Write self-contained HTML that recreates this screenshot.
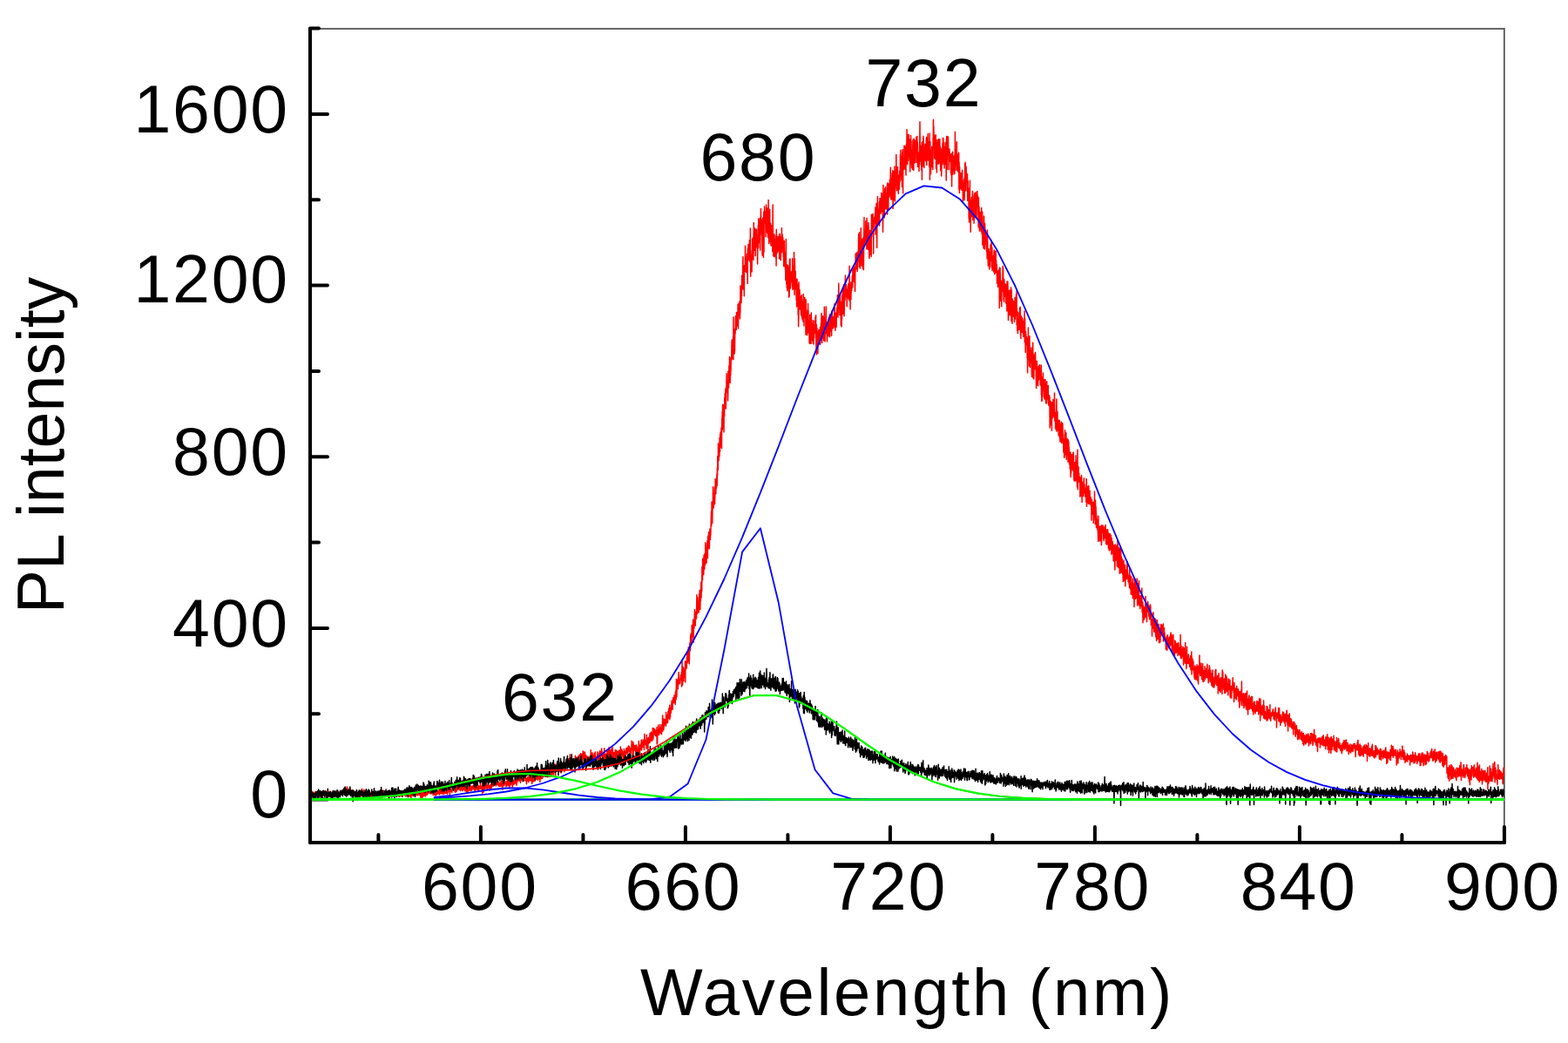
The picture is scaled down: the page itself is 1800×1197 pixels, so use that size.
<!DOCTYPE html>
<html><head><meta charset="utf-8"><title>PL spectrum</title><style>html,body{margin:0;padding:0;background:#fff;}svg{display:block;}</style></head><body>
<svg width="1800" height="1197" viewBox="0 0 1800 1197">
<rect width="1800" height="1197" fill="#fff"/>
<defs><clipPath id="c"><rect x="356" y="33" width="1371" height="934"/></clipPath></defs>
<rect x="356" y="32" width="1371" height="2" fill="#666"/>
<rect x="1726" y="32" width="1" height="935" fill="#4a4a4a"/>
<rect x="1727" y="32" width="1" height="935" fill="#8a8a8a"/>
<g stroke="#000" stroke-width="4" stroke-linecap="round"><line x1="356" y1="917.6" x2="376" y2="917.6"/><line x1="356" y1="819.3" x2="366" y2="819.3"/><line x1="356" y1="720.9" x2="376" y2="720.9"/><line x1="356" y1="622.6" x2="366" y2="622.6"/><line x1="356" y1="524.3" x2="376" y2="524.3"/><line x1="356" y1="426.0" x2="366" y2="426.0"/><line x1="356" y1="327.6" x2="376" y2="327.6"/><line x1="356" y1="229.3" x2="366" y2="229.3"/><line x1="356" y1="131.0" x2="376" y2="131.0"/><line x1="356" y1="32.6" x2="366" y2="32.6"/><line x1="434.4" y1="967" x2="434.4" y2="958"/><line x1="551.9" y1="967" x2="551.9" y2="949"/><line x1="669.4" y1="967" x2="669.4" y2="958"/><line x1="786.9" y1="967" x2="786.9" y2="949"/><line x1="904.4" y1="967" x2="904.4" y2="958"/><line x1="1021.9" y1="967" x2="1021.9" y2="949"/><line x1="1139.4" y1="967" x2="1139.4" y2="958"/><line x1="1256.9" y1="967" x2="1256.9" y2="949"/><line x1="1374.4" y1="967" x2="1374.4" y2="958"/><line x1="1491.9" y1="967" x2="1491.9" y2="949"/><line x1="1609.4" y1="967" x2="1609.4" y2="958"/><line x1="1726.9" y1="967" x2="1726.9" y2="949"/></g>
<g clip-path="url(#c)">
<polyline points="356.1,911.6 356.3,909.5 356.5,909.7 356.7,912.5 356.9,912.1 357.1,912.4 357.3,910.5 357.5,911.4 357.7,910.0 357.9,914.2 358.1,908.5 358.3,911.1 358.5,909.8 358.6,911.0 358.8,911.3 359.0,909.9 359.2,909.2 359.4,910.8 359.6,910.7 359.8,909.3 360.0,911.8 360.2,912.8 360.4,909.7 360.6,911.4 360.8,913.4 361.0,911.6 361.2,911.0 361.4,912.2 361.6,912.6 361.8,910.1 362.0,908.7 362.2,910.6 362.4,911.5 362.6,909.6 362.8,909.1 363.0,910.8 363.2,909.5 363.3,908.7 363.5,910.7 363.7,911.8 363.9,909.9 364.1,910.1 364.3,908.7 364.5,912.6 364.7,911.7 364.9,912.0 365.1,913.5 365.3,910.5 365.5,909.9 365.7,912.0 365.9,908.6 366.1,909.6 366.3,910.0 366.5,910.5 366.7,909.7 366.9,913.5 367.1,910.4 367.3,910.5 367.5,914.4 367.7,911.0 367.9,912.0 368.0,910.3 368.2,912.3 368.4,911.6 368.6,911.0 368.8,913.0 369.0,910.5 369.2,911.6 369.4,910.5 369.6,912.1 369.8,909.4 370.0,910.1 370.2,911.3 370.4,909.9 370.6,908.7 370.8,907.8 371.0,913.2 371.2,909.1 371.4,909.7 371.6,910.6 371.8,912.1 372.0,908.3 372.2,912.4 372.4,909.5 372.6,908.3 372.7,913.1 372.9,911.0 373.1,912.7 373.3,910.2 373.5,908.2 373.7,907.5 373.9,913.8 374.1,911.9 374.3,910.0 374.5,908.6 374.7,910.6 374.9,912.6 375.1,911.0 375.3,911.6 375.5,912.0 375.7,912.9 375.9,911.2 376.1,911.3 376.3,912.0 376.5,912.3 376.7,914.0 376.9,912.8 377.1,910.0 377.3,912.3 377.4,914.4 377.6,909.9 377.8,911.2 378.0,908.6 378.2,912.0 378.4,912.9 378.6,914.5 378.8,910.0 379.0,908.0 379.2,913.6 379.4,913.3 379.6,911.3 379.8,913.7 380.0,912.8 380.2,912.9 380.4,912.0 380.6,910.5 380.8,912.3 381.0,910.8 381.2,912.9 381.4,911.6 381.6,915.6 381.8,914.4 382.0,910.7 382.1,912.9 382.3,910.9 382.5,910.9 382.7,909.5 382.9,910.3 383.1,909.9 383.3,911.7 383.5,912.6 383.7,912.6 383.9,912.1 384.1,913.2 384.3,912.2 384.5,911.4 384.7,910.8 384.9,911.7 385.1,914.3 385.3,911.3 385.5,910.8 385.7,909.4 385.9,910.2 386.1,912.1 386.3,912.2 386.5,907.7 386.7,909.7 386.8,907.9 387.0,907.4 387.2,912.2 387.4,910.1 387.6,909.9 387.8,909.7 388.0,909.7 388.2,910.1 388.4,910.1 388.6,912.8 388.8,910.6 389.0,911.5 389.2,910.0 389.4,910.9 389.6,909.1 389.8,908.8 390.0,909.5 390.2,909.5 390.4,909.8 390.6,910.6 390.8,910.1 391.0,910.5 391.2,909.0 391.4,909.5 391.5,908.5 391.7,911.6 391.9,907.8 392.1,910.5 392.3,910.4 392.5,909.4 392.7,910.0 392.9,908.5 393.1,909.9 393.3,910.7 393.5,910.3 393.7,906.4 393.9,908.6 394.1,910.7 394.3,908.5 394.5,911.3 394.7,905.1 394.9,911.1 395.1,907.3 395.3,907.1 395.5,910.7 395.7,907.3 395.9,905.8 396.1,906.7 396.2,907.0 396.4,905.6 396.6,906.9 396.8,906.5 397.0,907.2 397.2,905.6 397.4,908.6 397.6,905.1 397.8,907.5 398.0,908.6 398.2,905.7 398.4,903.0 398.6,904.4 398.8,907.3 399.0,904.9 399.2,907.2 399.4,906.6 399.6,906.3 399.8,911.0 400.0,906.3 400.2,908.8 400.4,908.3 400.6,909.9 400.8,910.1 400.9,909.1 401.1,905.9 401.3,904.5 401.5,907.8 401.7,905.9 401.9,908.5 402.1,911.7 402.3,908.0 402.5,907.6 402.7,909.3 402.9,908.1 403.1,907.7 403.3,910.4 403.5,911.6 403.7,909.5 403.9,909.6 404.1,910.0 404.3,907.8 404.5,906.7 404.7,910.5 404.9,908.8 405.1,908.6 405.3,909.2 405.5,908.8 405.6,911.4 405.8,909.7 406.0,907.8 406.2,910.0 406.4,912.4 406.6,910.6 406.8,909.6 407.0,911.1 407.2,912.6 407.4,909.3 407.6,913.8 407.8,911.0 408.0,911.8 408.2,913.6 408.4,909.7 408.6,911.0 408.8,913.4 409.0,910.5 409.2,912.0 409.4,914.3 409.6,912.3 409.8,910.7 410.0,910.1 410.2,910.8 410.3,911.0 410.5,910.3 410.7,911.4 410.9,909.2 411.1,910.9 411.3,910.7 411.5,910.4 411.7,912.9 411.9,912.4 412.1,909.0 412.3,910.9 412.5,911.9 412.7,911.0 412.9,912.3 413.1,911.1 413.3,912.6 413.5,911.1 413.7,914.0 413.9,909.4 414.1,912.2 414.3,913.8 414.5,911.6 414.7,911.8 414.9,910.9 415.0,912.9 415.2,910.4 415.4,905.3 415.6,912.9 415.8,910.3 416.0,911.3 416.2,910.5 416.4,913.6 416.6,912.5 416.8,910.0 417.0,910.8 417.2,908.2 417.4,911.9 417.6,910.5 417.8,906.3 418.0,912.1 418.2,912.4 418.4,911.1 418.6,911.2 418.8,910.0 419.0,911.2 419.2,912.7 419.4,911.3 419.6,907.7 419.7,909.9 419.9,916.3 420.1,912.3 420.3,913.6 420.5,911.3 420.7,912.7 420.9,909.5 421.1,911.1 421.3,911.2 421.5,912.4 421.7,912.7 421.9,912.2 422.1,910.7 422.3,911.9 422.5,913.2 422.7,910.7 422.9,912.4 423.1,912.8 423.3,913.8 423.5,913.4 423.7,913.5 423.9,916.8 424.1,910.9 424.3,911.5 424.4,912.7 424.6,910.7 424.8,911.6 425.0,911.7 425.2,916.1 425.4,912.6 425.6,911.4 425.8,909.8 426.0,909.4 426.2,910.1 426.4,914.1 426.6,915.7 426.8,911.4 427.0,912.3 427.2,910.9 427.4,912.6 427.6,912.1 427.8,914.7 428.0,911.8 428.2,913.2 428.4,911.9 428.6,911.8 428.8,912.7 429.0,912.0 429.1,912.5 429.3,911.2 429.5,911.6 429.7,913.2 429.9,913.2 430.1,909.6 430.3,912.4 430.5,910.7 430.7,911.6 430.9,913.0 431.1,913.3 431.3,911.9 431.5,911.7 431.7,911.2 431.9,914.0 432.1,913.0 432.3,912.3 432.5,909.7 432.7,915.7 432.9,911.5 433.1,913.0 433.3,911.5 433.5,912.9 433.7,911.6 433.8,909.7 434.0,911.5 434.2,911.4 434.4,911.4 434.6,913.1 434.8,911.0 435.0,912.1 435.2,913.0 435.4,911.7 435.6,911.9 435.8,910.4 436.0,911.5 436.2,912.2 436.4,909.1 436.6,909.7 436.8,909.2 437.0,910.2 437.2,911.2 437.4,911.7 437.6,911.4 437.8,909.5 438.0,910.8 438.2,913.1 438.4,910.9 438.5,913.0 438.7,910.5 438.9,912.6 439.1,912.6 439.3,910.4 439.5,910.7 439.7,913.0 439.9,909.3 440.1,907.1 440.3,912.6 440.5,907.5 440.7,911.3 440.9,911.0 441.1,910.5 441.3,912.5 441.5,908.3 441.7,909.6 441.9,911.6 442.1,910.9 442.3,912.9 442.5,911.2 442.7,909.4 442.9,913.6 443.1,911.8 443.2,911.0 443.4,909.8 443.6,909.5 443.8,912.4 444.0,913.0 444.2,911.3 444.4,912.6 444.6,912.6 444.8,910.6 445.0,909.7 445.2,911.9 445.4,912.6 445.6,911.4 445.8,915.1 446.0,912.2 446.2,913.7 446.4,908.3 446.6,910.8 446.8,911.6 447.0,912.0 447.2,915.4 447.4,910.4 447.6,908.9 447.8,912.5 447.9,910.2 448.1,910.1 448.3,913.6 448.5,909.7 448.7,909.1 448.9,910.8 449.1,911.3 449.3,910.0 449.5,913.6 449.7,911.1 449.9,909.6 450.1,913.2 450.3,909.8 450.5,911.9 450.7,914.5 450.9,911.5 451.1,912.8 451.3,910.8 451.5,913.1 451.7,909.7 451.9,912.4 452.1,910.7 452.3,912.1 452.5,911.7 452.6,909.3 452.8,910.8 453.0,911.7 453.2,913.1 453.4,909.3 453.6,910.0 453.8,911.6 454.0,910.8 454.2,912.8 454.4,912.8 454.6,912.6 454.8,910.8 455.0,910.9 455.2,912.6 455.4,910.4 455.6,910.3 455.8,911.4 456.0,910.1 456.2,912.2 456.4,912.0 456.6,911.1 456.8,912.0 457.0,910.7 457.2,914.0 457.3,909.8 457.5,913.3 457.7,912.3 457.9,914.2 458.1,911.1 458.3,910.0 458.5,910.3 458.7,910.6 458.9,914.3 459.1,913.0 459.3,912.5 459.5,913.1 459.7,909.9 459.9,911.3 460.1,911.5 460.3,910.7 460.5,912.9 460.7,912.8 460.9,912.8 461.1,910.6 461.3,910.8 461.5,910.5 461.7,909.7 461.9,913.5 462.0,912.3 462.2,911.2 462.4,913.6 462.6,912.3 462.8,909.9 463.0,909.8 463.2,909.8 463.4,911.5 463.6,911.9 463.8,909.9 464.0,912.2 464.2,911.1 464.4,909.5 464.6,912.2 464.8,912.6 465.0,911.7 465.2,910.7 465.4,910.9 465.6,911.4 465.8,910.7 466.0,914.1 466.2,912.9 466.4,911.2 466.6,912.9 466.7,913.5 466.9,913.3 467.1,912.8 467.3,911.6 467.5,912.9 467.7,910.8 467.9,908.5 468.1,911.4 468.3,909.2 468.5,910.7 468.7,913.0 468.9,911.6 469.1,912.8 469.3,910.0 469.5,913.1 469.7,909.1 469.9,910.3 470.1,914.5 470.3,910.0 470.5,908.7 470.7,912.5 470.9,909.6 471.1,914.1 471.3,910.8 471.4,913.9 471.6,910.5 471.8,914.1 472.0,915.5 472.2,910.6 472.4,907.6 472.6,912.3 472.8,910.0 473.0,911.2 473.2,911.9 473.4,910.4 473.6,908.7 473.8,913.3 474.0,910.4 474.2,910.7 474.4,913.6 474.6,908.6 474.8,908.0 475.0,912.6 475.2,908.2 475.4,910.8 475.6,911.1 475.8,908.3 476.0,910.3 476.1,910.1 476.3,908.0 476.5,908.3 476.7,908.9 476.9,912.6 477.1,912.9 477.3,908.4 477.5,911.8 477.7,910.0 477.9,912.0 478.1,910.6 478.3,912.4 478.5,907.6 478.7,912.0 478.9,910.6 479.1,910.7 479.3,908.5 479.5,912.9 479.7,910.7 479.9,911.1 480.1,909.9 480.3,910.1 480.5,911.7 480.7,910.6 480.8,911.7 481.0,910.4 481.2,911.4 481.4,912.4 481.6,911.5 481.8,910.9 482.0,907.8 482.2,912.4 482.4,911.1 482.6,909.3 482.8,915.2 483.0,914.7 483.2,913.8 483.4,912.0 483.6,907.7 483.8,911.2 484.0,909.8 484.2,912.2 484.4,915.9 484.6,915.6 484.8,910.0 485.0,911.3 485.2,913.8 485.4,909.7 485.5,914.1 485.7,909.6 485.9,909.0 486.1,912.6 486.3,913.2 486.5,909.8 486.7,913.0 486.9,909.7 487.1,913.1 487.3,909.6 487.5,910.8 487.7,911.6 487.9,912.4 488.1,910.4 488.3,914.0 488.5,911.2 488.7,911.3 488.9,909.5 489.1,912.7 489.3,907.6 489.5,911.1 489.7,912.4 489.9,908.1 490.1,907.6 490.2,910.7 490.4,911.9 490.6,910.3 490.8,911.4 491.0,910.7 491.2,907.4 491.4,909.4 491.6,909.7 491.8,909.3 492.0,909.9 492.2,908.3 492.4,908.1 492.6,910.2 492.8,909.3 493.0,905.2 493.2,908.6 493.4,909.5 493.6,905.6 493.8,909.1 494.0,910.9 494.2,907.8 494.4,910.6 494.6,909.9 494.8,908.4 494.9,909.3 495.1,910.4 495.3,910.1 495.5,910.3 495.7,907.3 495.9,910.7 496.1,910.6 496.3,906.1 496.5,910.7 496.7,907.3 496.9,907.7 497.1,910.3 497.3,912.6 497.5,909.4 497.7,909.1 497.9,908.6 498.1,910.2 498.3,908.2 498.5,907.9 498.7,912.1 498.9,907.7 499.1,909.9 499.3,911.2 499.5,910.7 499.6,906.8 499.8,908.3 500.0,913.2 500.2,909.8 500.4,910.2 500.6,910.2 500.8,910.7 501.0,912.3 501.2,908.2 501.4,911.3 501.6,910.2 501.8,910.6 502.0,910.7 502.2,908.1 502.4,908.6 502.6,910.5 502.8,910.9 503.0,910.0 503.2,907.3 503.4,908.7 503.6,908.5 503.8,909.4 504.0,909.2 504.2,908.3 504.3,911.9 504.5,905.6 504.7,909.9 504.9,909.4 505.1,906.0 505.3,907.9 505.5,908.2 505.7,909.3 505.9,911.1 506.1,908.0 506.3,906.1 506.5,909.9 506.7,905.8 506.9,910.4 507.1,909.7 507.3,907.4 507.5,908.3 507.7,907.0 507.9,909.6 508.1,910.1 508.3,911.6 508.5,910.3 508.7,910.0 508.9,910.6 509.0,907.4 509.2,909.1 509.4,911.5 509.6,903.3 509.8,909.4 510.0,910.1 510.2,905.5 510.4,905.7 510.6,910.0 510.8,910.6 511.0,909.7 511.2,905.8 511.4,908.4 511.6,909.3 511.8,907.9 512.0,905.6 512.2,910.4 512.4,908.5 512.6,910.3 512.8,903.6 513.0,904.2 513.2,905.8 513.4,907.7 513.6,906.2 513.7,911.3 513.9,906.8 514.1,909.7 514.3,909.6 514.5,908.4 514.7,907.7 514.9,905.9 515.1,905.6 515.3,906.4 515.5,908.6 515.7,905.5 515.9,907.0 516.1,904.6 516.3,908.6 516.5,912.1 516.7,907.8 516.9,902.8 517.1,906.1 517.3,907.4 517.5,905.4 517.7,906.2 517.9,906.3 518.1,908.2 518.3,907.2 518.4,907.0 518.6,908.6 518.8,909.5 519.0,907.1 519.2,905.5 519.4,906.1 519.6,906.4 519.8,906.3 520.0,902.2 520.2,906.6 520.4,905.0 520.6,903.2 520.8,906.8 521.0,906.3 521.2,904.7 521.4,903.3 521.6,905.9 521.8,905.7 522.0,906.2 522.2,908.6 522.4,904.0 522.6,906.6 522.8,909.3 523.0,906.2 523.1,909.2 523.3,907.7 523.5,905.6 523.7,907.4 523.9,903.4 524.1,908.3 524.3,904.8 524.5,904.2 524.7,902.4 524.9,903.4 525.1,904.7 525.3,904.9 525.5,905.1 525.7,902.7 525.9,906.2 526.1,903.9 526.3,905.1 526.5,904.4 526.7,905.4 526.9,900.6 527.1,906.1 527.3,904.3 527.5,904.3 527.7,903.6 527.8,903.9 528.0,903.9 528.2,902.7 528.4,907.6 528.6,904.6 528.8,907.0 529.0,903.9 529.2,906.6 529.4,906.1 529.6,904.2 529.8,901.1 530.0,902.6 530.2,903.1 530.4,900.8 530.6,905.4 530.8,907.6 531.0,904.2 531.2,903.9 531.4,900.9 531.6,899.1 531.8,906.2 532.0,898.6 532.2,900.5 532.4,902.1 532.5,903.2 532.7,899.2 532.9,904.1 533.1,905.4 533.3,904.3 533.5,907.5 533.7,903.9 533.9,905.3 534.1,904.5 534.3,904.5 534.5,907.5 534.7,902.7 534.9,907.6 535.1,903.7 535.3,908.8 535.5,904.8 535.7,907.2 535.9,905.5 536.1,906.8 536.3,909.9 536.5,907.7 536.7,905.2 536.9,904.0 537.1,908.2 537.2,909.5 537.4,906.9 537.6,905.4 537.8,906.2 538.0,906.5 538.2,903.0 538.4,902.7 538.6,903.1 538.8,906.6 539.0,904.5 539.2,905.0 539.4,907.6 539.6,902.8 539.8,904.5 540.0,905.7 540.2,901.8 540.4,903.2 540.6,903.0 540.8,902.4 541.0,903.4 541.2,907.6 541.4,905.8 541.6,902.9 541.8,906.6 541.9,904.9 542.1,904.1 542.3,901.9 542.5,902.1 542.7,902.9 542.9,905.1 543.1,902.7 543.3,903.5 543.5,904.8 543.7,901.6 543.9,903.3 544.1,905.9 544.3,901.5 544.5,904.6 544.7,902.8 544.9,907.1 545.1,903.8 545.3,905.7 545.5,905.6 545.7,907.4 545.9,898.8 546.1,903.5 546.3,902.5 546.5,900.6 546.6,903.1 546.8,901.6 547.0,905.5 547.2,902.2 547.4,903.4 547.6,901.4 547.8,902.1 548.0,905.4 548.2,906.5 548.4,904.7 548.6,901.0 548.8,901.7 549.0,901.8 549.2,907.0 549.4,908.5 549.6,904.1 549.8,903.6 550.0,904.2 550.2,902.2 550.4,903.3 550.6,905.5 550.8,904.9 551.0,902.7 551.2,902.9 551.3,903.2 551.5,898.2 551.7,903.7 551.9,902.9 552.1,905.4 552.3,904.1 552.5,902.2 552.7,902.2 552.9,903.8 553.1,902.6 553.3,903.4 553.5,907.6 553.7,910.6 553.9,898.6 554.1,901.7 554.3,903.6 554.5,907.2 554.7,906.2 554.9,900.4 555.1,909.3 555.3,903.8 555.5,901.1 555.7,902.6 555.9,901.1 556.0,902.9 556.2,897.3 556.4,904.6 556.6,905.2 556.8,901.5 557.0,898.9 557.2,902.1 557.4,899.7 557.6,903.1 557.8,904.6 558.0,899.0 558.2,898.7 558.4,898.8 558.6,903.3 558.8,904.9 559.0,905.1 559.2,903.1 559.4,901.4 559.6,901.6 559.8,906.0 560.0,902.4 560.2,902.8 560.4,902.7 560.6,903.0 560.7,903.3 560.9,901.6 561.1,902.6 561.3,902.3 561.5,904.3 561.7,901.9 561.9,903.0 562.1,907.3 562.3,901.5 562.5,903.1 562.7,900.4 562.9,902.7 563.1,902.4 563.3,901.6 563.5,901.9 563.7,902.7 563.9,905.6 564.1,897.2 564.3,904.7 564.5,901.7 564.7,899.3 564.9,899.7 565.1,899.2 565.3,898.6 565.4,897.3 565.6,899.4 565.8,893.5 566.0,902.2 566.2,899.4 566.4,900.7 566.6,901.1 566.8,899.2 567.0,896.6 567.2,901.5 567.4,901.5 567.6,898.2 567.8,898.5 568.0,895.2 568.2,897.2 568.4,898.9 568.6,900.1 568.8,898.7 569.0,899.4 569.2,902.0 569.4,898.7 569.6,899.0 569.8,899.0 570.0,899.4 570.1,894.5 570.3,896.8 570.5,896.2 570.7,899.8 570.9,900.8 571.1,899.2 571.3,898.1 571.5,899.6 571.7,899.4 571.9,896.9 572.1,898.6 572.3,901.7 572.5,900.5 572.7,901.1 572.9,899.3 573.1,902.5 573.3,900.3 573.5,898.3 573.7,899.9 573.9,902.1 574.1,901.4 574.3,899.7 574.5,898.8 574.7,897.9 574.8,900.1 575.0,902.8 575.2,896.4 575.4,898.9 575.6,898.6 575.8,898.7 576.0,901.7 576.2,900.0 576.4,898.5 576.6,896.6 576.8,898.8 577.0,906.2 577.2,899.4 577.4,898.0 577.6,895.7 577.8,897.0 578.0,892.8 578.2,895.3 578.4,895.5 578.6,896.4 578.8,901.9 579.0,896.6 579.2,897.2 579.4,899.8 579.5,897.2 579.7,897.6 579.9,899.6 580.1,898.8 580.3,899.1 580.5,897.8 580.7,899.3 580.9,897.0 581.1,902.8 581.3,898.8 581.5,902.1 581.7,899.2 581.9,896.8 582.1,898.0 582.3,898.3 582.5,897.8 582.7,894.3 582.9,900.7 583.1,896.0 583.3,901.8 583.5,899.3 583.7,897.9 583.9,900.4 584.1,898.0 584.2,896.9 584.4,901.6 584.6,899.0 584.8,899.9 585.0,903.7 585.2,899.6 585.4,901.1 585.6,895.9 585.8,901.3 586.0,895.0 586.2,900.4 586.4,894.3 586.6,897.6 586.8,897.6 587.0,896.6 587.2,896.2 587.4,894.8 587.6,893.8 587.8,898.7 588.0,900.7 588.2,904.0 588.4,898.2 588.6,895.3 588.8,896.1 588.9,896.6 589.1,897.6 589.3,898.2 589.5,897.2 589.7,895.5 589.9,900.8 590.1,894.6 590.3,899.9 590.5,896.7 590.7,897.8 590.9,897.1 591.1,898.7 591.3,898.9 591.5,896.6 591.7,898.6 591.9,889.7 592.1,896.8 592.3,897.2 592.5,896.8 592.7,898.0 592.9,901.3 593.1,895.7 593.3,894.1 593.5,898.5 593.6,894.5 593.8,897.4 594.0,894.3 594.2,893.2 594.4,892.7 594.6,892.7 594.8,895.4 595.0,891.3 595.2,894.5 595.4,892.4 595.6,891.4 595.8,893.9 596.0,896.3 596.2,891.4 596.4,895.7 596.6,895.1 596.8,895.6 597.0,890.6 597.2,893.1 597.4,898.5 597.6,890.9 597.8,887.5 598.0,888.2 598.2,894.3 598.3,892.7 598.5,891.6 598.7,890.7 598.9,892.9 599.1,895.8 599.3,891.0 599.5,891.4 599.7,896.4 599.9,893.8 600.1,892.1 600.3,892.7 600.5,891.3 600.7,890.6 600.9,891.2 601.1,892.9 601.3,896.2 601.5,891.1 601.7,889.1 601.9,887.7 602.1,893.1 602.3,893.2 602.5,889.5 602.7,889.6 602.9,892.7 603.0,891.8 603.2,895.9 603.4,892.4 603.6,896.2 603.8,894.5 604.0,894.5 604.2,895.5 604.4,899.8 604.6,896.4 604.8,893.3 605.0,894.3 605.2,895.2 605.4,892.9 605.6,892.2 605.8,891.7 606.0,896.1 606.2,893.8 606.4,894.7 606.6,896.0 606.8,897.6 607.0,893.8 607.2,895.8 607.4,887.6 607.6,893.5 607.7,893.8 607.9,894.1 608.1,887.9 608.3,895.4 608.5,893.2 608.7,894.8 608.9,893.0 609.1,892.7 609.3,889.5 609.5,896.3 609.7,892.5 609.9,888.0 610.1,893.8 610.3,892.9 610.5,894.8 610.7,899.5 610.9,892.7 611.1,889.2 611.3,893.7 611.5,897.4 611.7,891.6 611.9,892.1 612.1,889.5 612.3,889.7 612.4,892.8 612.6,890.9 612.8,896.8 613.0,888.6 613.2,891.0 613.4,888.4 613.6,888.2 613.8,891.8 614.0,891.2 614.2,893.0 614.4,896.1 614.6,890.6 614.8,889.7 615.0,893.0 615.2,887.9 615.4,889.5 615.6,888.5 615.8,891.8 616.0,894.5 616.2,887.5 616.4,887.9 616.6,890.0 616.8,890.9 617.0,890.5 617.1,890.1 617.3,891.1 617.5,895.3 617.7,887.5 617.9,893.8 618.1,890.5 618.3,890.3 618.5,888.6 618.7,893.8 618.9,885.7 619.1,887.1 619.3,886.7 619.5,885.2 619.7,890.9 619.9,897.4 620.1,887.6 620.3,884.8 620.5,885.2 620.7,890.0 620.9,888.7 621.1,887.7 621.3,893.7 621.5,890.5 621.7,890.5 621.8,884.2 622.0,890.6 622.2,884.3 622.4,888.7 622.6,893.5 622.8,882.4 623.0,891.4 623.2,886.8 623.4,883.5 623.6,889.8 623.8,891.6 624.0,884.9 624.2,887.5 624.4,891.0 624.6,890.4 624.8,888.3 625.0,884.2 625.2,887.6 625.4,884.8 625.6,881.8 625.8,882.8 626.0,882.3 626.2,882.9 626.4,891.1 626.5,882.9 626.7,885.6 626.9,887.0 627.1,889.9 627.3,891.5 627.5,890.2 627.7,887.1 627.9,890.7 628.1,889.8 628.3,889.3 628.5,885.7 628.7,888.6 628.9,888.3 629.1,884.1 629.3,889.1 629.5,886.4 629.7,891.4 629.9,887.4 630.1,888.0 630.3,887.9 630.5,889.7 630.7,891.4 630.9,889.1 631.1,889.5 631.2,884.9 631.4,885.2 631.6,891.3 631.8,885.6 632.0,888.7 632.2,885.7 632.4,888.3 632.6,891.0 632.8,883.3 633.0,884.7 633.2,889.5 633.4,891.3 633.6,887.1 633.8,888.8 634.0,886.2 634.2,883.1 634.4,880.4 634.6,885.8 634.8,880.4 635.0,880.9 635.2,885.7 635.4,889.3 635.6,881.6 635.8,882.2 635.9,876.7 636.1,879.4 636.3,881.2 636.5,878.3 636.7,886.4 636.9,882.4 637.1,883.6 637.3,877.2 637.5,880.6 637.7,891.6 637.9,877.7 638.1,884.5 638.3,879.1 638.5,882.8 638.7,880.4 638.9,879.0 639.1,880.2 639.3,883.6 639.5,876.2 639.7,879.2 639.9,880.5 640.1,878.2 640.3,882.0 640.5,874.4 640.6,879.6 640.8,879.2 641.0,879.4 641.2,883.4 641.4,884.3 641.6,880.1 641.8,879.9 642.0,876.9 642.2,879.9 642.4,884.9 642.6,880.0 642.8,879.2 643.0,878.8 643.2,881.0 643.4,886.0 643.6,878.5 643.8,884.5 644.0,880.3 644.2,887.1 644.4,879.6 644.6,884.3 644.8,878.3 645.0,875.9 645.2,877.7 645.3,884.9 645.5,884.0 645.7,883.6 645.9,878.6 646.1,879.4 646.3,879.9 646.5,879.3 646.7,878.4 646.9,878.0 647.1,874.6 647.3,880.2 647.5,879.3 647.7,885.8 647.9,884.1 648.1,881.9 648.3,883.4 648.5,878.7 648.7,875.9 648.9,880.5 649.1,880.5 649.3,880.3 649.5,878.0 649.7,879.9 649.9,876.5 650.0,876.6 650.2,876.1 650.4,874.5 650.6,876.6 650.8,875.9 651.0,870.4 651.2,876.0 651.4,873.1 651.6,875.3 651.8,876.8 652.0,876.7 652.2,877.8 652.4,874.9 652.6,876.9 652.8,876.2 653.0,870.8 653.2,875.2 653.4,870.9 653.6,873.8 653.8,871.8 654.0,876.6 654.2,874.1 654.4,865.8 654.6,871.7 654.7,871.1 654.9,873.6 655.1,871.4 655.3,878.1 655.5,877.0 655.7,872.6 655.9,871.2 656.1,875.2 656.3,874.4 656.5,874.9 656.7,874.3 656.9,877.6 657.1,878.3 657.3,873.7 657.5,879.3 657.7,876.7 657.9,875.6 658.1,877.0 658.3,872.6 658.5,874.9 658.7,873.7 658.9,876.9 659.1,876.0 659.3,871.7 659.4,872.2 659.6,874.9 659.8,872.0 660.0,872.5 660.2,872.4 660.4,867.3 660.6,873.9 660.8,870.9 661.0,870.6 661.2,872.6 661.4,875.6 661.6,869.0 661.8,870.3 662.0,870.8 662.2,870.7 662.4,870.6 662.6,873.6 662.8,869.5 663.0,876.6 663.2,870.5 663.4,875.6 663.6,871.7 663.8,868.1 664.0,871.5 664.1,872.3 664.3,869.0 664.5,871.8 664.7,872.4 664.9,872.4 665.1,866.0 665.3,869.0 665.5,869.7 665.7,875.6 665.9,869.4 666.1,876.0 666.3,869.9 666.5,875.4 666.7,864.8 666.9,877.3 667.1,867.1 667.3,868.4 667.5,877.1 667.7,871.6 667.9,865.5 668.1,866.3 668.3,875.7 668.5,871.4 668.7,873.4 668.8,872.6 669.0,871.0 669.2,862.1 669.4,867.9 669.6,869.0 669.8,869.2 670.0,865.7 670.2,865.6 670.4,871.3 670.6,863.1 670.8,872.1 671.0,869.5 671.2,867.3 671.4,863.2 671.6,870.7 671.8,868.9 672.0,865.7 672.2,868.5 672.4,867.1 672.6,867.8 672.8,870.9 673.0,869.9 673.2,869.2 673.4,872.8 673.5,867.4 673.7,880.1 673.9,876.5 674.1,868.3 674.3,871.9 674.5,875.7 674.7,872.0 674.9,869.4 675.1,875.1 675.3,870.2 675.5,873.2 675.7,872.9 675.9,872.6 676.1,868.2 676.3,875.9 676.5,873.0 676.7,869.3 676.9,875.7 677.1,876.9 677.3,869.2 677.5,871.1 677.7,871.6 677.9,870.5 678.1,874.4 678.2,860.7 678.4,874.3 678.6,872.3 678.8,875.8 679.0,872.1 679.2,865.2 679.4,870.4 679.6,868.2 679.8,871.9 680.0,863.7 680.2,869.3 680.4,874.1 680.6,866.8 680.8,870.7 681.0,867.0 681.2,868.5 681.4,867.9 681.6,868.1 681.8,871.6 682.0,873.6 682.2,864.7 682.4,868.5 682.6,866.9 682.8,869.5 682.9,875.0 683.1,872.3 683.3,862.9 683.5,870.6 683.7,869.2 683.9,873.1 684.1,869.9 684.3,869.5 684.5,869.1 684.7,868.7 684.9,870.8 685.1,870.7 685.3,868.8 685.5,867.7 685.7,869.5 685.9,862.9 686.1,868.3 686.3,868.5 686.5,871.4 686.7,865.5 686.9,872.7 687.1,874.8 687.3,872.4 687.5,866.7 687.6,872.8 687.8,864.1 688.0,868.6 688.2,873.8 688.4,869.1 688.6,861.7 688.8,871.0 689.0,872.4 689.2,865.7 689.4,862.7 689.6,863.6 689.8,868.2 690.0,866.2 690.2,865.6 690.4,862.5 690.6,858.9 690.8,867.0 691.0,862.0 691.2,867.9 691.4,864.8 691.6,870.4 691.8,870.0 692.0,866.0 692.2,871.0 692.3,864.9 692.5,870.3 692.7,868.4 692.9,869.2 693.1,870.4 693.3,869.0 693.5,865.8 693.7,858.7 693.9,874.1 694.1,868.9 694.3,870.6 694.5,873.2 694.7,868.9 694.9,872.9 695.1,869.9 695.3,865.0 695.5,876.4 695.7,867.9 695.9,866.9 696.1,871.5 696.3,865.8 696.5,866.0 696.7,868.0 696.9,862.0 697.0,870.6 697.2,863.1 697.4,865.8 697.6,868.4 697.8,864.9 698.0,865.2 698.2,860.8 698.4,869.0 698.6,864.2 698.8,865.1 699.0,857.8 699.2,867.6 699.4,859.9 699.6,870.1 699.8,862.7 700.0,864.7 700.2,863.0 700.4,867.1 700.6,871.7 700.8,870.4 701.0,860.2 701.2,864.3 701.4,868.2 701.6,861.9 701.7,867.9 701.9,867.9 702.1,869.7 702.3,861.1 702.5,858.3 702.7,868.9 702.9,864.4 703.1,862.0 703.3,858.0 703.5,874.4 703.7,865.3 703.9,863.6 704.1,871.3 704.3,864.6 704.5,865.5 704.7,863.6 704.9,868.5 705.1,864.9 705.3,868.7 705.5,864.4 705.7,866.0 705.9,868.0 706.1,871.9 706.3,860.8 706.4,862.9 706.6,863.7 706.8,869.4 707.0,868.3 707.2,861.0 707.4,864.3 707.6,870.1 707.8,866.8 708.0,866.4 708.2,867.6 708.4,870.2 708.6,862.1 708.8,864.3 709.0,867.1 709.2,871.9 709.4,868.2 709.6,866.0 709.8,862.7 710.0,867.1 710.2,861.7 710.4,865.1 710.6,868.3 710.8,875.8 711.0,869.9 711.1,871.0 711.3,866.1 711.5,864.4 711.7,860.5 711.9,865.6 712.1,869.8 712.3,857.0 712.5,864.4 712.7,866.6 712.9,866.6 713.1,870.6 713.3,863.4 713.5,864.4 713.7,860.0 713.9,861.8 714.1,862.7 714.3,861.4 714.5,867.0 714.7,867.6 714.9,866.2 715.1,870.5 715.3,866.4 715.5,866.9 715.7,863.1 715.8,865.5 716.0,872.3 716.2,864.9 716.4,859.6 716.6,871.4 716.8,867.2 717.0,864.2 717.2,868.9 717.4,865.9 717.6,863.4 717.8,868.3 718.0,862.2 718.2,861.6 718.4,867.7 718.6,862.7 718.8,858.7 719.0,863.1 719.2,860.7 719.4,859.8 719.6,862.9 719.8,858.2 720.0,860.3 720.2,865.3 720.4,859.6 720.5,858.2 720.7,858.3 720.9,863.6 721.1,859.5 721.3,856.1 721.5,860.3 721.7,856.8 721.9,856.4 722.1,861.3 722.3,858.8 722.5,862.3 722.7,857.3 722.9,861.6 723.1,863.3 723.3,861.3 723.5,861.4 723.7,859.6 723.9,859.1 724.1,865.1 724.3,863.0 724.5,859.1 724.7,858.5 724.9,859.8 725.1,850.2 725.2,855.7 725.4,860.1 725.6,857.0 725.8,854.6 726.0,858.2 726.2,866.1 726.4,859.2 726.6,859.4 726.8,851.6 727.0,866.5 727.2,853.8 727.4,860.2 727.6,856.1 727.8,860.7 728.0,859.0 728.2,855.4 728.4,859.4 728.6,855.8 728.8,860.1 729.0,861.5 729.2,860.9 729.4,862.1 729.6,860.8 729.8,855.4 729.9,865.2 730.1,867.2 730.3,861.2 730.5,855.0 730.7,857.5 730.9,856.6 731.1,857.0 731.3,864.6 731.5,861.3 731.7,871.9 731.9,864.0 732.1,859.2 732.3,867.3 732.5,869.1 732.7,866.0 732.9,860.0 733.1,856.2 733.3,850.5 733.5,854.7 733.7,865.8 733.9,868.7 734.1,859.0 734.3,855.3 734.5,865.4 734.6,861.0 734.8,860.6 735.0,858.5 735.2,859.1 735.4,856.2 735.6,853.8 735.8,857.4 736.0,854.5 736.2,849.5 736.4,860.9 736.6,860.8 736.8,854.5 737.0,849.0 737.2,855.4 737.4,851.5 737.6,856.8 737.8,851.8 738.0,857.7 738.2,852.4 738.4,853.3 738.6,853.1 738.8,849.1 739.0,850.1 739.2,856.5 739.3,850.5 739.5,860.6 739.7,849.8 739.9,842.6 740.1,851.3 740.3,851.2 740.5,852.8 740.7,849.6 740.9,854.5 741.1,849.9 741.3,853.5 741.5,854.0 741.7,851.7 741.9,852.3 742.1,858.9 742.3,843.5 742.5,851.2 742.7,858.5 742.9,847.2 743.1,851.6 743.3,850.5 743.5,848.4 743.7,854.7 743.9,862.8 744.0,851.2 744.2,849.6 744.4,846.3 744.6,853.2 744.8,850.9 745.0,847.9 745.2,850.6 745.4,850.0 745.6,847.7 745.8,852.5 746.0,841.7 746.2,851.6 746.4,847.4 746.6,848.6 746.8,849.9 747.0,844.5 747.2,842.2 747.4,840.1 747.6,843.3 747.8,847.2 748.0,841.4 748.2,850.6 748.4,844.0 748.6,841.7 748.7,841.1 748.9,847.9 749.1,849.0 749.3,835.5 749.5,844.3 749.7,848.8 749.9,846.8 750.1,841.4 750.3,836.3 750.5,841.1 750.7,836.0 750.9,840.0 751.1,838.9 751.3,836.7 751.5,842.4 751.7,839.6 751.9,842.5 752.1,843.7 752.3,838.3 752.5,844.6 752.7,840.9 752.9,844.7 753.1,841.8 753.3,843.8 753.4,837.0 753.6,841.3 753.8,841.3 754.0,834.6 754.2,853.9 754.4,846.2 754.6,853.0 754.8,841.1 755.0,838.9 755.2,837.7 755.4,839.0 755.6,843.6 755.8,831.9 756.0,837.8 756.2,840.0 756.4,843.4 756.6,836.4 756.8,840.1 757.0,839.6 757.2,836.5 757.4,836.3 757.6,840.7 757.8,831.5 758.0,841.2 758.1,841.6 758.3,835.2 758.5,835.9 758.7,836.0 758.9,837.9 759.1,835.7 759.3,838.2 759.5,842.7 759.7,831.9 759.9,839.3 760.1,835.5 760.3,830.8 760.5,833.6 760.7,821.0 760.9,839.1 761.1,835.8 761.3,831.6 761.5,825.5 761.7,832.3 761.9,837.2 762.1,825.2 762.3,834.2 762.5,830.5 762.7,825.3 762.8,832.0 763.0,830.6 763.2,826.0 763.4,828.8 763.6,826.2 763.8,831.5 764.0,827.4 764.2,831.5 764.4,833.3 764.6,817.5 764.8,823.2 765.0,820.6 765.2,829.1 765.4,824.3 765.6,824.8 765.8,830.1 766.0,820.5 766.2,826.1 766.4,823.3 766.6,829.1 766.8,816.8 767.0,817.4 767.2,818.7 767.4,824.4 767.5,822.2 767.7,813.2 767.9,819.9 768.1,816.7 768.3,816.8 768.5,822.4 768.7,809.2 768.9,825.8 769.1,814.6 769.3,815.8 769.5,823.0 769.7,813.2 769.9,812.0 770.1,814.0 770.3,818.1 770.5,811.6 770.7,808.0 770.9,812.2 771.1,804.3 771.3,808.3 771.5,808.3 771.7,804.7 771.9,814.4 772.1,813.1 772.2,807.3 772.4,806.6 772.6,800.8 772.8,801.9 773.0,806.0 773.2,805.0 773.4,806.7 773.6,806.3 773.8,805.8 774.0,798.0 774.2,804.1 774.4,802.6 774.6,799.1 774.8,801.6 775.0,799.3 775.2,808.5 775.4,794.3 775.6,797.0 775.8,793.6 776.0,791.8 776.2,802.7 776.4,779.5 776.6,790.5 776.8,789.7 776.9,799.4 777.1,785.9 777.3,786.4 777.5,789.9 777.7,786.1 777.9,780.0 778.1,788.1 778.3,790.7 778.5,778.1 778.7,783.4 778.9,785.4 779.1,771.5 779.3,782.7 779.5,784.1 779.7,781.3 779.9,784.5 780.1,780.7 780.3,780.6 780.5,784.6 780.7,782.0 780.9,778.4 781.1,777.6 781.3,776.1 781.5,774.5 781.6,777.2 781.8,775.3 782.0,780.0 782.2,778.9 782.4,771.3 782.6,788.0 782.8,774.5 783.0,758.4 783.2,786.6 783.4,767.2 783.6,785.5 783.8,773.1 784.0,765.6 784.2,766.0 784.4,779.4 784.6,781.3 784.8,781.7 785.0,768.7 785.2,774.6 785.4,771.8 785.6,769.7 785.8,768.2 786.0,766.7 786.2,768.5 786.3,777.9 786.5,759.1 786.7,783.1 786.9,758.8 787.1,768.9 787.3,765.6 787.5,766.7 787.7,765.0 787.9,762.0 788.1,762.6 788.3,766.7 788.5,754.1 788.7,761.8 788.9,749.3 789.1,757.5 789.3,759.9 789.5,752.2 789.7,748.6 789.9,758.8 790.1,754.1 790.3,742.7 790.5,756.7 790.7,754.9 790.9,747.7 791.0,755.2 791.2,761.9 791.4,755.9 791.6,742.0 791.8,739.0 792.0,738.0 792.2,737.9 792.4,746.8 792.6,733.3 792.8,728.8 793.0,739.1 793.2,727.3 793.4,734.3 793.6,729.4 793.8,726.9 794.0,737.6 794.2,717.5 794.4,731.4 794.6,725.5 794.8,727.1 795.0,720.0 795.2,719.3 795.4,721.2 795.6,711.3 795.7,717.9 795.9,721.6 796.1,737.2 796.3,719.2 796.5,718.4 796.7,721.5 796.9,720.5 797.1,710.0 797.3,706.0 797.5,699.4 797.7,703.6 797.9,715.1 798.1,707.8 798.3,718.0 798.5,703.1 798.7,704.9 798.9,710.9 799.1,706.8 799.3,707.3 799.5,709.4 799.7,695.5 799.9,682.8 800.1,697.9 800.3,695.7 800.4,701.3 800.6,704.2 800.8,685.9 801.0,702.9 801.2,696.7 801.4,699.3 801.6,693.4 801.8,696.7 802.0,691.1 802.2,703.0 802.4,693.5 802.6,681.8 802.8,697.5 803.0,693.6 803.2,677.8 803.4,683.3 803.6,677.2 803.8,699.6 804.0,681.1 804.2,690.0 804.4,689.5 804.6,675.0 804.8,668.0 805.0,686.0 805.1,681.7 805.3,676.3 805.5,671.3 805.7,678.4 805.9,650.2 806.1,660.7 806.3,665.9 806.5,665.3 806.7,642.2 806.9,640.9 807.1,659.5 807.3,651.4 807.5,642.7 807.7,659.4 807.9,653.3 808.1,637.0 808.3,651.0 808.5,647.6 808.7,653.2 808.9,647.5 809.1,635.2 809.3,645.7 809.5,648.4 809.7,642.3 809.8,622.8 810.0,634.3 810.2,639.2 810.4,632.9 810.6,629.9 810.8,631.7 811.0,646.2 811.2,629.0 811.4,632.4 811.6,623.4 811.8,640.1 812.0,620.4 812.2,631.8 812.4,640.6 812.6,615.6 812.8,629.3 813.0,621.2 813.2,624.4 813.4,613.2 813.6,611.9 813.8,610.5 814.0,612.4 814.2,629.8 814.4,628.9 814.5,612.3 814.7,620.1 814.9,607.1 815.1,608.1 815.3,619.5 815.5,614.9 815.7,614.2 815.9,610.6 816.1,603.5 816.3,594.6 816.5,587.1 816.7,603.6 816.9,597.1 817.1,576.0 817.3,578.3 817.5,581.0 817.7,600.6 817.9,587.6 818.1,576.5 818.3,582.0 818.5,558.8 818.7,574.3 818.9,571.9 819.1,583.1 819.2,581.8 819.4,577.8 819.6,576.7 819.8,572.4 820.0,566.3 820.2,566.6 820.4,559.0 820.6,578.6 820.8,563.9 821.0,562.6 821.2,549.6 821.4,564.2 821.6,558.1 821.8,566.7 822.0,554.3 822.2,552.9 822.4,560.2 822.6,556.8 822.8,551.3 823.0,543.8 823.2,557.2 823.4,536.9 823.6,545.7 823.8,523.4 823.9,525.1 824.1,539.7 824.3,539.4 824.5,509.1 824.7,523.5 824.9,521.8 825.1,528.6 825.3,523.7 825.5,512.9 825.7,512.5 825.9,523.7 826.1,502.3 826.3,508.9 826.5,518.5 826.7,498.2 826.9,507.1 827.1,496.0 827.3,506.6 827.5,496.0 827.7,512.9 827.9,492.1 828.1,508.3 828.3,490.5 828.5,514.5 828.6,489.3 828.8,480.1 829.0,480.8 829.2,472.5 829.4,492.9 829.6,466.0 829.8,464.3 830.0,490.1 830.2,484.9 830.4,481.5 830.6,474.8 830.8,471.5 831.0,496.0 831.2,464.7 831.4,471.6 831.6,477.6 831.8,456.7 832.0,467.8 832.2,451.6 832.4,455.9 832.6,462.7 832.8,446.2 833.0,448.2 833.2,459.5 833.3,468.9 833.5,456.7 833.7,443.4 833.9,450.4 834.1,428.8 834.3,442.3 834.5,441.4 834.7,437.8 834.9,449.3 835.1,440.2 835.3,444.2 835.5,459.9 835.7,452.8 835.9,426.0 836.1,436.8 836.3,432.3 836.5,445.0 836.7,434.8 836.9,419.8 837.1,425.9 837.3,431.3 837.5,409.4 837.7,424.8 837.9,427.0 838.0,410.7 838.2,439.5 838.4,414.9 838.6,431.1 838.8,426.6 839.0,424.3 839.2,414.5 839.4,413.3 839.6,409.7 839.8,409.0 840.0,394.9 840.2,390.1 840.4,398.5 840.6,396.1 840.8,406.2 841.0,411.9 841.2,392.4 841.4,396.5 841.6,386.2 841.8,412.8 842.0,363.9 842.2,404.1 842.4,388.9 842.6,377.5 842.7,401.4 842.9,391.4 843.1,405.9 843.3,398.6 843.5,403.0 843.7,380.3 843.9,377.3 844.1,382.9 844.3,365.1 844.5,362.8 844.7,376.7 844.9,378.0 845.1,377.6 845.3,378.5 845.5,358.6 845.7,369.0 845.9,374.1 846.1,371.9 846.3,362.5 846.5,371.6 846.7,362.8 846.9,365.4 847.1,349.3 847.3,350.2 847.5,376.9 847.6,362.1 847.8,351.4 848.0,362.8 848.2,348.0 848.4,352.0 848.6,348.0 848.8,354.0 849.0,348.9 849.2,345.4 849.4,366.1 849.6,358.9 849.8,358.9 850.0,328.0 850.2,341.9 850.4,339.7 850.6,340.5 850.8,346.5 851.0,347.4 851.2,328.0 851.4,339.7 851.6,316.2 851.8,329.5 852.0,328.7 852.2,330.2 852.3,326.7 852.5,323.7 852.7,305.4 852.9,294.8 853.1,332.1 853.3,315.1 853.5,308.9 853.7,325.8 853.9,321.8 854.1,318.9 854.3,339.8 854.5,304.8 854.7,311.9 854.9,311.6 855.1,308.9 855.3,306.3 855.5,282.3 855.7,305.5 855.9,297.3 856.1,311.7 856.3,301.1 856.5,307.7 856.7,305.0 856.9,312.7 857.0,310.8 857.2,295.6 857.4,291.5 857.6,293.8 857.8,305.9 858.0,293.8 858.2,325.4 858.4,285.1 858.6,295.5 858.8,291.3 859.0,280.5 859.2,298.0 859.4,281.8 859.6,297.4 859.8,286.0 860.0,296.7 860.2,288.6 860.4,275.7 860.6,299.9 860.8,299.7 861.0,296.8 861.2,289.9 861.4,262.1 861.6,300.4 861.7,317.3 861.9,301.4 862.1,311.8 862.3,299.8 862.5,292.7 862.7,303.2 862.9,299.3 863.1,312.0 863.3,287.4 863.5,296.9 863.7,274.6 863.9,273.7 864.1,294.5 864.3,287.4 864.5,281.3 864.7,271.9 864.9,298.6 865.1,279.0 865.3,255.6 865.5,277.1 865.7,272.5 865.9,274.2 866.1,287.2 866.3,261.9 866.4,269.3 866.6,270.1 866.8,263.4 867.0,262.7 867.2,293.7 867.4,266.5 867.6,279.1 867.8,271.0 868.0,281.5 868.2,283.8 868.4,263.3 868.6,274.9 868.8,278.4 869.0,278.8 869.2,274.7 869.4,275.9 869.6,303.0 869.8,285.6 870.0,277.9 870.2,266.2 870.4,258.6 870.6,284.7 870.8,250.9 871.0,271.7 871.1,266.7 871.3,278.1 871.5,278.6 871.7,254.5 871.9,273.4 872.1,271.8 872.3,257.0 872.5,250.2 872.7,287.3 872.9,271.8 873.1,269.3 873.3,247.7 873.5,239.6 873.7,268.2 873.9,262.6 874.1,256.1 874.3,252.0 874.5,268.2 874.7,253.6 874.9,270.8 875.1,292.9 875.3,276.9 875.5,257.4 875.7,250.0 875.8,284.5 876.0,278.5 876.2,257.1 876.4,295.4 876.6,249.0 876.8,242.9 877.0,289.2 877.2,245.2 877.4,256.0 877.6,237.1 877.8,250.3 878.0,256.3 878.2,252.3 878.4,243.0 878.6,252.0 878.8,254.1 879.0,271.8 879.2,249.9 879.4,255.7 879.6,235.1 879.8,257.2 880.0,258.5 880.2,265.2 880.4,249.9 880.5,261.1 880.7,267.3 880.9,240.8 881.1,239.1 881.3,265.5 881.5,272.6 881.7,248.0 881.9,271.4 882.1,229.5 882.3,264.6 882.5,252.5 882.7,279.6 882.9,265.8 883.1,253.6 883.3,262.0 883.5,274.2 883.7,240.3 883.9,261.0 884.1,272.9 884.3,277.9 884.5,274.5 884.7,256.2 884.9,281.1 885.1,272.1 885.2,282.2 885.4,258.4 885.6,275.0 885.8,263.4 886.0,267.0 886.2,280.6 886.4,266.1 886.6,263.8 886.8,288.4 887.0,267.5 887.2,235.1 887.4,280.4 887.6,270.2 887.8,293.7 888.0,273.6 888.2,286.4 888.4,271.3 888.6,281.3 888.8,294.8 889.0,268.8 889.2,284.3 889.4,293.8 889.6,281.4 889.8,293.3 889.9,277.6 890.1,282.8 890.3,286.3 890.5,274.2 890.7,296.6 890.9,270.5 891.1,305.0 891.3,263.2 891.5,279.8 891.7,285.1 891.9,290.7 892.1,276.2 892.3,284.6 892.5,285.2 892.7,271.6 892.9,288.9 893.1,287.0 893.3,279.7 893.5,272.6 893.7,287.0 893.9,283.8 894.1,285.3 894.3,277.5 894.5,269.0 894.6,297.0 894.8,287.8 895.0,286.7 895.2,279.3 895.4,268.6 895.6,285.8 895.8,282.8 896.0,271.9 896.2,298.8 896.4,292.9 896.6,288.7 896.8,283.2 897.0,280.0 897.2,288.2 897.4,261.6 897.6,289.6 897.8,283.6 898.0,268.7 898.2,272.3 898.4,281.5 898.6,277.3 898.8,272.7 899.0,282.8 899.2,276.0 899.3,294.9 899.5,284.6 899.7,305.4 899.9,298.1 900.1,302.4 900.3,276.4 900.5,297.5 900.7,290.3 900.9,305.8 901.1,299.0 901.3,301.3 901.5,309.4 901.7,291.2 901.9,321.4 902.1,296.5 902.3,274.6 902.5,315.5 902.7,307.0 902.9,326.2 903.1,309.7 903.3,330.2 903.5,304.1 903.7,317.7 903.9,333.8 904.0,328.1 904.2,331.9 904.4,317.4 904.6,304.6 904.8,319.0 905.0,327.8 905.2,323.7 905.4,312.6 905.6,341.3 905.8,306.5 906.0,308.0 906.2,340.1 906.4,298.1 906.6,329.7 906.8,313.1 907.0,296.9 907.2,328.8 907.4,331.1 907.6,322.8 907.8,322.6 908.0,312.2 908.2,317.1 908.4,317.4 908.6,317.9 908.7,315.3 908.9,323.8 909.1,311.2 909.3,315.8 909.5,328.2 909.7,296.7 909.9,332.6 910.1,310.4 910.3,327.9 910.5,315.8 910.7,314.5 910.9,311.1 911.1,305.1 911.3,331.2 911.5,289.6 911.7,317.8 911.9,331.9 912.1,338.5 912.3,297.0 912.5,305.4 912.7,324.8 912.9,316.5 913.1,310.9 913.3,325.4 913.4,332.0 913.6,328.4 913.8,319.4 914.0,329.6 914.2,344.6 914.4,323.2 914.6,352.1 914.8,342.1 915.0,320.6 915.2,332.8 915.4,333.7 915.6,335.9 915.8,326.3 916.0,339.2 916.2,361.2 916.4,337.2 916.6,374.8 916.8,364.0 917.0,323.8 917.2,330.4 917.4,347.7 917.6,343.8 917.8,342.5 918.0,332.8 918.1,353.2 918.3,354.9 918.5,352.7 918.7,344.8 918.9,344.1 919.1,352.1 919.3,340.0 919.5,360.6 919.7,350.9 919.9,358.5 920.1,362.8 920.3,338.7 920.5,356.7 920.7,365.0 920.9,354.1 921.1,366.3 921.3,349.2 921.5,347.0 921.7,345.5 921.9,368.9 922.1,359.2 922.3,337.5 922.5,360.4 922.7,344.4 922.8,341.8 923.0,373.9 923.2,345.8 923.4,351.1 923.6,350.0 923.8,341.5 924.0,355.3 924.2,359.9 924.4,354.4 924.6,365.3 924.8,356.5 925.0,384.3 925.2,343.9 925.4,369.0 925.6,357.8 925.8,360.8 926.0,363.7 926.2,364.2 926.4,365.5 926.6,384.8 926.8,373.7 927.0,355.7 927.2,380.7 927.4,382.0 927.5,348.6 927.7,359.4 927.9,356.5 928.1,374.5 928.3,372.3 928.5,367.7 928.7,370.5 928.9,378.1 929.1,393.5 929.3,385.9 929.5,394.5 929.7,361.3 929.9,382.7 930.1,380.3 930.3,375.2 930.5,378.0 930.7,372.4 930.9,384.7 931.1,394.4 931.3,359.1 931.5,385.7 931.7,383.3 931.9,387.0 932.1,384.6 932.2,378.8 932.4,371.3 932.6,391.0 932.8,376.9 933.0,387.5 933.2,367.6 933.4,393.9 933.6,379.6 933.8,372.9 934.0,395.1 934.2,379.0 934.4,378.4 934.6,388.1 934.8,381.5 935.0,368.2 935.2,375.8 935.4,382.5 935.6,380.1 935.8,372.9 936.0,364.1 936.2,369.2 936.4,370.2 936.6,361.7 936.8,395.5 936.9,395.0 937.1,404.8 937.3,372.5 937.5,406.9 937.7,384.0 937.9,376.5 938.1,400.6 938.3,393.8 938.5,390.5 938.7,380.8 938.9,405.6 939.1,386.7 939.3,383.2 939.5,389.6 939.7,389.7 939.9,378.2 940.1,389.1 940.3,391.6 940.5,394.6 940.7,383.7 940.9,393.1 941.1,382.5 941.3,387.6 941.5,375.8 941.6,395.4 941.8,385.2 942.0,381.4 942.2,379.7 942.4,371.1 942.6,378.0 942.8,371.7 943.0,359.6 943.2,370.7 943.4,390.2 943.6,393.5 943.8,370.7 944.0,381.3 944.2,373.9 944.4,378.6 944.6,362.7 944.8,363.8 945.0,388.6 945.2,373.9 945.4,380.2 945.6,391.1 945.8,370.7 946.0,379.4 946.2,373.5 946.3,352.2 946.5,364.7 946.7,367.3 946.9,383.6 947.1,391.9 947.3,366.1 947.5,382.4 947.7,378.5 947.9,382.7 948.1,377.2 948.3,352.1 948.5,380.4 948.7,379.4 948.9,373.5 949.1,371.8 949.3,386.8 949.5,392.0 949.7,378.5 949.9,373.8 950.1,379.1 950.3,380.7 950.5,379.5 950.7,373.2 950.9,369.9 951.0,385.8 951.2,374.1 951.4,364.4 951.6,369.6 951.8,382.9 952.0,372.4 952.2,369.1 952.4,361.0 952.6,386.8 952.8,362.5 953.0,375.0 953.2,368.1 953.4,363.2 953.6,379.9 953.8,379.3 954.0,371.9 954.2,362.8 954.4,376.2 954.6,385.3 954.8,377.3 955.0,365.4 955.2,356.7 955.4,374.1 955.6,371.6 955.7,369.6 955.9,368.6 956.1,376.9 956.3,371.0 956.5,363.7 956.7,364.6 956.9,365.2 957.1,376.0 957.3,371.0 957.5,372.7 957.7,353.9 957.9,349.7 958.1,361.6 958.3,348.3 958.5,368.5 958.7,368.5 958.9,379.2 959.1,362.8 959.3,369.9 959.5,363.8 959.7,359.2 959.9,366.5 960.1,375.4 960.3,363.2 960.4,362.7 960.6,360.8 960.8,353.0 961.0,361.5 961.2,361.1 961.4,338.7 961.6,344.7 961.8,356.1 962.0,364.2 962.2,358.0 962.4,348.3 962.6,342.7 962.8,325.3 963.0,353.2 963.2,348.5 963.4,353.8 963.6,349.0 963.8,354.0 964.0,361.5 964.2,339.4 964.4,349.3 964.6,337.4 964.8,357.1 965.0,349.5 965.1,345.8 965.3,373.6 965.5,368.2 965.7,346.4 965.9,353.8 966.1,374.9 966.3,363.3 966.5,366.7 966.7,360.5 966.9,338.4 967.1,360.7 967.3,332.1 967.5,355.9 967.7,360.2 967.9,334.4 968.1,339.9 968.3,334.1 968.5,326.8 968.7,335.0 968.9,332.1 969.1,362.7 969.3,351.9 969.5,337.2 969.7,338.8 969.8,332.3 970.0,344.5 970.2,326.6 970.4,316.1 970.6,331.1 970.8,327.9 971.0,331.1 971.2,326.2 971.4,333.6 971.6,341.2 971.8,333.3 972.0,334.1 972.2,351.7 972.4,332.5 972.6,334.6 972.8,332.5 973.0,340.6 973.2,329.3 973.4,327.7 973.6,342.1 973.8,330.7 974.0,325.6 974.2,325.8 974.4,343.8 974.5,344.7 974.7,332.9 974.9,344.3 975.1,305.2 975.3,340.8 975.5,340.1 975.7,323.8 975.9,335.3 976.1,355.0 976.3,330.1 976.5,338.4 976.7,332.4 976.9,343.4 977.1,334.6 977.3,325.4 977.5,323.4 977.7,333.7 977.9,328.2 978.1,328.7 978.3,316.7 978.5,318.9 978.7,330.0 978.9,308.3 979.1,322.2 979.2,309.5 979.4,323.2 979.6,309.3 979.8,313.4 980.0,311.1 980.2,305.8 980.4,306.2 980.6,309.0 980.8,308.8 981.0,324.4 981.2,310.9 981.4,334.0 981.6,334.3 981.8,312.5 982.0,311.0 982.2,291.3 982.4,299.7 982.6,293.9 982.8,308.7 983.0,299.2 983.2,290.0 983.4,295.8 983.6,296.5 983.8,298.0 983.9,308.1 984.1,306.6 984.3,311.4 984.5,289.8 984.7,296.3 984.9,300.0 985.1,287.7 985.3,297.4 985.5,278.8 985.7,268.7 985.9,284.6 986.1,297.2 986.3,306.1 986.5,266.7 986.7,284.2 986.9,302.4 987.1,277.2 987.3,308.0 987.5,294.3 987.7,292.0 987.9,293.3 988.1,301.9 988.3,261.8 988.5,293.0 988.6,283.8 988.8,287.3 989.0,305.2 989.2,292.7 989.4,283.4 989.6,274.4 989.8,288.0 990.0,279.0 990.2,286.1 990.4,274.7 990.6,308.6 990.8,272.9 991.0,285.9 991.2,284.7 991.4,309.8 991.6,288.9 991.8,269.3 992.0,249.5 992.2,283.4 992.4,282.5 992.6,269.1 992.8,271.2 993.0,280.9 993.2,276.0 993.3,278.3 993.5,266.8 993.7,264.8 993.9,253.8 994.1,263.5 994.3,266.5 994.5,272.5 994.7,263.8 994.9,286.0 995.1,250.3 995.3,272.0 995.5,259.3 995.7,284.8 995.9,264.0 996.1,271.4 996.3,278.3 996.5,283.9 996.7,286.4 996.9,255.5 997.1,262.1 997.3,274.7 997.5,273.7 997.7,284.1 997.9,296.6 998.0,295.8 998.2,281.8 998.4,276.2 998.6,287.4 998.8,264.2 999.0,266.9 999.2,270.4 999.4,292.0 999.6,273.5 999.8,270.7 1000.0,284.3 1000.2,294.4 1000.4,246.2 1000.6,260.5 1000.8,271.5 1001.0,247.8 1001.2,252.7 1001.4,259.6 1001.6,261.4 1001.8,254.1 1002.0,245.3 1002.2,260.5 1002.4,263.0 1002.6,252.5 1002.7,291.0 1002.9,256.2 1003.1,260.9 1003.3,255.3 1003.5,256.2 1003.7,249.2 1003.9,251.1 1004.1,250.7 1004.3,252.4 1004.5,244.9 1004.7,255.7 1004.9,238.0 1005.1,268.9 1005.3,246.6 1005.5,243.7 1005.7,263.8 1005.9,254.0 1006.1,233.6 1006.3,250.7 1006.5,259.6 1006.7,284.3 1006.9,245.5 1007.1,248.3 1007.3,242.4 1007.4,225.5 1007.6,249.6 1007.8,247.9 1008.0,257.5 1008.2,250.0 1008.4,249.5 1008.6,240.1 1008.8,242.3 1009.0,257.5 1009.2,253.9 1009.4,231.7 1009.6,258.9 1009.8,238.4 1010.0,227.6 1010.2,238.5 1010.4,242.6 1010.6,228.8 1010.8,240.0 1011.0,243.4 1011.2,244.9 1011.4,228.0 1011.6,232.4 1011.8,221.3 1012.0,242.6 1012.1,241.3 1012.3,241.7 1012.5,232.3 1012.7,242.8 1012.9,222.7 1013.1,228.8 1013.3,243.6 1013.5,266.3 1013.7,252.0 1013.9,212.6 1014.1,229.7 1014.3,226.6 1014.5,232.8 1014.7,222.5 1014.9,249.6 1015.1,250.0 1015.3,245.3 1015.5,224.6 1015.7,216.7 1015.9,219.2 1016.1,226.1 1016.3,239.7 1016.5,214.8 1016.7,227.6 1016.8,224.5 1017.0,225.2 1017.2,229.9 1017.4,233.0 1017.6,231.5 1017.8,240.0 1018.0,221.6 1018.2,226.6 1018.4,212.2 1018.6,246.0 1018.8,210.1 1019.0,224.7 1019.2,225.5 1019.4,232.8 1019.6,232.5 1019.8,240.2 1020.0,211.0 1020.2,223.9 1020.4,212.3 1020.6,210.5 1020.8,225.9 1021.0,222.4 1021.2,223.2 1021.4,206.3 1021.5,216.7 1021.7,215.9 1021.9,208.9 1022.1,218.1 1022.3,192.2 1022.5,227.7 1022.7,201.0 1022.9,198.9 1023.1,229.2 1023.3,204.7 1023.5,211.4 1023.7,203.9 1023.9,228.6 1024.1,210.8 1024.3,225.2 1024.5,217.1 1024.7,195.7 1024.9,214.1 1025.1,239.4 1025.3,228.8 1025.5,225.4 1025.7,199.0 1025.9,219.4 1026.1,229.4 1026.2,196.6 1026.4,206.7 1026.6,205.1 1026.8,218.4 1027.0,191.0 1027.2,209.2 1027.4,231.1 1027.6,220.5 1027.8,216.4 1028.0,207.7 1028.2,196.0 1028.4,213.7 1028.6,211.8 1028.8,177.4 1029.0,203.0 1029.2,210.2 1029.4,203.2 1029.6,218.8 1029.8,197.0 1030.0,191.8 1030.2,210.7 1030.4,191.5 1030.6,207.3 1030.8,200.3 1030.9,212.9 1031.1,213.7 1031.3,222.2 1031.5,201.2 1031.7,207.2 1031.9,206.6 1032.1,217.0 1032.3,217.1 1032.5,210.1 1032.7,196.0 1032.9,197.4 1033.1,208.7 1033.3,196.0 1033.5,177.3 1033.7,196.5 1033.9,172.2 1034.1,190.7 1034.3,178.8 1034.5,200.6 1034.7,179.0 1034.9,206.9 1035.1,188.7 1035.3,195.0 1035.5,214.5 1035.6,206.1 1035.8,174.8 1036.0,182.0 1036.2,171.5 1036.4,184.3 1036.6,221.7 1036.8,182.5 1037.0,191.9 1037.2,190.6 1037.4,189.4 1037.6,192.7 1037.8,194.6 1038.0,167.1 1038.2,176.4 1038.4,189.4 1038.6,186.1 1038.8,168.5 1039.0,175.3 1039.2,177.1 1039.4,194.0 1039.6,183.8 1039.8,191.9 1040.0,200.9 1040.2,165.9 1040.3,180.4 1040.5,180.9 1040.7,187.1 1040.9,165.5 1041.1,148.7 1041.3,166.8 1041.5,162.2 1041.7,188.7 1041.9,170.9 1042.1,170.2 1042.3,154.4 1042.5,172.5 1042.7,184.2 1042.9,173.4 1043.1,177.9 1043.3,154.8 1043.5,164.5 1043.7,168.6 1043.9,170.7 1044.1,162.8 1044.3,179.4 1044.5,185.0 1044.7,197.1 1044.9,159.7 1045.0,168.5 1045.2,167.2 1045.4,175.0 1045.6,155.5 1045.8,188.4 1046.0,161.9 1046.2,187.4 1046.4,182.8 1046.6,192.5 1046.8,176.5 1047.0,181.2 1047.2,172.3 1047.4,184.7 1047.6,194.4 1047.8,170.0 1048.0,160.7 1048.2,167.1 1048.4,176.3 1048.6,170.1 1048.8,195.4 1049.0,178.0 1049.2,158.9 1049.4,166.9 1049.6,182.5 1049.7,160.8 1049.9,172.4 1050.1,161.2 1050.3,187.0 1050.5,175.7 1050.7,164.8 1050.9,164.7 1051.1,161.4 1051.3,168.1 1051.5,170.3 1051.7,162.0 1051.9,157.2 1052.1,186.6 1052.3,172.0 1052.5,170.8 1052.7,166.6 1052.9,156.5 1053.1,185.7 1053.3,163.2 1053.5,191.6 1053.7,180.1 1053.9,177.7 1054.1,175.1 1054.3,179.8 1054.4,179.0 1054.6,177.3 1054.8,176.8 1055.0,196.4 1055.2,191.2 1055.4,179.6 1055.6,167.9 1055.8,162.2 1056.0,139.7 1056.2,173.6 1056.4,184.8 1056.6,173.2 1056.8,167.3 1057.0,174.2 1057.2,189.3 1057.4,177.9 1057.6,177.6 1057.8,194.9 1058.0,192.8 1058.2,163.7 1058.4,206.2 1058.6,177.1 1058.8,182.7 1059.0,162.8 1059.1,172.6 1059.3,190.9 1059.5,165.0 1059.7,187.5 1059.9,156.3 1060.1,160.5 1060.3,182.0 1060.5,171.7 1060.7,179.1 1060.9,192.6 1061.1,168.7 1061.3,176.7 1061.5,171.8 1061.7,169.3 1061.9,165.2 1062.1,170.0 1062.3,183.9 1062.5,181.8 1062.7,177.7 1062.9,184.0 1063.1,185.2 1063.3,159.0 1063.5,175.4 1063.7,157.6 1063.8,189.6 1064.0,180.0 1064.2,184.1 1064.4,182.9 1064.6,180.9 1064.8,178.2 1065.0,181.5 1065.2,153.5 1065.4,166.9 1065.6,183.9 1065.8,181.1 1066.0,165.1 1066.2,167.4 1066.4,181.5 1066.6,162.7 1066.8,191.6 1067.0,179.9 1067.2,153.0 1067.4,206.2 1067.6,176.8 1067.8,162.3 1068.0,176.2 1068.2,184.0 1068.4,185.2 1068.5,199.7 1068.7,190.2 1068.9,172.9 1069.1,180.3 1069.3,173.1 1069.5,174.2 1069.7,168.3 1069.9,191.5 1070.1,174.3 1070.3,174.0 1070.5,172.9 1070.7,179.3 1070.9,194.6 1071.1,159.4 1071.3,156.7 1071.5,137.2 1071.7,157.0 1071.9,145.7 1072.1,158.5 1072.3,170.6 1072.5,160.3 1072.7,181.2 1072.9,164.6 1073.1,169.7 1073.2,182.3 1073.4,155.4 1073.6,157.8 1073.8,167.0 1074.0,163.8 1074.2,154.8 1074.4,177.7 1074.6,193.6 1074.8,189.6 1075.0,170.1 1075.2,176.4 1075.4,197.9 1075.6,163.8 1075.8,177.4 1076.0,160.2 1076.2,165.9 1076.4,184.7 1076.6,177.8 1076.8,187.4 1077.0,188.2 1077.2,181.0 1077.4,170.8 1077.6,159.7 1077.8,187.1 1077.9,167.4 1078.1,175.5 1078.3,178.7 1078.5,162.3 1078.7,180.7 1078.9,159.8 1079.1,181.1 1079.3,188.6 1079.5,168.2 1079.7,195.7 1079.9,192.6 1080.1,180.4 1080.3,178.1 1080.5,181.3 1080.7,202.1 1080.9,194.1 1081.1,171.1 1081.3,170.5 1081.5,189.3 1081.7,173.4 1081.9,174.0 1082.1,163.9 1082.3,185.3 1082.5,158.3 1082.6,179.9 1082.8,158.4 1083.0,164.8 1083.2,188.6 1083.4,180.0 1083.6,172.7 1083.8,163.7 1084.0,193.1 1084.2,182.2 1084.4,168.3 1084.6,169.9 1084.8,188.5 1085.0,186.4 1085.2,169.9 1085.4,187.6 1085.6,171.9 1085.8,163.3 1086.0,174.2 1086.2,207.1 1086.4,159.6 1086.6,159.7 1086.8,156.4 1087.0,163.2 1087.2,194.4 1087.3,156.5 1087.5,169.8 1087.7,162.8 1087.9,176.6 1088.1,178.2 1088.3,178.7 1088.5,156.9 1088.7,173.9 1088.9,180.7 1089.1,194.8 1089.3,174.4 1089.5,181.0 1089.7,180.3 1089.9,171.1 1090.1,175.2 1090.3,184.9 1090.5,183.1 1090.7,185.3 1090.9,178.1 1091.1,178.9 1091.3,185.9 1091.5,198.3 1091.7,177.5 1091.9,176.8 1092.0,200.9 1092.2,182.9 1092.4,192.2 1092.6,214.1 1092.8,187.7 1093.0,175.4 1093.2,195.8 1093.4,195.4 1093.6,174.2 1093.8,200.2 1094.0,198.2 1094.2,190.6 1094.4,179.1 1094.6,179.0 1094.8,193.2 1095.0,190.5 1095.2,185.6 1095.4,191.3 1095.6,197.0 1095.8,199.7 1096.0,177.6 1096.2,188.9 1096.4,151.2 1096.6,178.5 1096.7,195.3 1096.9,186.2 1097.1,182.2 1097.3,181.8 1097.5,181.6 1097.7,182.0 1097.9,189.7 1098.1,180.7 1098.3,162.7 1098.5,195.4 1098.7,195.4 1098.9,182.8 1099.1,177.0 1099.3,182.9 1099.5,178.6 1099.7,194.6 1099.9,197.2 1100.1,186.8 1100.3,186.9 1100.5,175.0 1100.7,176.6 1100.9,217.8 1101.1,186.3 1101.3,204.0 1101.4,221.6 1101.6,191.4 1101.8,198.4 1102.0,200.9 1102.2,212.6 1102.4,209.8 1102.6,200.7 1102.8,216.8 1103.0,200.8 1103.2,199.0 1103.4,203.1 1103.6,198.6 1103.8,204.0 1104.0,218.2 1104.2,217.6 1104.4,204.5 1104.6,195.3 1104.8,205.9 1105.0,214.4 1105.2,206.9 1105.4,231.1 1105.6,221.5 1105.8,214.2 1106.0,210.5 1106.1,213.5 1106.3,212.6 1106.5,223.3 1106.7,215.5 1106.9,205.1 1107.1,229.7 1107.3,221.4 1107.5,210.6 1107.7,188.1 1107.9,197.3 1108.1,186.2 1108.3,188.6 1108.5,209.9 1108.7,205.5 1108.9,218.9 1109.1,191.3 1109.3,197.3 1109.5,199.9 1109.7,200.1 1109.9,203.8 1110.1,208.3 1110.3,209.1 1110.5,199.7 1110.7,225.3 1110.8,230.2 1111.0,219.4 1111.2,207.4 1111.4,220.0 1111.6,226.9 1111.8,216.0 1112.0,225.9 1112.2,250.9 1112.4,241.3 1112.6,255.1 1112.8,233.6 1113.0,236.8 1113.2,226.8 1113.4,207.3 1113.6,239.6 1113.8,232.7 1114.0,237.4 1114.2,266.2 1114.4,242.0 1114.6,241.5 1114.8,229.8 1115.0,243.1 1115.2,248.6 1115.4,226.6 1115.5,234.6 1115.7,244.7 1115.9,243.5 1116.1,238.6 1116.3,225.9 1116.5,219.4 1116.7,252.2 1116.9,223.7 1117.1,237.4 1117.3,234.4 1117.5,227.9 1117.7,251.2 1117.9,230.3 1118.1,256.2 1118.3,246.7 1118.5,251.5 1118.7,221.9 1118.9,222.5 1119.1,232.9 1119.3,235.6 1119.5,247.8 1119.7,220.9 1119.9,224.7 1120.1,230.2 1120.2,241.8 1120.4,244.3 1120.6,240.9 1120.8,224.1 1121.0,250.6 1121.2,238.1 1121.4,220.4 1121.6,229.3 1121.8,219.4 1122.0,235.2 1122.2,235.4 1122.4,224.8 1122.6,233.8 1122.8,238.1 1123.0,248.7 1123.2,260.8 1123.4,227.1 1123.6,250.2 1123.8,254.9 1124.0,237.2 1124.2,258.7 1124.4,265.1 1124.6,257.2 1124.8,252.4 1124.9,249.6 1125.1,247.9 1125.3,243.6 1125.5,257.1 1125.7,252.4 1125.9,258.7 1126.1,265.5 1126.3,254.1 1126.5,255.2 1126.7,238.4 1126.9,253.2 1127.1,268.5 1127.3,253.8 1127.5,263.8 1127.7,242.9 1127.9,280.9 1128.1,269.1 1128.3,269.4 1128.5,260.8 1128.7,264.0 1128.9,281.3 1129.1,284.9 1129.3,262.1 1129.5,248.1 1129.6,249.1 1129.8,271.2 1130.0,262.3 1130.2,278.4 1130.4,286.0 1130.6,256.5 1130.8,263.8 1131.0,276.4 1131.2,277.8 1131.4,264.2 1131.6,272.0 1131.8,280.5 1132.0,274.5 1132.2,278.8 1132.4,284.4 1132.6,288.9 1132.8,271.2 1133.0,288.1 1133.2,297.0 1133.4,264.1 1133.6,271.3 1133.8,280.4 1134.0,287.9 1134.2,285.6 1134.3,305.0 1134.5,289.4 1134.7,286.6 1134.9,292.5 1135.1,285.7 1135.3,299.6 1135.5,289.2 1135.7,309.1 1135.9,291.8 1136.1,298.5 1136.3,306.6 1136.5,296.1 1136.7,291.4 1136.9,298.2 1137.1,281.1 1137.3,299.3 1137.5,281.0 1137.7,283.3 1137.9,298.3 1138.1,275.6 1138.3,307.0 1138.5,286.0 1138.7,291.5 1138.9,284.0 1139.0,310.3 1139.2,306.6 1139.4,303.0 1139.6,294.0 1139.8,293.8 1140.0,295.0 1140.2,298.6 1140.4,304.1 1140.6,312.0 1140.8,302.0 1141.0,291.9 1141.2,287.0 1141.4,304.4 1141.6,287.4 1141.8,314.7 1142.0,291.6 1142.2,312.7 1142.4,298.5 1142.6,312.4 1142.8,313.1 1143.0,309.2 1143.2,288.3 1143.4,312.1 1143.6,298.9 1143.7,305.1 1143.9,304.7 1144.1,305.8 1144.3,303.7 1144.5,325.1 1144.7,312.8 1144.9,310.8 1145.1,322.3 1145.3,313.2 1145.5,329.4 1145.7,311.2 1145.9,327.7 1146.1,323.8 1146.3,312.6 1146.5,309.9 1146.7,328.2 1146.9,329.0 1147.1,311.2 1147.3,353.4 1147.5,307.1 1147.7,307.4 1147.9,332.8 1148.1,307.8 1148.3,316.6 1148.4,315.3 1148.6,345.3 1148.8,325.2 1149.0,321.9 1149.2,324.3 1149.4,324.2 1149.6,323.3 1149.8,351.7 1150.0,323.1 1150.2,329.0 1150.4,323.0 1150.6,328.0 1150.8,323.4 1151.0,321.0 1151.2,305.5 1151.4,334.5 1151.6,308.0 1151.8,329.8 1152.0,337.6 1152.2,344.4 1152.4,320.1 1152.6,346.6 1152.8,321.0 1153.0,327.8 1153.1,338.3 1153.3,339.9 1153.5,328.0 1153.7,332.0 1153.9,326.0 1154.1,334.4 1154.3,340.1 1154.5,329.1 1154.7,348.0 1154.9,326.2 1155.1,335.0 1155.3,348.0 1155.5,347.3 1155.7,340.3 1155.9,356.9 1156.1,323.1 1156.3,328.4 1156.5,351.4 1156.7,341.7 1156.9,323.2 1157.1,338.0 1157.3,354.2 1157.5,367.4 1157.7,362.8 1157.8,333.2 1158.0,343.5 1158.2,361.7 1158.4,340.7 1158.6,352.8 1158.8,356.6 1159.0,355.6 1159.2,355.4 1159.4,332.9 1159.6,361.3 1159.8,355.8 1160.0,337.4 1160.2,335.8 1160.4,362.7 1160.6,330.1 1160.8,340.6 1161.0,368.4 1161.2,333.1 1161.4,368.3 1161.6,345.1 1161.8,364.7 1162.0,371.3 1162.2,343.0 1162.4,347.4 1162.5,352.7 1162.7,349.7 1162.9,352.7 1163.1,354.4 1163.3,363.1 1163.5,345.5 1163.7,351.7 1163.9,354.8 1164.1,358.5 1164.3,355.9 1164.5,369.6 1164.7,357.3 1164.9,365.1 1165.1,341.6 1165.3,366.2 1165.5,361.6 1165.7,357.5 1165.9,349.9 1166.1,354.3 1166.3,359.9 1166.5,337.8 1166.7,361.7 1166.9,358.8 1167.1,333.9 1167.2,373.1 1167.4,354.0 1167.6,360.2 1167.8,379.5 1168.0,372.8 1168.2,357.9 1168.4,382.8 1168.6,370.0 1168.8,358.8 1169.0,371.8 1169.2,367.1 1169.4,377.7 1169.6,377.8 1169.8,378.4 1170.0,376.3 1170.2,366.5 1170.4,373.0 1170.6,353.6 1170.8,369.2 1171.0,372.5 1171.2,352.2 1171.4,377.4 1171.6,385.1 1171.8,375.2 1171.9,388.4 1172.1,371.6 1172.3,362.7 1172.5,370.3 1172.7,381.3 1172.9,378.5 1173.1,371.9 1173.3,364.5 1173.5,381.1 1173.7,381.4 1173.9,365.8 1174.1,375.1 1174.3,374.0 1174.5,373.0 1174.7,386.5 1174.9,380.5 1175.1,368.5 1175.3,381.9 1175.5,383.0 1175.7,378.6 1175.9,378.5 1176.1,357.0 1176.3,392.8 1176.5,383.9 1176.6,365.4 1176.8,387.0 1177.0,384.5 1177.2,404.6 1177.4,380.3 1177.6,382.4 1177.8,383.8 1178.0,395.1 1178.2,390.2 1178.4,395.5 1178.6,386.7 1178.8,396.3 1179.0,388.6 1179.2,411.1 1179.4,401.2 1179.6,427.7 1179.8,400.3 1180.0,391.3 1180.2,402.5 1180.4,376.1 1180.6,411.3 1180.8,405.2 1181.0,412.0 1181.2,408.4 1181.3,408.9 1181.5,420.0 1181.7,415.8 1181.9,385.7 1182.1,410.0 1182.3,398.7 1182.5,421.7 1182.7,410.4 1182.9,404.2 1183.1,411.9 1183.3,415.7 1183.5,412.6 1183.7,410.6 1183.9,402.5 1184.1,398.9 1184.3,424.8 1184.5,432.6 1184.7,413.8 1184.9,412.1 1185.1,405.3 1185.3,402.2 1185.5,420.4 1185.7,393.3 1185.9,412.4 1186.0,433.7 1186.2,406.8 1186.4,414.5 1186.6,415.1 1186.8,434.9 1187.0,422.5 1187.2,418.3 1187.4,422.0 1187.6,413.9 1187.8,408.5 1188.0,406.0 1188.2,409.0 1188.4,423.4 1188.6,404.6 1188.8,419.5 1189.0,413.6 1189.2,424.8 1189.4,436.6 1189.6,445.5 1189.8,420.9 1190.0,429.8 1190.2,423.3 1190.4,414.5 1190.6,439.2 1190.7,441.8 1190.9,421.9 1191.1,421.2 1191.3,428.1 1191.5,431.1 1191.7,442.4 1191.9,427.9 1192.1,435.2 1192.3,424.2 1192.5,419.9 1192.7,435.8 1192.9,427.0 1193.1,430.3 1193.3,426.1 1193.5,418.8 1193.7,428.5 1193.9,429.0 1194.1,429.1 1194.3,442.1 1194.5,438.8 1194.7,436.1 1194.9,427.9 1195.1,428.0 1195.3,418.9 1195.4,453.0 1195.6,443.1 1195.8,460.3 1196.0,448.9 1196.2,460.3 1196.4,432.7 1196.6,437.1 1196.8,455.5 1197.0,441.7 1197.2,437.8 1197.4,428.0 1197.6,437.1 1197.8,444.1 1198.0,446.3 1198.2,439.3 1198.4,442.5 1198.6,450.3 1198.8,457.8 1199.0,435.4 1199.2,453.1 1199.4,448.9 1199.6,438.6 1199.8,447.3 1200.0,435.8 1200.1,458.4 1200.3,440.1 1200.5,461.0 1200.7,463.0 1200.9,458.7 1201.1,447.6 1201.3,455.6 1201.5,462.8 1201.7,437.7 1201.9,459.2 1202.1,451.1 1202.3,447.8 1202.5,455.3 1202.7,447.6 1202.9,445.5 1203.1,453.2 1203.3,442.6 1203.5,459.3 1203.7,464.7 1203.9,453.2 1204.1,465.6 1204.3,453.5 1204.5,459.1 1204.7,463.8 1204.8,454.6 1205.0,456.1 1205.2,491.1 1205.4,466.4 1205.6,462.9 1205.8,460.3 1206.0,471.2 1206.2,477.7 1206.4,466.0 1206.6,461.2 1206.8,488.2 1207.0,483.2 1207.2,474.7 1207.4,494.3 1207.6,475.3 1207.8,461.8 1208.0,480.2 1208.2,468.8 1208.4,478.9 1208.6,466.4 1208.8,464.5 1209.0,458.4 1209.2,470.5 1209.4,461.5 1209.5,468.1 1209.7,476.9 1209.9,458.7 1210.1,479.1 1210.3,472.3 1210.5,451.0 1210.7,466.6 1210.9,483.4 1211.1,473.2 1211.3,481.8 1211.5,478.3 1211.7,491.8 1211.9,475.7 1212.1,492.9 1212.3,474.9 1212.5,475.1 1212.7,470.9 1212.9,457.9 1213.1,495.3 1213.3,491.2 1213.5,489.6 1213.7,485.9 1213.9,472.6 1214.1,484.7 1214.2,487.7 1214.4,493.5 1214.6,489.5 1214.8,488.4 1215.0,486.1 1215.2,499.5 1215.4,487.5 1215.6,482.3 1215.8,485.2 1216.0,501.1 1216.2,482.3 1216.4,483.2 1216.6,488.7 1216.8,503.8 1217.0,506.7 1217.2,493.0 1217.4,503.7 1217.6,507.1 1217.8,486.7 1218.0,487.0 1218.2,490.1 1218.4,484.3 1218.6,488.7 1218.8,508.6 1218.9,487.6 1219.1,497.8 1219.3,495.3 1219.5,485.4 1219.7,496.5 1219.9,486.4 1220.1,501.1 1220.3,505.6 1220.5,509.1 1220.7,504.1 1220.9,518.9 1221.1,504.1 1221.3,505.0 1221.5,509.1 1221.7,525.2 1221.9,524.8 1222.1,498.8 1222.3,514.7 1222.5,493.7 1222.7,513.6 1222.9,504.4 1223.1,521.8 1223.3,515.2 1223.5,512.2 1223.6,505.7 1223.8,496.5 1224.0,504.0 1224.2,527.2 1224.4,514.6 1224.6,517.1 1224.8,522.2 1225.0,511.7 1225.2,503.4 1225.4,522.7 1225.6,509.0 1225.8,507.0 1226.0,530.2 1226.2,504.8 1226.4,506.2 1226.6,519.4 1226.8,507.1 1227.0,521.0 1227.2,513.3 1227.4,518.5 1227.6,532.9 1227.8,523.2 1228.0,527.7 1228.2,531.3 1228.3,537.9 1228.5,535.1 1228.7,539.8 1228.9,518.9 1229.1,547.6 1229.3,529.7 1229.5,536.4 1229.7,542.7 1229.9,525.3 1230.1,539.6 1230.3,521.8 1230.5,534.8 1230.7,530.5 1230.9,535.0 1231.1,528.3 1231.3,525.9 1231.5,538.7 1231.7,534.9 1231.9,519.2 1232.1,540.4 1232.3,519.2 1232.5,539.1 1232.7,540.8 1232.9,551.1 1233.0,543.8 1233.2,552.0 1233.4,541.7 1233.6,530.7 1233.8,537.8 1234.0,543.0 1234.2,547.2 1234.4,544.6 1234.6,551.9 1234.8,550.8 1235.0,522.7 1235.2,538.5 1235.4,549.5 1235.6,536.0 1235.8,529.3 1236.0,548.9 1236.2,544.9 1236.4,555.7 1236.6,559.3 1236.8,533.5 1237.0,515.9 1237.2,553.4 1237.4,561.7 1237.6,535.2 1237.7,538.8 1237.9,544.4 1238.1,536.0 1238.3,552.4 1238.5,547.3 1238.7,543.2 1238.9,553.3 1239.1,546.8 1239.3,553.5 1239.5,547.8 1239.7,550.8 1239.9,570.0 1240.1,552.3 1240.3,566.0 1240.5,561.4 1240.7,569.0 1240.9,547.7 1241.1,558.2 1241.3,559.2 1241.5,545.5 1241.7,550.8 1241.9,559.5 1242.1,576.5 1242.3,553.3 1242.4,562.1 1242.6,563.7 1242.8,554.8 1243.0,567.4 1243.2,563.3 1243.4,555.5 1243.6,558.8 1243.8,569.5 1244.0,552.0 1244.2,554.9 1244.4,548.7 1244.6,565.7 1244.8,563.4 1245.0,556.1 1245.2,561.3 1245.4,563.8 1245.6,565.7 1245.8,567.3 1246.0,570.1 1246.2,569.8 1246.4,560.5 1246.6,566.5 1246.8,575.9 1247.0,563.2 1247.1,549.5 1247.3,552.1 1247.5,581.3 1247.7,571.5 1247.9,557.9 1248.1,564.4 1248.3,565.0 1248.5,567.3 1248.7,566.4 1248.9,576.3 1249.1,558.2 1249.3,578.0 1249.5,571.0 1249.7,557.5 1249.9,562.0 1250.1,572.0 1250.3,572.6 1250.5,578.2 1250.7,577.9 1250.9,576.2 1251.1,563.2 1251.3,578.7 1251.5,570.6 1251.7,572.1 1251.8,572.7 1252.0,578.9 1252.2,570.8 1252.4,576.1 1252.6,577.1 1252.8,582.4 1253.0,597.0 1253.2,573.3 1253.4,573.6 1253.6,584.8 1253.8,582.6 1254.0,579.2 1254.2,590.3 1254.4,576.7 1254.6,577.1 1254.8,576.4 1255.0,576.3 1255.2,600.3 1255.4,580.4 1255.6,588.8 1255.8,576.3 1256.0,577.2 1256.2,579.6 1256.4,587.5 1256.5,564.0 1256.7,588.3 1256.9,597.1 1257.1,580.9 1257.3,601.6 1257.5,574.3 1257.7,582.6 1257.9,580.8 1258.1,583.9 1258.3,590.1 1258.5,605.3 1258.7,600.3 1258.9,591.8 1259.1,599.2 1259.3,595.7 1259.5,605.7 1259.7,607.8 1259.9,600.2 1260.1,597.9 1260.3,605.2 1260.5,614.5 1260.7,621.3 1260.9,592.2 1261.1,619.0 1261.2,617.6 1261.4,617.0 1261.6,604.2 1261.8,618.0 1262.0,607.4 1262.2,609.4 1262.4,620.9 1262.6,610.0 1262.8,620.8 1263.0,611.7 1263.2,603.8 1263.4,611.2 1263.6,616.1 1263.8,611.6 1264.0,609.3 1264.2,604.7 1264.4,625.6 1264.6,621.7 1264.8,602.8 1265.0,607.7 1265.2,606.7 1265.4,605.3 1265.6,608.6 1265.8,611.2 1265.9,607.1 1266.1,603.1 1266.3,606.3 1266.5,609.4 1266.7,618.4 1266.9,608.8 1267.1,620.5 1267.3,617.2 1267.5,611.2 1267.7,612.0 1267.9,604.8 1268.1,607.0 1268.3,610.6 1268.5,617.5 1268.7,615.5 1268.9,617.7 1269.1,602.4 1269.3,612.8 1269.5,622.0 1269.7,623.8 1269.9,607.6 1270.1,624.5 1270.3,614.9 1270.5,616.6 1270.6,609.7 1270.8,625.1 1271.0,614.6 1271.2,616.7 1271.4,611.9 1271.6,607.5 1271.8,617.3 1272.0,619.9 1272.2,611.2 1272.4,629.2 1272.6,616.7 1272.8,626.0 1273.0,627.9 1273.2,631.1 1273.4,631.9 1273.6,612.8 1273.8,612.9 1274.0,619.4 1274.2,612.6 1274.4,621.0 1274.6,625.6 1274.8,630.8 1275.0,616.9 1275.2,617.1 1275.3,614.2 1275.5,630.9 1275.7,627.4 1275.9,636.3 1276.1,617.5 1276.3,621.4 1276.5,623.5 1276.7,628.2 1276.9,629.8 1277.1,632.1 1277.3,621.4 1277.5,635.3 1277.7,624.1 1277.9,629.3 1278.1,639.8 1278.3,643.8 1278.5,639.1 1278.7,633.8 1278.9,643.9 1279.1,629.5 1279.3,626.0 1279.5,630.9 1279.7,648.6 1279.9,654.0 1280.0,629.5 1280.2,625.1 1280.4,640.1 1280.6,633.3 1280.8,639.8 1281.0,643.0 1281.2,630.8 1281.4,643.1 1281.6,632.6 1281.8,626.2 1282.0,640.6 1282.2,625.4 1282.4,650.0 1282.6,632.9 1282.8,639.9 1283.0,620.3 1283.2,639.6 1283.4,645.9 1283.6,627.2 1283.8,651.4 1284.0,636.2 1284.2,645.5 1284.4,629.2 1284.6,640.8 1284.7,633.8 1284.9,641.1 1285.1,649.7 1285.3,658.3 1285.5,628.9 1285.7,641.5 1285.9,652.9 1286.1,647.2 1286.3,638.0 1286.5,657.6 1286.7,629.7 1286.9,649.4 1287.1,650.9 1287.3,638.7 1287.5,647.3 1287.7,656.8 1287.9,642.5 1288.1,646.3 1288.3,641.4 1288.5,657.1 1288.7,658.9 1288.9,645.9 1289.1,654.1 1289.3,667.4 1289.4,655.9 1289.6,647.1 1289.8,657.7 1290.0,643.0 1290.2,657.0 1290.4,654.4 1290.6,666.4 1290.8,660.6 1291.0,656.5 1291.2,651.1 1291.4,654.4 1291.6,648.2 1291.8,672.8 1292.0,656.5 1292.2,658.0 1292.4,664.9 1292.6,657.4 1292.8,662.8 1293.0,654.1 1293.2,659.9 1293.4,653.6 1293.6,664.3 1293.8,648.2 1294.0,654.9 1294.1,644.8 1294.3,659.4 1294.5,662.4 1294.7,658.1 1294.9,663.0 1295.1,667.8 1295.3,660.5 1295.5,661.7 1295.7,666.6 1295.9,665.3 1296.1,670.3 1296.3,662.6 1296.5,674.3 1296.7,652.4 1296.9,665.3 1297.1,659.2 1297.3,675.7 1297.5,664.9 1297.7,669.0 1297.9,661.4 1298.1,662.8 1298.3,682.0 1298.5,662.1 1298.7,682.2 1298.8,662.1 1299.0,673.0 1299.2,682.1 1299.4,668.8 1299.6,674.3 1299.8,682.5 1300.0,681.2 1300.2,672.8 1300.4,686.8 1300.6,683.4 1300.8,663.9 1301.0,683.3 1301.2,675.2 1301.4,674.8 1301.6,671.1 1301.8,671.8 1302.0,696.6 1302.2,681.7 1302.4,669.6 1302.6,684.0 1302.8,665.1 1303.0,676.6 1303.2,687.4 1303.4,674.7 1303.5,664.9 1303.7,684.1 1303.9,675.4 1304.1,686.1 1304.3,684.2 1304.5,679.5 1304.7,676.8 1304.9,678.2 1305.1,679.5 1305.3,663.9 1305.5,689.2 1305.7,694.9 1305.9,677.7 1306.1,680.5 1306.3,692.4 1306.5,669.9 1306.7,687.5 1306.9,692.8 1307.1,680.0 1307.3,678.7 1307.5,666.8 1307.7,695.1 1307.9,693.6 1308.1,687.0 1308.2,688.7 1308.4,686.6 1308.6,691.7 1308.8,698.4 1309.0,691.1 1309.2,683.5 1309.4,683.7 1309.6,694.6 1309.8,686.9 1310.0,688.6 1310.2,695.8 1310.4,695.6 1310.6,693.6 1310.8,675.0 1311.0,694.5 1311.2,702.8 1311.4,698.5 1311.6,702.1 1311.8,690.8 1312.0,714.8 1312.2,707.8 1312.4,694.8 1312.6,698.1 1312.8,701.1 1312.9,696.5 1313.1,711.0 1313.3,699.2 1313.5,709.7 1313.7,710.7 1313.9,698.1 1314.1,707.0 1314.3,703.7 1314.5,696.6 1314.7,708.0 1314.9,696.2 1315.1,684.6 1315.3,701.4 1315.5,693.1 1315.7,694.2 1315.9,708.2 1316.1,708.7 1316.3,699.0 1316.5,713.8 1316.7,698.7 1316.9,697.2 1317.1,695.8 1317.3,696.1 1317.5,690.2 1317.6,702.0 1317.8,690.6 1318.0,696.6 1318.2,697.1 1318.4,702.2 1318.6,695.0 1318.8,707.3 1319.0,697.6 1319.2,695.4 1319.4,708.3 1319.6,710.8 1319.8,710.0 1320.0,705.6 1320.2,703.4 1320.4,700.4 1320.6,694.0 1320.8,696.4 1321.0,706.3 1321.2,711.3 1321.4,717.5 1321.6,704.1 1321.8,706.8 1322.0,712.7 1322.2,712.5 1322.3,712.6 1322.5,729.9 1322.7,713.1 1322.9,711.0 1323.1,714.4 1323.3,721.2 1323.5,714.0 1323.7,711.4 1323.9,702.7 1324.1,708.1 1324.3,711.5 1324.5,716.1 1324.7,725.0 1324.9,719.3 1325.1,725.6 1325.3,717.2 1325.5,709.4 1325.7,709.7 1325.9,710.8 1326.1,717.0 1326.3,710.6 1326.5,719.3 1326.7,730.8 1326.9,717.0 1327.0,717.9 1327.2,730.1 1327.4,722.2 1327.6,735.4 1327.8,722.5 1328.0,711.6 1328.2,724.4 1328.4,711.7 1328.6,719.4 1328.8,726.3 1329.0,733.6 1329.2,717.1 1329.4,718.1 1329.6,732.9 1329.8,726.2 1330.0,716.3 1330.2,729.0 1330.4,721.8 1330.6,737.7 1330.8,731.1 1331.0,720.5 1331.2,733.4 1331.4,735.4 1331.6,735.3 1331.7,728.8 1331.9,736.9 1332.1,727.4 1332.3,723.2 1332.5,716.9 1332.7,729.8 1332.9,716.6 1333.1,723.6 1333.3,728.8 1333.5,724.0 1333.7,717.5 1333.9,717.7 1334.1,722.5 1334.3,728.1 1334.5,722.1 1334.7,726.2 1334.9,726.6 1335.1,726.1 1335.3,716.0 1335.5,735.9 1335.7,728.8 1335.9,735.7 1336.1,723.2 1336.3,722.0 1336.5,720.8 1336.6,732.4 1336.8,730.3 1337.0,726.2 1337.2,730.6 1337.4,730.5 1337.6,731.8 1337.8,732.0 1338.0,735.2 1338.2,732.3 1338.4,745.2 1338.6,739.1 1338.8,745.5 1339.0,738.0 1339.2,742.5 1339.4,734.6 1339.6,730.1 1339.8,746.3 1340.0,743.3 1340.2,736.1 1340.4,728.7 1340.6,732.6 1340.8,734.4 1341.0,737.1 1341.2,739.1 1341.3,733.3 1341.5,732.0 1341.7,733.7 1341.9,738.0 1342.1,744.1 1342.3,738.9 1342.5,735.6 1342.7,740.4 1342.9,730.7 1343.1,741.8 1343.3,734.7 1343.5,730.6 1343.7,727.9 1343.9,731.8 1344.1,726.0 1344.3,737.8 1344.5,739.4 1344.7,728.0 1344.9,741.0 1345.1,736.9 1345.3,747.4 1345.5,729.8 1345.7,732.9 1345.9,742.8 1346.0,749.6 1346.2,737.4 1346.4,737.7 1346.6,732.5 1346.8,728.6 1347.0,739.2 1347.2,742.4 1347.4,742.8 1347.6,743.5 1347.8,750.5 1348.0,747.7 1348.2,742.7 1348.4,752.7 1348.6,750.8 1348.8,734.9 1349.0,747.0 1349.2,737.8 1349.4,736.1 1349.6,743.1 1349.8,738.1 1350.0,744.6 1350.2,749.2 1350.4,744.6 1350.6,743.8 1350.7,743.7 1350.9,744.3 1351.1,747.5 1351.3,738.7 1351.5,746.9 1351.7,748.5 1351.9,740.4 1352.1,752.6 1352.3,746.6 1352.5,737.6 1352.7,746.6 1352.9,738.3 1353.1,748.9 1353.3,750.6 1353.5,748.5 1353.7,751.1 1353.9,750.0 1354.1,750.6 1354.3,743.0 1354.5,745.6 1354.7,749.4 1354.9,752.9 1355.1,728.5 1355.3,749.6 1355.4,739.8 1355.6,755.8 1355.8,753.2 1356.0,741.1 1356.2,755.5 1356.4,755.4 1356.6,749.3 1356.8,753.6 1357.0,751.1 1357.2,748.5 1357.4,744.3 1357.6,748.8 1357.8,748.4 1358.0,742.4 1358.2,742.2 1358.4,753.4 1358.6,762.9 1358.8,758.1 1359.0,745.7 1359.2,755.5 1359.4,757.2 1359.6,756.0 1359.8,743.8 1360.0,753.4 1360.1,756.3 1360.3,758.6 1360.5,761.2 1360.7,737.6 1360.9,755.2 1361.1,754.3 1361.3,757.3 1361.5,749.0 1361.7,761.7 1361.9,767.4 1362.1,759.3 1362.3,753.8 1362.5,742.3 1362.7,756.5 1362.9,761.3 1363.1,757.5 1363.3,761.0 1363.5,761.2 1363.7,756.1 1363.9,755.1 1364.1,761.1 1364.3,750.9 1364.5,758.3 1364.7,757.6 1364.8,761.8 1365.0,756.9 1365.2,757.1 1365.4,756.0 1365.6,765.3 1365.8,756.9 1366.0,764.5 1366.2,760.7 1366.4,757.1 1366.6,752.7 1366.8,764.6 1367.0,768.7 1367.2,761.3 1367.4,755.0 1367.6,764.4 1367.8,748.1 1368.0,774.1 1368.2,754.1 1368.4,756.4 1368.6,757.1 1368.8,769.1 1369.0,756.5 1369.2,758.1 1369.4,758.1 1369.5,767.3 1369.7,767.9 1369.9,759.3 1370.1,765.4 1370.3,770.0 1370.5,773.3 1370.7,767.2 1370.9,777.2 1371.1,766.2 1371.3,769.0 1371.5,779.5 1371.7,768.0 1371.9,763.9 1372.1,769.8 1372.3,779.4 1372.5,775.4 1372.7,767.1 1372.9,779.9 1373.1,774.6 1373.3,765.7 1373.5,774.2 1373.7,775.9 1373.9,767.7 1374.1,762.8 1374.2,769.7 1374.4,779.5 1374.6,780.9 1374.8,772.5 1375.0,781.2 1375.2,770.7 1375.4,764.5 1375.6,784.9 1375.8,770.0 1376.0,766.7 1376.2,771.4 1376.4,765.7 1376.6,764.9 1376.8,761.6 1377.0,752.0 1377.2,765.9 1377.4,773.1 1377.6,774.0 1377.8,775.5 1378.0,764.5 1378.2,767.0 1378.4,766.6 1378.6,768.6 1378.8,760.9 1378.9,764.2 1379.1,765.0 1379.3,775.2 1379.5,773.5 1379.7,779.6 1379.9,776.1 1380.1,772.1 1380.3,780.0 1380.5,776.9 1380.7,761.8 1380.9,774.8 1381.1,782.6 1381.3,781.4 1381.5,774.9 1381.7,769.7 1381.9,775.3 1382.1,770.0 1382.3,773.3 1382.5,781.7 1382.7,769.5 1382.9,778.1 1383.1,764.8 1383.3,779.1 1383.5,776.6 1383.6,779.0 1383.8,777.5 1384.0,773.4 1384.2,777.2 1384.4,769.3 1384.6,773.8 1384.8,767.2 1385.0,776.0 1385.2,769.0 1385.4,769.6 1385.6,777.4 1385.8,762.2 1386.0,768.1 1386.2,773.8 1386.4,778.1 1386.6,777.5 1386.8,778.1 1387.0,775.6 1387.2,783.7 1387.4,777.0 1387.6,780.8 1387.8,767.9 1388.0,773.0 1388.2,767.8 1388.3,763.8 1388.5,774.6 1388.7,765.8 1388.9,775.2 1389.1,773.7 1389.3,782.7 1389.5,776.9 1389.7,769.3 1389.9,774.8 1390.1,779.9 1390.3,777.9 1390.5,782.3 1390.7,782.2 1390.9,786.8 1391.1,772.7 1391.3,773.1 1391.5,780.2 1391.7,787.4 1391.9,781.5 1392.1,769.1 1392.3,788.2 1392.5,783.8 1392.7,783.9 1392.9,776.9 1393.0,788.8 1393.2,780.3 1393.4,786.6 1393.6,784.1 1393.8,789.1 1394.0,779.4 1394.2,785.3 1394.4,786.0 1394.6,776.6 1394.8,781.0 1395.0,769.8 1395.2,780.9 1395.4,782.9 1395.6,782.8 1395.8,768.2 1396.0,776.6 1396.2,785.2 1396.4,781.9 1396.6,786.5 1396.8,779.9 1397.0,786.3 1397.2,786.5 1397.4,780.8 1397.6,775.6 1397.7,778.3 1397.9,778.8 1398.1,782.6 1398.3,796.1 1398.5,783.5 1398.7,783.7 1398.9,779.5 1399.1,772.7 1399.3,778.3 1399.5,792.2 1399.7,782.4 1399.9,783.9 1400.1,778.7 1400.3,783.1 1400.5,793.5 1400.7,788.0 1400.9,784.9 1401.1,794.6 1401.3,784.0 1401.5,785.0 1401.7,777.5 1401.9,784.2 1402.1,787.1 1402.3,784.4 1402.4,783.7 1402.6,778.5 1402.8,789.3 1403.0,796.6 1403.2,769.0 1403.4,780.2 1403.6,784.3 1403.8,771.3 1404.0,791.3 1404.2,789.5 1404.4,787.8 1404.6,782.9 1404.8,788.3 1405.0,781.6 1405.2,788.0 1405.4,779.0 1405.6,783.7 1405.8,795.5 1406.0,786.6 1406.2,792.7 1406.4,787.2 1406.6,786.4 1406.8,773.9 1407.0,787.5 1407.1,795.0 1407.3,785.5 1407.5,792.4 1407.7,775.8 1407.9,781.9 1408.1,777.1 1408.3,788.0 1408.5,791.6 1408.7,784.3 1408.9,793.5 1409.1,791.4 1409.3,790.3 1409.5,787.1 1409.7,794.9 1409.9,798.0 1410.1,779.0 1410.3,790.1 1410.5,788.4 1410.7,784.4 1410.9,785.5 1411.1,791.8 1411.3,791.0 1411.5,780.0 1411.7,782.2 1411.8,785.3 1412.0,780.6 1412.2,800.3 1412.4,789.5 1412.6,791.9 1412.8,801.1 1413.0,788.9 1413.2,787.4 1413.4,789.6 1413.6,801.1 1413.8,792.5 1414.0,790.2 1414.2,792.8 1414.4,790.0 1414.6,788.9 1414.8,784.0 1415.0,790.7 1415.2,777.8 1415.4,791.2 1415.6,791.0 1415.8,788.6 1416.0,793.5 1416.2,795.2 1416.4,787.0 1416.5,805.6 1416.7,803.9 1416.9,783.3 1417.1,790.9 1417.3,792.2 1417.5,793.7 1417.7,794.0 1417.9,800.9 1418.1,797.4 1418.3,801.6 1418.5,789.9 1418.7,792.8 1418.9,795.1 1419.1,794.4 1419.3,797.3 1419.5,802.9 1419.7,787.6 1419.9,793.4 1420.1,798.0 1420.3,794.0 1420.5,790.5 1420.7,791.2 1420.9,794.1 1421.1,793.4 1421.2,799.1 1421.4,790.8 1421.6,793.0 1421.8,793.1 1422.0,805.2 1422.2,794.8 1422.4,794.6 1422.6,793.9 1422.8,812.0 1423.0,808.1 1423.2,796.5 1423.4,803.0 1423.6,795.9 1423.8,798.4 1424.0,793.3 1424.2,800.9 1424.4,803.6 1424.6,795.2 1424.8,799.6 1425.0,804.5 1425.2,809.0 1425.4,781.9 1425.6,800.8 1425.8,800.4 1425.9,809.8 1426.1,805.1 1426.3,800.9 1426.5,798.7 1426.7,796.7 1426.9,805.1 1427.1,799.0 1427.3,795.8 1427.5,805.0 1427.7,803.1 1427.9,812.6 1428.1,807.7 1428.3,811.0 1428.5,800.4 1428.7,805.1 1428.9,795.9 1429.1,803.4 1429.3,800.3 1429.5,801.8 1429.7,803.5 1429.9,810.2 1430.1,795.7 1430.3,804.9 1430.5,814.1 1430.6,807.4 1430.8,810.1 1431.0,798.1 1431.2,798.9 1431.4,796.4 1431.6,793.1 1431.8,808.2 1432.0,815.0 1432.2,810.2 1432.4,803.4 1432.6,820.1 1432.8,809.4 1433.0,802.1 1433.2,811.4 1433.4,807.9 1433.6,812.4 1433.8,798.8 1434.0,798.1 1434.2,814.0 1434.4,813.4 1434.6,808.6 1434.8,805.9 1435.0,807.5 1435.2,806.6 1435.3,805.0 1435.5,804.0 1435.7,800.7 1435.9,809.8 1436.1,813.3 1436.3,811.4 1436.5,799.5 1436.7,806.9 1436.9,807.7 1437.1,804.5 1437.3,805.2 1437.5,799.4 1437.7,815.9 1437.9,810.7 1438.1,807.7 1438.3,807.3 1438.5,813.6 1438.7,820.0 1438.9,812.8 1439.1,814.9 1439.3,811.8 1439.5,805.5 1439.7,807.5 1439.9,817.1 1440.0,815.1 1440.2,810.1 1440.4,805.2 1440.6,811.5 1440.8,810.0 1441.0,819.0 1441.2,813.6 1441.4,815.1 1441.6,809.9 1441.8,812.2 1442.0,815.3 1442.2,816.2 1442.4,809.4 1442.6,813.7 1442.8,804.4 1443.0,809.3 1443.2,811.4 1443.4,805.3 1443.6,816.1 1443.8,805.2 1444.0,813.7 1444.2,806.3 1444.4,813.7 1444.6,815.1 1444.7,819.9 1444.9,810.4 1445.1,808.3 1445.3,818.1 1445.5,802.1 1445.7,811.5 1445.9,817.4 1446.1,801.9 1446.3,814.2 1446.5,804.9 1446.7,827.0 1446.9,801.9 1447.1,812.2 1447.3,813.4 1447.5,812.0 1447.7,819.8 1447.9,809.5 1448.1,812.2 1448.3,813.0 1448.5,817.8 1448.7,821.0 1448.9,813.5 1449.1,811.3 1449.3,815.0 1449.4,816.8 1449.6,818.6 1449.8,812.4 1450.0,808.8 1450.2,817.0 1450.4,820.6 1450.6,803.9 1450.8,824.2 1451.0,815.1 1451.2,817.0 1451.4,809.9 1451.6,817.3 1451.8,825.0 1452.0,822.4 1452.2,816.2 1452.4,817.0 1452.6,820.3 1452.8,819.9 1453.0,825.1 1453.2,824.8 1453.4,820.7 1453.6,821.2 1453.8,818.6 1454.0,824.0 1454.1,810.5 1454.3,827.2 1454.5,814.3 1454.7,816.1 1454.9,811.2 1455.1,812.4 1455.3,826.1 1455.5,818.0 1455.7,816.2 1455.9,815.6 1456.1,818.0 1456.3,823.6 1456.5,814.6 1456.7,821.8 1456.9,823.8 1457.1,820.6 1457.3,823.9 1457.5,825.0 1457.7,821.2 1457.9,808.8 1458.1,820.2 1458.3,821.3 1458.5,823.9 1458.7,819.8 1458.8,827.3 1459.0,819.0 1459.2,819.9 1459.4,820.7 1459.6,818.7 1459.8,821.9 1460.0,817.6 1460.2,818.1 1460.4,817.9 1460.6,820.5 1460.8,816.2 1461.0,821.3 1461.2,814.1 1461.4,820.9 1461.6,814.1 1461.8,819.0 1462.0,820.4 1462.2,825.2 1462.4,817.3 1462.6,818.7 1462.8,820.3 1463.0,818.7 1463.2,820.2 1463.4,825.4 1463.5,826.8 1463.7,818.2 1463.9,820.5 1464.1,814.2 1464.3,812.0 1464.5,817.8 1464.7,818.9 1464.9,819.3 1465.1,821.7 1465.3,825.3 1465.5,835.0 1465.7,818.7 1465.9,819.6 1466.1,822.3 1466.3,821.9 1466.5,817.9 1466.7,818.3 1466.9,821.8 1467.1,824.0 1467.3,820.0 1467.5,819.2 1467.7,812.6 1467.9,827.7 1468.1,821.1 1468.2,827.9 1468.4,826.0 1468.6,812.7 1468.8,826.1 1469.0,824.8 1469.2,827.1 1469.4,820.3 1469.6,826.5 1469.8,832.5 1470.0,823.9 1470.2,820.6 1470.4,824.6 1470.6,823.6 1470.8,827.6 1471.0,828.6 1471.2,823.9 1471.4,829.1 1471.6,825.6 1471.8,828.0 1472.0,824.1 1472.2,819.0 1472.4,822.7 1472.6,816.9 1472.8,820.4 1472.9,822.6 1473.1,826.1 1473.3,821.2 1473.5,827.2 1473.7,818.0 1473.9,828.0 1474.1,828.3 1474.3,825.8 1474.5,829.8 1474.7,821.5 1474.9,825.9 1475.1,824.6 1475.3,819.8 1475.5,833.5 1475.7,824.5 1475.9,821.9 1476.1,819.1 1476.3,823.7 1476.5,827.9 1476.7,820.6 1476.9,821.0 1477.1,815.3 1477.3,815.9 1477.5,827.4 1477.6,820.3 1477.8,826.1 1478.0,832.1 1478.2,824.2 1478.4,821.6 1478.6,839.0 1478.8,821.8 1479.0,832.1 1479.2,820.7 1479.4,827.3 1479.6,827.8 1479.8,822.0 1480.0,830.3 1480.2,818.9 1480.4,833.5 1480.6,831.9 1480.8,834.3 1481.0,826.8 1481.2,829.8 1481.4,825.9 1481.6,824.7 1481.8,826.2 1482.0,825.1 1482.2,825.2 1482.3,830.9 1482.5,834.1 1482.7,835.4 1482.9,827.5 1483.1,833.6 1483.3,835.9 1483.5,835.4 1483.7,832.7 1483.9,830.9 1484.1,833.3 1484.3,837.1 1484.5,830.1 1484.7,843.1 1484.9,834.5 1485.1,828.5 1485.3,832.3 1485.5,828.2 1485.7,833.4 1485.9,831.4 1486.1,834.1 1486.3,836.4 1486.5,833.0 1486.7,830.5 1486.9,844.2 1487.0,839.2 1487.2,845.3 1487.4,840.4 1487.6,842.4 1487.8,839.1 1488.0,838.7 1488.2,833.5 1488.4,832.7 1488.6,842.2 1488.8,841.3 1489.0,836.7 1489.2,842.7 1489.4,842.0 1489.6,848.7 1489.8,837.6 1490.0,840.0 1490.2,845.7 1490.4,847.5 1490.6,846.6 1490.8,840.2 1491.0,844.5 1491.2,847.9 1491.4,844.2 1491.6,839.2 1491.7,837.7 1491.9,837.5 1492.1,843.0 1492.3,842.6 1492.5,842.6 1492.7,841.1 1492.9,841.6 1493.1,848.5 1493.3,847.8 1493.5,846.5 1493.7,842.0 1493.9,847.4 1494.1,848.8 1494.3,841.3 1494.5,839.7 1494.7,850.1 1494.9,847.0 1495.1,841.7 1495.3,848.6 1495.5,843.2 1495.7,853.5 1495.9,848.6 1496.1,845.0 1496.3,841.5 1496.4,844.1 1496.6,855.3 1496.8,855.0 1497.0,852.3 1497.2,845.1 1497.4,845.6 1497.6,844.1 1497.8,845.8 1498.0,851.1 1498.2,850.3 1498.4,852.4 1498.6,845.0 1498.8,853.9 1499.0,848.2 1499.2,847.3 1499.4,843.1 1499.6,851.4 1499.8,846.4 1500.0,852.2 1500.2,843.5 1500.4,849.3 1500.6,848.9 1500.8,851.5 1501.0,849.8 1501.1,849.9 1501.3,849.6 1501.5,842.0 1501.7,851.0 1501.9,845.8 1502.1,843.3 1502.3,851.7 1502.5,856.0 1502.7,845.2 1502.9,854.3 1503.1,850.9 1503.3,848.4 1503.5,847.2 1503.7,849.8 1503.9,851.9 1504.1,845.2 1504.3,848.7 1504.5,841.8 1504.7,853.8 1504.9,850.6 1505.1,850.4 1505.3,848.0 1505.5,849.2 1505.7,849.9 1505.8,841.6 1506.0,850.1 1506.2,847.3 1506.4,848.0 1506.6,851.0 1506.8,845.0 1507.0,855.5 1507.2,842.7 1507.4,853.6 1507.6,848.3 1507.8,846.5 1508.0,848.9 1508.2,849.0 1508.4,842.0 1508.6,837.2 1508.8,843.0 1509.0,847.0 1509.2,850.6 1509.4,851.5 1509.6,843.7 1509.8,845.4 1510.0,844.0 1510.2,845.7 1510.4,844.7 1510.5,853.0 1510.7,854.0 1510.9,855.2 1511.1,851.3 1511.3,852.2 1511.5,851.0 1511.7,856.5 1511.9,850.9 1512.1,848.3 1512.3,851.2 1512.5,862.6 1512.7,851.5 1512.9,852.8 1513.1,847.5 1513.3,851.8 1513.5,848.4 1513.7,852.5 1513.9,849.5 1514.1,846.8 1514.3,851.8 1514.5,849.4 1514.7,849.9 1514.9,848.1 1515.1,851.0 1515.2,848.6 1515.4,858.0 1515.6,851.4 1515.8,847.1 1516.0,847.6 1516.2,854.2 1516.4,853.5 1516.6,848.5 1516.8,848.6 1517.0,848.0 1517.2,849.6 1517.4,849.3 1517.6,845.5 1517.8,853.4 1518.0,855.2 1518.2,845.5 1518.4,852.7 1518.6,846.8 1518.8,852.4 1519.0,854.2 1519.2,843.7 1519.4,850.3 1519.6,855.9 1519.8,851.2 1519.9,851.2 1520.1,851.5 1520.3,850.2 1520.5,855.6 1520.7,852.3 1520.9,849.4 1521.1,848.8 1521.3,851.1 1521.5,854.7 1521.7,859.5 1521.9,845.8 1522.1,856.3 1522.3,853.7 1522.5,851.9 1522.7,850.3 1522.9,852.3 1523.1,855.6 1523.3,852.6 1523.5,844.3 1523.7,842.8 1523.9,853.8 1524.1,850.5 1524.3,860.2 1524.5,852.5 1524.6,850.6 1524.8,854.7 1525.0,846.3 1525.2,850.1 1525.4,851.2 1525.6,864.1 1525.8,856.1 1526.0,850.8 1526.2,855.6 1526.4,860.6 1526.6,855.9 1526.8,847.4 1527.0,850.7 1527.2,849.9 1527.4,852.5 1527.6,846.8 1527.8,864.4 1528.0,857.9 1528.2,845.5 1528.4,848.9 1528.6,852.2 1528.8,854.5 1529.0,860.4 1529.2,854.9 1529.3,853.8 1529.5,857.0 1529.7,847.9 1529.9,849.4 1530.1,854.7 1530.3,850.1 1530.5,853.9 1530.7,852.8 1530.9,855.9 1531.1,844.2 1531.3,860.2 1531.5,854.9 1531.7,850.3 1531.9,850.5 1532.1,861.2 1532.3,858.7 1532.5,855.5 1532.7,858.4 1532.9,858.0 1533.1,856.5 1533.3,856.2 1533.5,851.3 1533.7,862.6 1533.9,851.7 1534.0,856.8 1534.2,853.6 1534.4,857.3 1534.6,846.5 1534.8,862.9 1535.0,851.0 1535.2,857.4 1535.4,856.5 1535.6,849.9 1535.8,856.3 1536.0,851.9 1536.2,849.7 1536.4,857.8 1536.6,847.5 1536.8,850.5 1537.0,856.5 1537.2,854.8 1537.4,858.7 1537.6,854.9 1537.8,852.8 1538.0,852.5 1538.2,855.8 1538.4,858.9 1538.6,859.7 1538.7,861.2 1538.9,858.7 1539.1,855.4 1539.3,860.3 1539.5,860.8 1539.7,862.4 1539.9,856.1 1540.1,859.4 1540.3,864.8 1540.5,854.0 1540.7,854.2 1540.9,858.2 1541.1,859.6 1541.3,858.2 1541.5,861.6 1541.7,853.8 1541.9,852.1 1542.1,853.3 1542.3,856.1 1542.5,855.9 1542.7,854.5 1542.9,849.6 1543.1,859.1 1543.3,855.8 1543.4,858.1 1543.6,860.0 1543.8,853.7 1544.0,850.4 1544.2,858.9 1544.4,850.8 1544.6,852.1 1544.8,852.9 1545.0,849.5 1545.2,857.5 1545.4,848.9 1545.6,856.8 1545.8,853.6 1546.0,862.0 1546.2,852.5 1546.4,856.5 1546.6,859.1 1546.8,861.2 1547.0,856.7 1547.2,852.7 1547.4,856.1 1547.6,859.7 1547.8,861.6 1548.0,862.9 1548.1,860.4 1548.3,865.5 1548.5,860.9 1548.7,855.3 1548.9,859.8 1549.1,860.3 1549.3,862.0 1549.5,856.9 1549.7,857.2 1549.9,854.0 1550.1,862.2 1550.3,863.7 1550.5,861.6 1550.7,863.9 1550.9,859.3 1551.1,860.6 1551.3,862.2 1551.5,859.0 1551.7,854.8 1551.9,855.8 1552.1,860.9 1552.3,858.2 1552.5,857.0 1552.7,855.5 1552.8,859.3 1553.0,862.8 1553.2,856.4 1553.4,861.3 1553.6,858.8 1553.8,858.3 1554.0,853.6 1554.2,858.8 1554.4,856.3 1554.6,857.6 1554.8,858.8 1555.0,853.3 1555.2,858.4 1555.4,854.8 1555.6,855.5 1555.8,863.6 1556.0,862.9 1556.2,868.6 1556.4,855.5 1556.6,855.6 1556.8,858.7 1557.0,858.8 1557.2,858.1 1557.4,859.4 1557.5,857.3 1557.7,857.5 1557.9,860.9 1558.1,852.3 1558.3,854.1 1558.5,859.7 1558.7,850.2 1558.9,849.4 1559.1,854.3 1559.3,854.7 1559.5,861.8 1559.7,861.0 1559.9,866.1 1560.1,861.9 1560.3,856.9 1560.5,862.4 1560.7,867.4 1560.9,855.1 1561.1,853.9 1561.3,855.8 1561.5,867.4 1561.7,858.6 1561.9,864.9 1562.1,862.4 1562.2,859.2 1562.4,856.1 1562.6,864.3 1562.8,863.3 1563.0,866.8 1563.2,862.0 1563.4,865.8 1563.6,864.0 1563.8,859.3 1564.0,862.2 1564.2,861.7 1564.4,861.1 1564.6,859.2 1564.8,857.0 1565.0,866.5 1565.2,868.2 1565.4,860.1 1565.6,859.3 1565.8,856.6 1566.0,858.8 1566.2,855.1 1566.4,859.6 1566.6,863.8 1566.8,857.6 1566.9,864.6 1567.1,863.8 1567.3,859.6 1567.5,862.1 1567.7,857.6 1567.9,862.6 1568.1,854.4 1568.3,865.1 1568.5,858.7 1568.7,863.2 1568.9,856.3 1569.1,863.8 1569.3,858.8 1569.5,873.6 1569.7,864.6 1569.9,855.7 1570.1,861.1 1570.3,861.5 1570.5,858.5 1570.7,852.8 1570.9,865.9 1571.1,862.1 1571.3,863.5 1571.5,859.2 1571.6,864.4 1571.8,867.7 1572.0,867.6 1572.2,859.5 1572.4,861.2 1572.6,858.9 1572.8,868.2 1573.0,865.6 1573.2,864.4 1573.4,859.3 1573.6,860.9 1573.8,863.3 1574.0,866.5 1574.2,862.1 1574.4,864.7 1574.6,859.7 1574.8,856.5 1575.0,862.6 1575.2,867.2 1575.4,854.3 1575.6,860.8 1575.8,861.2 1576.0,862.7 1576.2,862.5 1576.3,862.9 1576.5,862.3 1576.7,868.8 1576.9,865.9 1577.1,863.6 1577.3,862.8 1577.5,862.6 1577.7,861.7 1577.9,870.1 1578.1,866.9 1578.3,865.7 1578.5,862.7 1578.7,863.9 1578.9,855.8 1579.1,864.4 1579.3,863.8 1579.5,868.6 1579.7,856.1 1579.9,862.5 1580.1,863.2 1580.3,865.2 1580.5,862.5 1580.7,864.2 1580.9,858.5 1581.0,866.1 1581.2,864.9 1581.4,865.4 1581.6,861.5 1581.8,862.7 1582.0,860.5 1582.2,862.3 1582.4,862.4 1582.6,864.4 1582.8,861.4 1583.0,863.1 1583.2,863.7 1583.4,870.9 1583.6,866.7 1583.8,867.5 1584.0,871.6 1584.2,860.1 1584.4,859.5 1584.6,860.8 1584.8,862.7 1585.0,859.3 1585.2,870.9 1585.4,860.1 1585.6,872.2 1585.7,864.3 1585.9,864.5 1586.1,863.1 1586.3,862.7 1586.5,862.6 1586.7,867.8 1586.9,867.7 1587.1,868.3 1587.3,864.7 1587.5,866.3 1587.7,870.8 1587.9,861.3 1588.1,868.9 1588.3,866.3 1588.5,867.1 1588.7,866.9 1588.9,861.9 1589.1,866.4 1589.3,869.1 1589.5,866.2 1589.7,867.5 1589.9,869.4 1590.1,860.6 1590.3,859.8 1590.4,869.4 1590.6,858.7 1590.8,857.9 1591.0,869.9 1591.2,863.6 1591.4,866.4 1591.6,862.6 1591.8,876.5 1592.0,863.8 1592.2,867.6 1592.4,864.7 1592.6,863.4 1592.8,875.3 1593.0,867.1 1593.2,867.0 1593.4,864.8 1593.6,862.9 1593.8,864.3 1594.0,869.8 1594.2,864.4 1594.4,869.6 1594.6,864.0 1594.8,867.3 1595.0,867.1 1595.1,865.8 1595.3,871.8 1595.5,867.0 1595.7,869.9 1595.9,861.9 1596.1,860.4 1596.3,870.0 1596.5,872.6 1596.7,863.4 1596.9,866.1 1597.1,867.2 1597.3,855.3 1597.5,864.9 1597.7,867.0 1597.9,864.1 1598.1,862.0 1598.3,857.3 1598.5,861.8 1598.7,867.4 1598.9,864.7 1599.1,856.4 1599.3,869.3 1599.5,863.4 1599.7,859.1 1599.8,862.5 1600.0,864.5 1600.2,867.1 1600.4,863.6 1600.6,862.5 1600.8,863.8 1601.0,861.2 1601.2,864.5 1601.4,860.9 1601.6,865.3 1601.8,862.8 1602.0,867.5 1602.2,860.3 1602.4,862.2 1602.6,864.5 1602.8,870.6 1603.0,866.5 1603.2,877.9 1603.4,868.7 1603.6,866.9 1603.8,870.6 1604.0,867.0 1604.2,865.2 1604.4,861.1 1604.5,867.6 1604.7,873.2 1604.9,876.0 1605.1,868.2 1605.3,864.4 1605.5,863.6 1605.7,867.3 1605.9,869.9 1606.1,870.0 1606.3,867.9 1606.5,867.0 1606.7,865.1 1606.9,866.7 1607.1,859.8 1607.3,866.2 1607.5,864.8 1607.7,862.7 1607.9,862.9 1608.1,868.4 1608.3,871.7 1608.5,870.4 1608.7,864.3 1608.9,863.4 1609.1,864.3 1609.2,862.6 1609.4,860.8 1609.6,868.2 1609.8,856.5 1610.0,856.3 1610.2,863.2 1610.4,866.7 1610.6,865.5 1610.8,871.7 1611.0,866.9 1611.2,870.2 1611.4,868.0 1611.6,869.1 1611.8,861.0 1612.0,871.7 1612.2,867.8 1612.4,870.6 1612.6,863.8 1612.8,865.9 1613.0,875.2 1613.2,873.4 1613.4,869.0 1613.6,872.2 1613.8,868.4 1613.9,869.7 1614.1,873.7 1614.3,870.9 1614.5,868.1 1614.7,870.0 1614.9,869.2 1615.1,868.3 1615.3,870.1 1615.5,864.9 1615.7,874.1 1615.9,868.1 1616.1,871.6 1616.3,868.5 1616.5,867.1 1616.7,867.9 1616.9,868.0 1617.1,867.8 1617.3,868.8 1617.5,871.6 1617.7,868.3 1617.9,867.5 1618.1,867.9 1618.3,870.0 1618.5,870.0 1618.6,877.9 1618.8,873.7 1619.0,871.4 1619.2,867.1 1619.4,866.3 1619.6,869.9 1619.8,874.2 1620.0,868.5 1620.2,866.7 1620.4,867.4 1620.6,872.5 1620.8,873.9 1621.0,873.3 1621.2,874.0 1621.4,866.8 1621.6,869.3 1621.8,863.0 1622.0,864.9 1622.2,867.2 1622.4,873.2 1622.6,868.6 1622.8,869.4 1623.0,875.9 1623.2,875.4 1623.3,873.5 1623.5,866.5 1623.7,872.2 1623.9,875.6 1624.1,870.4 1624.3,868.5 1624.5,874.8 1624.7,863.8 1624.9,873.0 1625.1,866.6 1625.3,867.9 1625.5,872.8 1625.7,870.7 1625.9,870.2 1626.1,871.5 1626.3,867.7 1626.5,870.2 1626.7,876.5 1626.9,870.2 1627.1,874.6 1627.3,871.4 1627.5,869.9 1627.7,871.1 1627.9,867.2 1628.0,871.1 1628.2,872.7 1628.4,865.1 1628.6,868.3 1628.8,871.4 1629.0,870.9 1629.2,872.3 1629.4,870.6 1629.6,874.3 1629.8,864.8 1630.0,866.6 1630.2,878.8 1630.4,874.3 1630.6,871.1 1630.8,873.1 1631.0,878.3 1631.2,868.4 1631.4,874.9 1631.6,868.3 1631.8,869.0 1632.0,865.2 1632.2,873.5 1632.4,863.9 1632.6,874.5 1632.7,864.9 1632.9,866.3 1633.1,868.5 1633.3,873.7 1633.5,864.2 1633.7,867.0 1633.9,875.6 1634.1,878.8 1634.3,872.0 1634.5,872.7 1634.7,867.1 1634.9,869.1 1635.1,868.4 1635.3,871.2 1635.5,866.1 1635.7,871.3 1635.9,874.6 1636.1,877.7 1636.3,867.4 1636.5,871.3 1636.7,875.2 1636.9,872.3 1637.1,870.6 1637.3,866.8 1637.4,876.7 1637.6,870.7 1637.8,866.7 1638.0,867.7 1638.2,866.6 1638.4,862.6 1638.6,872.6 1638.8,871.8 1639.0,866.0 1639.2,864.2 1639.4,868.7 1639.6,871.0 1639.8,874.0 1640.0,867.8 1640.2,868.7 1640.4,873.6 1640.6,871.6 1640.8,873.1 1641.0,867.5 1641.2,869.9 1641.4,864.8 1641.6,864.3 1641.8,867.7 1642.0,864.5 1642.1,864.8 1642.3,863.0 1642.5,869.8 1642.7,865.8 1642.9,861.4 1643.1,865.5 1643.3,869.2 1643.5,866.8 1643.7,859.5 1643.9,868.9 1644.1,869.8 1644.3,864.3 1644.5,868.8 1644.7,873.0 1644.9,873.1 1645.1,867.4 1645.3,869.7 1645.5,862.2 1645.7,869.5 1645.9,872.2 1646.1,870.0 1646.3,871.6 1646.5,863.1 1646.7,870.0 1646.8,861.9 1647.0,865.3 1647.2,860.1 1647.4,867.7 1647.6,864.5 1647.8,875.0 1648.0,869.3 1648.2,870.4 1648.4,863.8 1648.6,868.5 1648.8,865.8 1649.0,870.8 1649.2,872.9 1649.4,868.7 1649.6,863.8 1649.8,868.6 1650.0,862.9 1650.2,869.6 1650.4,869.7 1650.6,869.6 1650.8,869.2 1651.0,870.7 1651.2,869.0 1651.4,871.0 1651.5,871.8 1651.7,862.7 1651.9,865.0 1652.1,869.2 1652.3,870.4 1652.5,873.9 1652.7,866.4 1652.9,871.0 1653.1,862.0 1653.3,875.2 1653.5,868.1 1653.7,865.2 1653.9,871.6 1654.1,862.8 1654.3,866.6 1654.5,866.8 1654.7,873.5 1654.9,867.0 1655.1,867.1 1655.3,870.3 1655.5,864.5 1655.7,869.6 1655.9,878.8 1656.1,869.6 1656.2,864.6 1656.4,872.9 1656.6,868.1 1656.8,872.9 1657.0,870.7 1657.2,880.2 1657.4,877.0 1657.6,871.6 1657.8,872.6 1658.0,877.1 1658.2,868.1 1658.4,869.3 1658.6,873.6 1658.8,877.8 1659.0,868.4 1659.2,872.2 1659.4,867.9 1659.6,866.4 1659.8,871.6 1660.0,871.2 1660.2,867.6 1660.4,871.2 1660.6,877.3 1660.8,868.2 1660.9,883.1 1661.1,887.5 1661.3,882.1 1661.5,886.6 1661.7,886.8 1661.9,880.9 1662.1,891.8 1662.3,893.1 1662.5,885.9 1662.7,891.8 1662.9,880.9 1663.1,888.9 1663.3,893.9 1663.5,887.2 1663.7,896.3 1663.9,878.2 1664.1,885.1 1664.3,881.4 1664.5,882.1 1664.7,883.6 1664.9,889.7 1665.1,880.4 1665.3,885.9 1665.5,887.9 1665.6,894.2 1665.8,877.5 1666.0,885.1 1666.2,886.0 1666.4,893.4 1666.6,879.3 1666.8,884.6 1667.0,879.1 1667.2,884.5 1667.4,888.7 1667.6,881.9 1667.8,892.9 1668.0,893.1 1668.2,886.0 1668.4,882.4 1668.6,880.9 1668.8,887.3 1669.0,887.9 1669.2,886.7 1669.4,889.1 1669.6,890.9 1669.8,886.2 1670.0,891.5 1670.2,890.2 1670.3,883.3 1670.5,888.3 1670.7,892.0 1670.9,885.9 1671.1,890.0 1671.3,885.8 1671.5,893.4 1671.7,892.7 1671.9,895.8 1672.1,882.9 1672.3,881.2 1672.5,882.1 1672.7,886.0 1672.9,886.5 1673.1,888.5 1673.3,884.2 1673.5,887.8 1673.7,891.7 1673.9,881.4 1674.1,881.7 1674.3,883.3 1674.5,886.0 1674.7,887.3 1674.9,884.7 1675.0,883.9 1675.2,890.5 1675.4,886.8 1675.6,889.6 1675.8,878.6 1676.0,890.7 1676.2,889.8 1676.4,888.1 1676.6,882.8 1676.8,888.1 1677.0,874.8 1677.2,879.8 1677.4,895.4 1677.6,882.5 1677.8,881.9 1678.0,890.1 1678.2,884.5 1678.4,883.9 1678.6,887.7 1678.8,885.4 1679.0,883.6 1679.2,888.2 1679.4,886.3 1679.6,892.3 1679.7,883.7 1679.9,890.2 1680.1,881.4 1680.3,877.4 1680.5,879.5 1680.7,890.2 1680.9,885.8 1681.1,889.2 1681.3,885.5 1681.5,891.8 1681.7,892.5 1681.9,887.6 1682.1,891.1 1682.3,880.9 1682.5,883.2 1682.7,885.0 1682.9,887.3 1683.1,887.4 1683.3,881.8 1683.5,886.3 1683.7,886.7 1683.9,877.7 1684.1,886.5 1684.3,888.8 1684.4,888.9 1684.6,881.7 1684.8,890.8 1685.0,890.9 1685.2,883.4 1685.4,883.2 1685.6,882.2 1685.8,893.5 1686.0,887.2 1686.2,892.2 1686.4,887.3 1686.6,897.1 1686.8,890.2 1687.0,883.7 1687.2,887.9 1687.4,900.7 1687.6,883.6 1687.8,886.6 1688.0,889.5 1688.2,888.0 1688.4,889.4 1688.6,881.9 1688.8,887.6 1689.0,895.1 1689.1,891.3 1689.3,878.8 1689.5,881.1 1689.7,882.6 1689.9,890.3 1690.1,883.6 1690.3,881.1 1690.5,885.6 1690.7,882.4 1690.9,880.4 1691.1,880.9 1691.3,883.8 1691.5,883.8 1691.7,892.2 1691.9,887.6 1692.1,882.1 1692.3,877.9 1692.5,885.4 1692.7,881.0 1692.9,886.3 1693.1,891.1 1693.3,884.1 1693.5,883.9 1693.7,890.5 1693.8,890.2 1694.0,885.6 1694.2,888.3 1694.4,883.2 1694.6,892.3 1694.8,881.5 1695.0,888.6 1695.2,883.8 1695.4,893.2 1695.6,880.9 1695.8,884.6 1696.0,875.3 1696.2,894.0 1696.4,895.0 1696.6,882.5 1696.8,881.8 1697.0,895.2 1697.2,884.0 1697.4,882.2 1697.6,880.1 1697.8,886.7 1698.0,895.3 1698.2,897.5 1698.4,877.9 1698.5,886.5 1698.7,883.9 1698.9,890.7 1699.1,890.5 1699.3,890.7 1699.5,894.5 1699.7,891.6 1699.9,895.8 1700.1,892.6 1700.3,885.2 1700.5,890.7 1700.7,894.3 1700.9,882.5 1701.1,884.7 1701.3,891.1 1701.5,900.0 1701.7,885.1 1701.9,885.1 1702.1,894.6 1702.3,884.7 1702.5,895.9 1702.7,893.1 1702.9,894.1 1703.1,890.9 1703.2,892.5 1703.4,884.7 1703.6,893.4 1703.8,889.4 1704.0,891.3 1704.2,890.2 1704.4,895.4 1704.6,891.4 1704.8,884.3 1705.0,887.0 1705.2,896.9 1705.4,893.1 1705.6,896.1 1705.8,894.7 1706.0,894.5 1706.2,897.5 1706.4,889.3 1706.6,887.2 1706.8,891.1 1707.0,894.4 1707.2,891.4 1707.4,896.0 1707.6,887.2 1707.8,880.8 1707.9,905.6 1708.1,890.3 1708.3,891.9 1708.5,891.0 1708.7,893.1 1708.9,899.0 1709.1,891.7 1709.3,893.1 1709.5,891.6 1709.7,890.8 1709.9,892.9 1710.1,878.9 1710.3,896.3 1710.5,891.9 1710.7,896.2 1710.9,890.6 1711.1,882.1 1711.3,889.9 1711.5,893.8 1711.7,896.2 1711.9,886.8 1712.1,892.9 1712.3,886.2 1712.5,892.6 1712.6,891.6 1712.8,889.1 1713.0,896.7 1713.2,882.5 1713.4,893.9 1713.6,887.4 1713.8,885.8 1714.0,876.2 1714.2,885.4 1714.4,883.6 1714.6,890.3 1714.8,888.5 1715.0,887.9 1715.2,882.7 1715.4,893.0 1715.6,886.3 1715.8,874.4 1716.0,893.5 1716.2,898.0 1716.4,891.7 1716.6,890.0 1716.8,881.3 1717.0,887.3 1717.2,884.2 1717.3,893.5 1717.5,890.3 1717.7,888.8 1717.9,894.4 1718.1,888.9 1718.3,891.8 1718.5,889.3 1718.7,897.3 1718.9,900.5 1719.1,883.7 1719.3,890.3 1719.5,891.0 1719.7,877.8 1719.9,885.5 1720.1,888.4 1720.3,893.8 1720.5,888.7 1720.7,889.4 1720.9,891.8 1721.1,883.5 1721.3,886.8 1721.5,887.7 1721.7,894.5 1721.9,893.8 1722.0,884.8 1722.2,889.1 1722.4,892.9 1722.6,888.5 1722.8,889.8 1723.0,892.0 1723.2,890.6 1723.4,885.9 1723.6,887.8 1723.8,893.6 1724.0,892.8 1724.2,887.5 1724.4,893.9 1724.6,888.0 1724.8,889.0 1725.0,894.6 1725.2,899.8 1725.4,891.9 1725.6,887.7 1725.8,887.5 1726.0,881.2 1726.2,887.2 1726.4,887.6 1726.6,885.4 1726.7,889.4 1726.9,878.8" fill="none" stroke="#ff0000" stroke-width="1.5" stroke-linejoin="round" />
<polyline points="356.1,911.5 356.3,910.6 356.5,912.2 356.7,913.9 356.9,912.7 357.1,914.2 357.3,911.3 357.5,907.7 357.7,912.8 357.9,913.2 358.1,910.1 358.3,910.5 358.5,911.2 358.6,914.0 358.8,911.5 359.0,909.5 359.2,915.2 359.4,912.7 359.6,916.8 359.8,915.0 360.0,916.6 360.2,912.1 360.4,915.0 360.6,910.7 360.8,911.0 361.0,912.0 361.2,918.5 361.4,913.0 361.6,911.6 361.8,911.1 362.0,915.7 362.2,912.8 362.4,914.2 362.6,913.7 362.8,908.5 363.0,913.7 363.2,911.5 363.3,909.0 363.5,913.1 363.7,911.8 363.9,911.1 364.1,911.3 364.3,914.9 364.5,911.2 364.7,907.7 364.9,915.8 365.1,909.1 365.3,911.1 365.5,913.2 365.7,905.9 365.9,909.3 366.1,914.8 366.3,911.2 366.5,909.8 366.7,912.0 366.9,909.6 367.1,911.6 367.3,909.6 367.5,907.4 367.7,913.3 367.9,910.9 368.0,912.7 368.2,911.1 368.4,914.8 368.6,913.1 368.8,912.0 369.0,909.0 369.2,908.3 369.4,915.1 369.6,913.7 369.8,909.7 370.0,917.0 370.2,912.7 370.4,911.7 370.6,908.0 370.8,909.5 371.0,912.4 371.2,912.5 371.4,912.2 371.6,907.2 371.8,912.6 372.0,912.3 372.2,910.5 372.4,911.8 372.6,912.0 372.7,914.6 372.9,911.5 373.1,912.7 373.3,908.2 373.5,909.6 373.7,911.5 373.9,909.6 374.1,912.4 374.3,908.5 374.5,911.5 374.7,909.8 374.9,915.1 375.1,910.5 375.3,916.2 375.5,917.1 375.7,912.3 375.9,914.0 376.1,911.0 376.3,905.2 376.5,913.8 376.7,913.2 376.9,910.9 377.1,910.1 377.3,911.9 377.4,912.0 377.6,909.5 377.8,910.0 378.0,914.3 378.2,911.7 378.4,911.3 378.6,914.4 378.8,910.7 379.0,913.8 379.2,908.7 379.4,910.9 379.6,911.2 379.8,913.1 380.0,911.8 380.2,917.0 380.4,914.6 380.6,910.4 380.8,917.4 381.0,909.1 381.2,916.3 381.4,909.3 381.6,913.8 381.8,909.2 382.0,911.0 382.1,915.7 382.3,907.9 382.5,907.4 382.7,911.6 382.9,912.2 383.1,911.8 383.3,914.1 383.5,908.3 383.7,912.9 383.9,911.5 384.1,913.6 384.3,913.1 384.5,914.9 384.7,907.8 384.9,911.8 385.1,908.6 385.3,911.3 385.5,913.3 385.7,912.2 385.9,912.9 386.1,911.3 386.3,912.4 386.5,912.1 386.7,915.1 386.8,913.5 387.0,906.7 387.2,913.2 387.4,914.2 387.6,910.3 387.8,907.3 388.0,915.3 388.2,911.8 388.4,913.0 388.6,916.2 388.8,909.2 389.0,911.3 389.2,911.0 389.4,913.3 389.6,909.9 389.8,912.7 390.0,911.6 390.2,914.2 390.4,914.5 390.6,907.3 390.8,912.4 391.0,910.1 391.2,910.9 391.4,912.0 391.5,912.1 391.7,908.8 391.9,911.4 392.1,910.9 392.3,910.3 392.5,906.9 392.7,908.2 392.9,909.0 393.1,911.6 393.3,913.8 393.5,907.0 393.7,906.9 393.9,910.0 394.1,907.9 394.3,907.1 394.5,906.8 394.7,906.5 394.9,910.3 395.1,904.5 395.3,912.4 395.5,906.2 395.7,907.2 395.9,906.0 396.1,903.0 396.2,904.0 396.4,911.6 396.6,913.1 396.8,905.8 397.0,911.0 397.2,908.1 397.4,905.5 397.6,912.7 397.8,914.1 398.0,907.1 398.2,907.7 398.4,908.5 398.6,907.7 398.8,910.3 399.0,912.2 399.2,908.3 399.4,910.7 399.6,912.7 399.8,906.4 400.0,908.1 400.2,906.8 400.4,911.0 400.6,910.1 400.8,911.2 400.9,910.9 401.1,907.9 401.3,910.8 401.5,907.6 401.7,907.8 401.9,903.0 402.1,913.0 402.3,906.5 402.5,909.5 402.7,909.4 402.9,913.6 403.1,910.9 403.3,907.6 403.5,910.0 403.7,909.7 403.9,910.9 404.1,906.9 404.3,910.3 404.5,916.6 404.7,912.4 404.9,916.1 405.1,919.8 405.3,912.3 405.5,907.1 405.6,910.8 405.8,914.3 406.0,913.7 406.2,907.9 406.4,910.7 406.6,911.0 406.8,911.3 407.0,911.1 407.2,909.0 407.4,909.7 407.6,910.6 407.8,914.2 408.0,909.8 408.2,913.2 408.4,908.2 408.6,914.8 408.8,911.7 409.0,911.3 409.2,915.0 409.4,906.5 409.6,907.2 409.8,912.6 410.0,909.2 410.2,910.3 410.3,918.6 410.5,910.6 410.7,911.5 410.9,911.1 411.1,914.4 411.3,912.1 411.5,911.9 411.7,908.1 411.9,910.4 412.1,911.4 412.3,907.1 412.5,912.9 412.7,912.5 412.9,916.5 413.1,907.0 413.3,908.7 413.5,908.8 413.7,909.5 413.9,911.1 414.1,910.8 414.3,912.1 414.5,912.0 414.7,911.3 414.9,907.2 415.0,909.9 415.2,911.6 415.4,913.0 415.6,913.2 415.8,907.0 416.0,910.0 416.2,911.3 416.4,912.4 416.6,914.5 416.8,911.6 417.0,909.0 417.2,912.5 417.4,912.1 417.6,912.1 417.8,911.1 418.0,915.9 418.2,912.1 418.4,913.8 418.6,909.0 418.8,913.6 419.0,909.8 419.2,907.2 419.4,912.3 419.6,913.1 419.7,910.9 419.9,911.5 420.1,914.2 420.3,910.2 420.5,905.8 420.7,912.2 420.9,912.0 421.1,914.3 421.3,910.5 421.5,914.9 421.7,914.5 421.9,907.9 422.1,913.9 422.3,908.4 422.5,907.2 422.7,910.7 422.9,909.9 423.1,906.0 423.3,911.9 423.5,913.0 423.7,915.2 423.9,911.3 424.1,907.2 424.3,908.7 424.4,914.0 424.6,913.7 424.8,912.8 425.0,910.5 425.2,911.9 425.4,910.7 425.6,910.5 425.8,912.1 426.0,911.4 426.2,910.7 426.4,911.5 426.6,909.9 426.8,906.0 427.0,909.6 427.2,911.1 427.4,916.0 427.6,910.2 427.8,916.7 428.0,915.2 428.2,908.8 428.4,909.2 428.6,911.6 428.8,916.0 429.0,912.2 429.1,913.1 429.3,909.4 429.5,904.8 429.7,910.5 429.9,913.3 430.1,914.4 430.3,911.3 430.5,911.6 430.7,914.3 430.9,910.7 431.1,914.3 431.3,907.9 431.5,908.1 431.7,908.0 431.9,912.3 432.1,909.6 432.3,911.4 432.5,912.1 432.7,911.9 432.9,914.6 433.1,915.0 433.3,908.7 433.5,911.5 433.7,910.3 433.8,908.1 434.0,915.8 434.2,913.1 434.4,910.4 434.6,909.7 434.8,911.9 435.0,907.9 435.2,910.2 435.4,914.2 435.6,913.4 435.8,908.5 436.0,909.5 436.2,916.1 436.4,906.9 436.6,909.0 436.8,906.9 437.0,911.8 437.2,911.5 437.4,913.9 437.6,903.5 437.8,911.2 438.0,906.2 438.2,912.5 438.4,910.2 438.5,915.3 438.7,911.7 438.9,907.8 439.1,914.1 439.3,907.5 439.5,909.6 439.7,913.5 439.9,911.9 440.1,911.8 440.3,910.6 440.5,912.0 440.7,912.8 440.9,911.3 441.1,913.3 441.3,914.1 441.5,910.6 441.7,907.9 441.9,914.7 442.1,910.4 442.3,912.2 442.5,913.1 442.7,907.9 442.9,911.8 443.1,906.0 443.2,912.5 443.4,909.2 443.6,910.9 443.8,912.4 444.0,908.5 444.2,910.6 444.4,908.5 444.6,910.3 444.8,913.2 445.0,910.4 445.2,910.0 445.4,907.4 445.6,912.6 445.8,910.2 446.0,914.9 446.2,908.2 446.4,913.1 446.6,915.1 446.8,910.1 447.0,906.8 447.2,914.3 447.4,913.0 447.6,912.0 447.8,913.1 447.9,908.7 448.1,912.1 448.3,911.8 448.5,908.1 448.7,911.9 448.9,908.5 449.1,912.5 449.3,913.1 449.5,914.9 449.7,904.3 449.9,910.5 450.1,908.9 450.3,909.7 450.5,909.1 450.7,909.4 450.9,904.0 451.1,912.5 451.3,913.9 451.5,912.3 451.7,913.2 451.9,907.2 452.1,907.0 452.3,912.1 452.5,913.3 452.6,910.3 452.8,905.3 453.0,917.4 453.2,907.7 453.4,912.3 453.6,906.2 453.8,912.2 454.0,909.9 454.2,913.4 454.4,911.9 454.6,905.0 454.8,906.6 455.0,910.1 455.2,911.5 455.4,914.4 455.6,910.0 455.8,909.0 456.0,909.1 456.2,909.1 456.4,912.1 456.6,909.0 456.8,908.9 457.0,905.0 457.2,903.3 457.3,909.1 457.5,910.9 457.7,908.8 457.9,910.4 458.1,910.7 458.3,908.7 458.5,911.6 458.7,906.7 458.9,908.8 459.1,907.7 459.3,908.9 459.5,910.5 459.7,911.1 459.9,909.0 460.1,909.9 460.3,907.6 460.5,908.3 460.7,912.2 460.9,908.0 461.1,912.1 461.3,910.0 461.5,909.0 461.7,914.2 461.9,907.8 462.0,907.6 462.2,908.5 462.4,909.2 462.6,909.1 462.8,910.8 463.0,908.7 463.2,909.5 463.4,907.6 463.6,911.4 463.8,907.1 464.0,907.4 464.2,908.2 464.4,909.0 464.6,906.1 464.8,912.6 465.0,906.3 465.2,906.9 465.4,906.8 465.6,906.4 465.8,909.5 466.0,908.3 466.2,905.6 466.4,906.2 466.6,906.8 466.7,911.9 466.9,905.8 467.1,903.9 467.3,904.3 467.5,906.6 467.7,911.9 467.9,904.5 468.1,907.7 468.3,914.7 468.5,906.1 468.7,911.6 468.9,911.0 469.1,909.0 469.3,903.3 469.5,908.2 469.7,906.2 469.9,901.8 470.1,902.3 470.3,907.3 470.5,907.6 470.7,910.7 470.9,908.9 471.1,905.6 471.3,905.7 471.4,906.5 471.6,903.8 471.8,909.1 472.0,906.9 472.2,904.5 472.4,904.9 472.6,903.5 472.8,905.5 473.0,907.5 473.2,905.5 473.4,909.5 473.6,911.4 473.8,904.8 474.0,906.6 474.2,905.5 474.4,911.5 474.6,907.5 474.8,908.2 475.0,908.9 475.2,913.1 475.4,907.3 475.6,903.6 475.8,905.1 476.0,908.0 476.1,906.2 476.3,903.9 476.5,914.4 476.7,906.5 476.9,904.5 477.1,904.0 477.3,900.9 477.5,902.6 477.7,905.1 477.9,905.1 478.1,903.6 478.3,907.5 478.5,906.0 478.7,903.1 478.9,900.0 479.1,906.3 479.3,905.9 479.5,905.2 479.7,901.7 479.9,905.8 480.1,901.3 480.3,908.6 480.5,906.2 480.7,906.2 480.8,903.2 481.0,902.4 481.2,910.1 481.4,908.3 481.6,904.5 481.8,907.4 482.0,910.0 482.2,902.3 482.4,903.9 482.6,903.8 482.8,906.7 483.0,902.2 483.2,906.0 483.4,901.9 483.6,908.0 483.8,907.8 484.0,904.5 484.2,907.3 484.4,903.1 484.6,904.3 484.8,907.8 485.0,904.8 485.2,906.1 485.4,902.2 485.5,906.9 485.7,906.2 485.9,901.2 486.1,898.1 486.3,898.8 486.5,904.6 486.7,904.1 486.9,900.1 487.1,905.1 487.3,907.7 487.5,904.3 487.7,903.3 487.9,907.1 488.1,909.6 488.3,908.9 488.5,902.5 488.7,906.8 488.9,904.9 489.1,903.8 489.3,902.5 489.5,905.4 489.7,902.9 489.9,907.1 490.1,905.4 490.2,907.4 490.4,900.8 490.6,904.3 490.8,906.5 491.0,905.3 491.2,904.8 491.4,902.0 491.6,909.0 491.8,907.3 492.0,905.2 492.2,896.3 492.4,901.1 492.6,904.3 492.8,901.8 493.0,897.6 493.2,904.6 493.4,905.0 493.6,900.1 493.8,902.3 494.0,901.7 494.2,905.3 494.4,897.8 494.6,898.5 494.8,901.9 494.9,901.6 495.1,909.9 495.3,901.6 495.5,904.2 495.7,902.2 495.9,901.4 496.1,904.5 496.3,908.7 496.5,902.3 496.7,905.7 496.9,904.4 497.1,905.2 497.3,904.4 497.5,910.4 497.7,899.5 497.9,902.5 498.1,899.8 498.3,897.1 498.5,903.1 498.7,908.7 498.9,905.9 499.1,906.8 499.3,904.6 499.5,902.8 499.6,909.2 499.8,901.9 500.0,907.7 500.2,902.0 500.4,903.3 500.6,903.9 500.8,903.1 501.0,904.5 501.2,904.7 501.4,908.0 501.6,902.9 501.8,897.0 502.0,896.6 502.2,898.6 502.4,900.5 502.6,904.7 502.8,898.1 503.0,902.8 503.2,902.8 503.4,903.4 503.6,902.2 503.8,903.8 504.0,902.7 504.2,905.8 504.3,903.6 504.5,895.3 504.7,902.6 504.9,903.1 505.1,900.6 505.3,900.1 505.5,905.7 505.7,902.9 505.9,899.3 506.1,901.3 506.3,901.8 506.5,897.3 506.7,904.2 506.9,901.8 507.1,903.7 507.3,897.4 507.5,908.1 507.7,904.1 507.9,903.6 508.1,899.9 508.3,900.0 508.5,897.5 508.7,906.8 508.9,899.5 509.0,902.7 509.2,903.9 509.4,900.1 509.6,904.6 509.8,908.2 510.0,902.8 510.2,906.4 510.4,903.7 510.6,900.4 510.8,900.6 511.0,896.6 511.2,902.2 511.4,906.3 511.6,903.9 511.8,904.3 512.0,905.3 512.2,900.0 512.4,903.4 512.6,907.6 512.8,899.1 513.0,901.7 513.2,900.2 513.4,900.9 513.6,899.2 513.7,901.1 513.9,897.3 514.1,899.8 514.3,899.9 514.5,899.8 514.7,905.7 514.9,901.6 515.1,901.9 515.3,900.4 515.5,905.3 515.7,895.8 515.9,900.6 516.1,904.7 516.3,906.3 516.5,901.7 516.7,901.1 516.9,903.1 517.1,900.5 517.3,902.8 517.5,899.0 517.7,903.0 517.9,900.8 518.1,897.6 518.3,892.5 518.4,903.8 518.6,902.1 518.8,903.2 519.0,898.0 519.2,904.1 519.4,902.0 519.6,900.5 519.8,903.5 520.0,903.4 520.2,901.9 520.4,907.0 520.6,904.9 520.8,901.6 521.0,899.8 521.2,900.8 521.4,905.9 521.6,901.7 521.8,897.6 522.0,898.4 522.2,900.4 522.4,902.9 522.6,898.1 522.8,901.9 523.0,903.7 523.1,902.5 523.3,895.3 523.5,899.2 523.7,896.2 523.9,901.4 524.1,896.9 524.3,901.7 524.5,900.3 524.7,891.8 524.9,897.3 525.1,901.3 525.3,900.0 525.5,898.6 525.7,895.8 525.9,901.2 526.1,905.1 526.3,900.4 526.5,899.5 526.7,899.1 526.9,895.3 527.1,898.4 527.3,896.8 527.5,902.9 527.7,896.6 527.8,892.6 528.0,896.8 528.2,898.5 528.4,898.8 528.6,893.5 528.8,902.2 529.0,899.5 529.2,897.7 529.4,896.7 529.6,900.5 529.8,898.1 530.0,899.9 530.2,898.6 530.4,899.4 530.6,902.6 530.8,899.0 531.0,896.1 531.2,901.9 531.4,899.6 531.6,896.6 531.8,902.2 532.0,898.1 532.2,902.1 532.4,895.0 532.5,891.2 532.7,892.1 532.9,899.3 533.1,896.2 533.3,898.1 533.5,898.1 533.7,893.5 533.9,902.7 534.1,895.0 534.3,898.5 534.5,893.8 534.7,897.7 534.9,900.4 535.1,897.3 535.3,895.8 535.5,898.1 535.7,896.6 535.9,899.8 536.1,905.0 536.3,895.1 536.5,895.7 536.7,897.5 536.9,897.7 537.1,894.6 537.2,899.4 537.4,900.1 537.6,898.4 537.8,893.9 538.0,902.2 538.2,893.8 538.4,899.8 538.6,901.2 538.8,893.5 539.0,897.9 539.2,901.8 539.4,898.7 539.6,894.5 539.8,893.6 540.0,898.8 540.2,896.1 540.4,895.0 540.6,899.4 540.8,896.1 541.0,897.4 541.2,899.0 541.4,898.8 541.6,896.9 541.8,897.0 541.9,898.9 542.1,898.4 542.3,893.4 542.5,896.3 542.7,894.1 542.9,893.0 543.1,895.0 543.3,889.4 543.5,899.5 543.7,894.1 543.9,897.8 544.1,890.6 544.3,891.1 544.5,903.0 544.7,899.8 544.9,894.4 545.1,894.0 545.3,894.1 545.5,896.7 545.7,895.0 545.9,894.3 546.1,896.6 546.3,893.0 546.5,903.7 546.6,894.2 546.8,899.6 547.0,893.1 547.2,896.9 547.4,899.1 547.6,894.9 547.8,899.1 548.0,899.0 548.2,901.2 548.4,896.1 548.6,894.3 548.8,892.5 549.0,896.3 549.2,892.4 549.4,895.7 549.6,896.1 549.8,893.8 550.0,892.2 550.2,896.8 550.4,896.4 550.6,896.1 550.8,895.3 551.0,898.5 551.2,892.1 551.3,896.8 551.5,893.9 551.7,898.1 551.9,894.2 552.1,894.0 552.3,896.7 552.5,888.6 552.7,894.0 552.9,889.3 553.1,892.0 553.3,897.3 553.5,896.4 553.7,893.6 553.9,894.8 554.1,894.8 554.3,895.9 554.5,900.9 554.7,895.6 554.9,902.2 555.1,893.6 555.3,897.2 555.5,897.1 555.7,895.5 555.9,893.8 556.0,899.4 556.2,900.4 556.4,898.1 556.6,901.4 556.8,897.7 557.0,889.2 557.2,898.0 557.4,892.3 557.6,899.0 557.8,893.4 558.0,895.4 558.2,894.5 558.4,892.4 558.6,888.4 558.8,893.6 559.0,893.8 559.2,897.4 559.4,892.2 559.6,894.9 559.8,891.3 560.0,894.2 560.2,888.2 560.4,900.6 560.6,894.9 560.7,891.0 560.9,895.0 561.1,896.5 561.3,894.7 561.5,898.4 561.7,893.4 561.9,885.6 562.1,889.9 562.3,897.4 562.5,896.6 562.7,895.0 562.9,890.2 563.1,896.3 563.3,895.8 563.5,890.5 563.7,890.6 563.9,894.7 564.1,897.1 564.3,898.6 564.5,895.7 564.7,900.8 564.9,890.8 565.1,895.4 565.3,891.6 565.4,886.9 565.6,889.2 565.8,897.0 566.0,890.2 566.2,889.2 566.4,895.6 566.6,896.2 566.8,893.4 567.0,898.3 567.2,888.0 567.4,901.0 567.6,896.6 567.8,893.7 568.0,893.6 568.2,892.2 568.4,891.8 568.6,893.4 568.8,888.9 569.0,899.9 569.2,892.6 569.4,895.0 569.6,892.1 569.8,891.8 570.0,895.6 570.1,894.7 570.3,889.8 570.5,891.3 570.7,894.7 570.9,885.5 571.1,884.6 571.3,897.3 571.5,891.3 571.7,883.8 571.9,889.6 572.1,891.5 572.3,892.9 572.5,894.0 572.7,892.8 572.9,894.0 573.1,889.5 573.3,893.4 573.5,893.5 573.7,896.0 573.9,892.1 574.1,895.0 574.3,892.5 574.5,888.3 574.7,890.6 574.8,890.1 575.0,890.6 575.2,891.6 575.4,892.2 575.6,892.7 575.8,889.1 576.0,895.3 576.2,887.1 576.4,891.5 576.6,894.1 576.8,893.2 577.0,893.8 577.2,890.9 577.4,893.9 577.6,887.5 577.8,894.0 578.0,899.1 578.2,893.8 578.4,898.1 578.6,891.4 578.8,887.6 579.0,889.0 579.2,895.7 579.4,893.8 579.5,885.1 579.7,890.0 579.9,891.1 580.1,887.4 580.3,882.7 580.5,886.6 580.7,890.5 580.9,889.7 581.1,888.8 581.3,893.0 581.5,894.5 581.7,890.6 581.9,894.0 582.1,891.0 582.3,890.4 582.5,882.7 582.7,893.6 582.9,891.1 583.1,891.2 583.3,889.1 583.5,887.0 583.7,892.2 583.9,893.3 584.1,896.1 584.2,893.6 584.4,888.6 584.6,890.2 584.8,893.8 585.0,891.6 585.2,890.2 585.4,888.5 585.6,892.3 585.8,891.1 586.0,896.4 586.2,894.1 586.4,884.6 586.6,897.6 586.8,891.2 587.0,889.3 587.2,891.3 587.4,892.7 587.6,890.1 587.8,889.9 588.0,890.2 588.2,896.3 588.4,890.3 588.6,892.7 588.8,891.6 588.9,888.9 589.1,887.5 589.3,886.6 589.5,891.3 589.7,886.4 589.9,885.5 590.1,885.6 590.3,884.7 590.5,890.0 590.7,890.1 590.9,886.6 591.1,894.1 591.3,888.6 591.5,891.2 591.7,890.6 591.9,895.3 592.1,892.3 592.3,889.3 592.5,886.1 592.7,885.7 592.9,889.4 593.1,889.7 593.3,891.9 593.5,887.6 593.6,889.9 593.8,886.9 594.0,882.9 594.2,889.0 594.4,894.1 594.6,891.8 594.8,893.9 595.0,892.9 595.2,884.3 595.4,888.0 595.6,894.0 595.8,886.4 596.0,884.3 596.2,889.9 596.4,890.9 596.6,889.7 596.8,887.6 597.0,886.3 597.2,884.4 597.4,884.2 597.6,884.3 597.8,883.7 598.0,886.1 598.2,893.6 598.3,888.8 598.5,887.2 598.7,889.6 598.9,885.1 599.1,889.4 599.3,891.4 599.5,883.1 599.7,885.8 599.9,887.3 600.1,884.8 600.3,884.3 600.5,886.8 600.7,896.5 600.9,890.3 601.1,889.5 601.3,891.3 601.5,887.1 601.7,883.7 601.9,889.5 602.1,891.7 602.3,880.7 602.5,889.3 602.7,891.9 602.9,886.8 603.0,886.1 603.2,890.0 603.4,884.8 603.6,889.2 603.8,890.7 604.0,886.8 604.2,884.7 604.4,889.6 604.6,886.2 604.8,887.6 605.0,877.4 605.2,889.7 605.4,882.4 605.6,887.4 605.8,887.6 606.0,884.6 606.2,884.0 606.4,882.7 606.6,885.9 606.8,889.1 607.0,888.9 607.2,885.2 607.4,884.9 607.6,882.0 607.7,885.4 607.9,883.1 608.1,881.5 608.3,886.2 608.5,891.9 608.7,890.8 608.9,891.7 609.1,881.1 609.3,889.6 609.5,882.3 609.7,884.5 609.9,880.5 610.1,883.0 610.3,886.8 610.5,887.1 610.7,886.1 610.9,885.7 611.1,888.2 611.3,886.4 611.5,880.6 611.7,892.2 611.9,885.3 612.1,889.3 612.3,885.5 612.4,883.1 612.6,886.2 612.8,883.3 613.0,891.6 613.2,882.1 613.4,888.0 613.6,883.7 613.8,885.2 614.0,894.9 614.2,888.4 614.4,885.0 614.6,880.2 614.8,884.7 615.0,884.7 615.2,890.6 615.4,880.5 615.6,879.2 615.8,885.4 616.0,886.2 616.2,891.1 616.4,882.3 616.6,875.8 616.8,882.8 617.0,880.8 617.1,883.3 617.3,888.7 617.5,880.4 617.7,889.5 617.9,885.8 618.1,884.1 618.3,881.9 618.5,883.5 618.7,883.6 618.9,887.6 619.1,889.4 619.3,884.6 619.5,887.3 619.7,889.4 619.9,889.2 620.1,886.4 620.3,891.2 620.5,889.4 620.7,890.3 620.9,883.9 621.1,883.0 621.3,877.3 621.5,889.7 621.7,886.7 621.8,881.0 622.0,885.0 622.2,885.3 622.4,878.1 622.6,885.3 622.8,888.2 623.0,888.7 623.2,882.8 623.4,882.8 623.6,888.7 623.8,887.3 624.0,881.9 624.2,881.7 624.4,885.9 624.6,881.4 624.8,881.5 625.0,889.9 625.2,884.6 625.4,881.9 625.6,885.4 625.8,890.9 626.0,884.3 626.2,880.5 626.4,877.5 626.5,890.9 626.7,873.7 626.9,887.0 627.1,879.5 627.3,878.5 627.5,879.3 627.7,882.3 627.9,886.9 628.1,880.5 628.3,885.2 628.5,891.6 628.7,872.4 628.9,880.0 629.1,876.0 629.3,885.7 629.5,877.1 629.7,876.6 629.9,876.7 630.1,882.3 630.3,886.5 630.5,882.8 630.7,890.0 630.9,888.2 631.1,881.7 631.2,885.5 631.4,882.5 631.6,882.3 631.8,874.9 632.0,877.1 632.2,881.9 632.4,877.4 632.6,884.5 632.8,882.8 633.0,878.3 633.2,886.0 633.4,882.5 633.6,886.2 633.8,881.0 634.0,875.5 634.2,884.0 634.4,880.4 634.6,884.4 634.8,885.3 635.0,885.6 635.2,875.8 635.4,872.5 635.6,879.2 635.8,883.5 635.9,878.3 636.1,882.0 636.3,877.9 636.5,879.7 636.7,879.7 636.9,878.5 637.1,882.7 637.3,882.0 637.5,886.7 637.7,882.1 637.9,885.6 638.1,880.9 638.3,883.8 638.5,879.9 638.7,878.6 638.9,885.3 639.1,883.1 639.3,883.5 639.5,877.3 639.7,873.8 639.9,876.9 640.1,881.2 640.3,874.5 640.5,885.3 640.6,874.3 640.8,882.1 641.0,889.8 641.2,870.0 641.4,873.8 641.6,883.3 641.8,878.9 642.0,880.2 642.2,879.0 642.4,884.8 642.6,881.8 642.8,877.6 643.0,878.4 643.2,874.8 643.4,878.8 643.6,870.5 643.8,881.6 644.0,878.0 644.2,885.9 644.4,883.5 644.6,874.0 644.8,882.3 645.0,876.8 645.2,878.9 645.3,882.5 645.5,879.9 645.7,880.5 645.9,880.3 646.1,875.8 646.3,876.1 646.5,880.5 646.7,881.7 646.9,877.3 647.1,878.7 647.3,874.5 647.5,868.5 647.7,875.1 647.9,878.3 648.1,878.7 648.3,881.2 648.5,881.3 648.7,881.7 648.9,879.4 649.1,879.5 649.3,875.1 649.5,879.3 649.7,878.5 649.9,882.2 650.0,871.7 650.2,875.8 650.4,871.1 650.6,874.7 650.8,872.1 651.0,878.4 651.2,874.8 651.4,867.5 651.6,881.9 651.8,873.1 652.0,871.1 652.2,875.8 652.4,874.5 652.6,872.5 652.8,879.7 653.0,875.6 653.2,880.4 653.4,879.7 653.6,879.4 653.8,877.6 654.0,876.5 654.2,875.3 654.4,882.3 654.6,869.5 654.7,872.5 654.9,874.1 655.1,878.2 655.3,877.2 655.5,874.7 655.7,875.2 655.9,883.1 656.1,873.9 656.3,865.7 656.5,883.7 656.7,872.9 656.9,875.2 657.1,877.0 657.3,871.4 657.5,881.0 657.7,875.9 657.9,871.0 658.1,877.2 658.3,878.0 658.5,876.0 658.7,878.1 658.9,870.5 659.1,879.8 659.3,873.1 659.4,881.1 659.6,873.8 659.8,876.7 660.0,886.1 660.2,876.3 660.4,880.3 660.6,877.9 660.8,870.4 661.0,880.5 661.2,880.2 661.4,870.7 661.6,875.7 661.8,870.3 662.0,874.9 662.2,879.5 662.4,876.4 662.6,871.4 662.8,872.5 663.0,876.1 663.2,875.9 663.4,876.5 663.6,878.2 663.8,868.7 664.0,876.0 664.1,880.3 664.3,877.8 664.5,873.2 664.7,873.5 664.9,876.5 665.1,878.5 665.3,875.8 665.5,882.3 665.7,880.9 665.9,872.8 666.1,877.7 666.3,874.4 666.5,871.2 666.7,873.4 666.9,875.8 667.1,867.7 667.3,873.3 667.5,877.2 667.7,873.0 667.9,874.2 668.1,879.0 668.3,875.5 668.5,876.4 668.7,883.2 668.8,876.4 669.0,876.8 669.2,877.4 669.4,882.0 669.6,877.0 669.8,875.8 670.0,875.3 670.2,880.0 670.4,873.2 670.6,880.3 670.8,876.5 671.0,870.6 671.2,878.2 671.4,877.5 671.6,871.5 671.8,877.0 672.0,876.7 672.2,874.7 672.4,871.5 672.6,883.9 672.8,878.7 673.0,879.4 673.2,879.7 673.4,878.8 673.5,878.7 673.7,874.3 673.9,878.9 674.1,875.0 674.3,873.9 674.5,878.2 674.7,874.9 674.9,869.2 675.1,874.2 675.3,877.8 675.5,875.7 675.7,878.9 675.9,874.4 676.1,872.1 676.3,878.5 676.5,876.2 676.7,871.1 676.9,877.2 677.1,874.6 677.3,879.2 677.5,878.4 677.7,877.3 677.9,867.2 678.1,876.8 678.2,877.3 678.4,877.4 678.6,875.9 678.8,872.8 679.0,874.6 679.2,867.6 679.4,874.5 679.6,869.9 679.8,874.2 680.0,873.0 680.2,880.6 680.4,875.7 680.6,875.5 680.8,876.1 681.0,883.2 681.2,871.9 681.4,876.6 681.6,876.8 681.8,876.1 682.0,876.0 682.2,873.6 682.4,879.9 682.6,878.6 682.8,874.0 682.9,874.6 683.1,876.5 683.3,877.2 683.5,878.2 683.7,875.3 683.9,870.7 684.1,879.0 684.3,869.4 684.5,871.9 684.7,876.7 684.9,872.1 685.1,880.5 685.3,881.5 685.5,879.8 685.7,876.5 685.9,876.2 686.1,876.9 686.3,874.6 686.5,882.9 686.7,873.1 686.9,880.2 687.1,877.4 687.3,876.5 687.5,879.2 687.6,880.0 687.8,878.7 688.0,874.9 688.2,872.7 688.4,872.8 688.6,878.6 688.8,877.8 689.0,878.3 689.2,873.2 689.4,882.4 689.6,870.2 689.8,876.6 690.0,877.7 690.2,873.5 690.4,871.0 690.6,873.5 690.8,870.9 691.0,874.3 691.2,870.2 691.4,870.1 691.6,875.1 691.8,869.4 692.0,874.1 692.2,874.4 692.3,878.2 692.5,875.8 692.7,871.8 692.9,879.6 693.1,872.3 693.3,873.4 693.5,873.6 693.7,882.9 693.9,875.0 694.1,872.2 694.3,877.5 694.5,874.3 694.7,883.5 694.9,872.1 695.1,877.1 695.3,871.4 695.5,881.5 695.7,872.0 695.9,875.5 696.1,871.6 696.3,878.0 696.5,876.9 696.7,866.2 696.9,877.7 697.0,877.2 697.2,875.6 697.4,878.3 697.6,870.1 697.8,868.1 698.0,877.1 698.2,880.9 698.4,870.1 698.6,870.4 698.8,871.4 699.0,870.2 699.2,877.7 699.4,875.1 699.6,879.6 699.8,879.7 700.0,870.8 700.2,876.9 700.4,865.9 700.6,874.1 700.8,876.8 701.0,871.4 701.2,867.7 701.4,872.6 701.6,878.9 701.7,873.0 701.9,869.2 702.1,876.2 702.3,877.2 702.5,870.6 702.7,873.8 702.9,878.5 703.1,875.7 703.3,877.1 703.5,873.2 703.7,873.9 703.9,870.0 704.1,871.6 704.3,880.1 704.5,872.8 704.7,870.9 704.9,872.6 705.1,870.4 705.3,876.3 705.5,877.8 705.7,870.7 705.9,878.2 706.1,882.3 706.3,870.4 706.4,876.9 706.6,875.3 706.8,879.4 707.0,879.1 707.2,878.5 707.4,875.5 707.6,872.7 707.8,882.7 708.0,871.3 708.2,878.5 708.4,878.1 708.6,871.5 708.8,874.3 709.0,879.8 709.2,867.1 709.4,877.3 709.6,873.1 709.8,873.3 710.0,868.7 710.2,875.7 710.4,870.2 710.6,876.7 710.8,869.8 711.0,876.8 711.1,875.3 711.3,866.8 711.5,872.7 711.7,873.5 711.9,865.5 712.1,872.5 712.3,876.9 712.5,871.1 712.7,878.2 712.9,869.6 713.1,869.3 713.3,875.9 713.5,876.1 713.7,873.1 713.9,873.7 714.1,877.4 714.3,871.6 714.5,881.3 714.7,875.3 714.9,875.2 715.1,874.7 715.3,872.5 715.5,878.2 715.7,871.4 715.8,874.3 716.0,876.0 716.2,878.7 716.4,878.0 716.6,872.2 716.8,877.1 717.0,873.2 717.2,869.5 717.4,869.6 717.6,867.6 717.8,874.5 718.0,877.5 718.2,869.5 718.4,872.2 718.6,869.1 718.8,873.3 719.0,868.8 719.2,870.1 719.4,870.6 719.6,871.3 719.8,871.7 720.0,872.3 720.2,872.3 720.4,869.4 720.5,875.1 720.7,866.6 720.9,873.5 721.1,869.4 721.3,873.4 721.5,874.0 721.7,865.4 721.9,874.1 722.1,877.8 722.3,875.6 722.5,874.1 722.7,864.8 722.9,872.1 723.1,869.3 723.3,876.6 723.5,871.5 723.7,870.2 723.9,866.0 724.1,875.3 724.3,870.4 724.5,871.5 724.7,876.5 724.9,872.7 725.1,873.6 725.2,881.3 725.4,870.3 725.6,870.5 725.8,874.2 726.0,877.5 726.2,866.9 726.4,871.4 726.6,868.6 726.8,867.1 727.0,874.3 727.2,869.2 727.4,873.2 727.6,872.5 727.8,872.6 728.0,872.2 728.2,868.0 728.4,871.7 728.6,872.7 728.8,873.1 729.0,870.8 729.2,875.4 729.4,873.9 729.6,872.2 729.8,874.1 729.9,872.4 730.1,874.2 730.3,864.3 730.5,866.8 730.7,870.1 730.9,871.9 731.1,863.4 731.3,870.5 731.5,872.0 731.7,870.5 731.9,870.4 732.1,866.2 732.3,871.6 732.5,863.5 732.7,874.7 732.9,868.7 733.1,875.1 733.3,864.4 733.5,872.5 733.7,871.4 733.9,867.6 734.1,866.3 734.3,875.3 734.5,872.3 734.6,876.2 734.8,870.4 735.0,871.2 735.2,872.1 735.4,873.3 735.6,872.2 735.8,873.5 736.0,868.6 736.2,864.8 736.4,877.8 736.6,870.9 736.8,872.0 737.0,868.4 737.2,873.9 737.4,870.8 737.6,874.1 737.8,867.4 738.0,869.6 738.2,870.6 738.4,868.5 738.6,870.8 738.8,875.7 739.0,867.4 739.2,868.6 739.3,870.2 739.5,865.8 739.7,864.8 739.9,873.6 740.1,872.3 740.3,863.4 740.5,863.8 740.7,872.0 740.9,873.6 741.1,871.5 741.3,870.9 741.5,875.0 741.7,868.7 741.9,873.7 742.1,873.3 742.3,865.1 742.5,871.2 742.7,868.8 742.9,866.0 743.1,865.2 743.3,869.6 743.5,868.1 743.7,871.3 743.9,861.4 744.0,865.5 744.2,872.2 744.4,867.9 744.6,865.1 744.8,865.9 745.0,860.7 745.2,862.3 745.4,869.6 745.6,867.8 745.8,872.4 746.0,866.4 746.2,866.7 746.4,856.8 746.6,866.8 746.8,875.2 747.0,869.6 747.2,866.5 747.4,871.7 747.6,870.2 747.8,868.2 748.0,865.4 748.2,867.3 748.4,870.0 748.6,863.4 748.7,868.5 748.9,868.3 749.1,871.6 749.3,869.3 749.5,863.6 749.7,872.4 749.9,866.3 750.1,863.2 750.3,867.4 750.5,864.9 750.7,870.1 750.9,860.6 751.1,861.4 751.3,864.7 751.5,872.3 751.7,869.5 751.9,861.6 752.1,858.7 752.3,864.1 752.5,860.4 752.7,867.5 752.9,865.8 753.1,865.0 753.3,863.3 753.4,870.8 753.6,861.2 753.8,859.6 754.0,869.2 754.2,869.9 754.4,863.2 754.6,867.1 754.8,873.7 755.0,861.2 755.2,863.7 755.4,866.1 755.6,855.9 755.8,863.6 756.0,867.0 756.2,863.6 756.4,868.0 756.6,866.8 756.8,862.2 757.0,865.8 757.2,865.4 757.4,857.0 757.6,860.1 757.8,860.2 758.0,861.2 758.1,861.3 758.3,857.5 758.5,863.2 758.7,855.7 758.9,866.7 759.1,863.9 759.3,868.2 759.5,864.0 759.7,860.6 759.9,856.8 760.1,865.1 760.3,862.4 760.5,863.7 760.7,865.1 760.9,866.8 761.1,861.8 761.3,868.8 761.5,861.4 761.7,861.7 761.9,864.3 762.1,865.6 762.3,867.0 762.5,854.0 762.7,866.6 762.8,855.1 763.0,858.8 763.2,862.5 763.4,865.6 763.6,856.8 763.8,854.0 764.0,864.4 764.2,861.8 764.4,856.4 764.6,859.1 764.8,852.4 765.0,862.5 765.2,858.0 765.4,865.0 765.6,851.6 765.8,862.8 766.0,868.5 766.2,860.2 766.4,860.1 766.6,851.8 766.8,860.7 767.0,859.3 767.2,856.8 767.4,852.7 767.5,859.2 767.7,854.7 767.9,856.7 768.1,859.8 768.3,858.2 768.5,858.3 768.7,862.0 768.9,853.4 769.1,863.6 769.3,853.3 769.5,854.1 769.7,858.1 769.9,860.7 770.1,858.4 770.3,855.5 770.5,854.3 770.7,856.0 770.9,853.1 771.1,859.2 771.3,855.9 771.5,863.0 771.7,853.5 771.9,855.9 772.1,858.1 772.2,851.6 772.4,853.4 772.6,867.4 772.8,855.7 773.0,861.6 773.2,851.3 773.4,845.5 773.6,857.5 773.8,855.0 774.0,856.2 774.2,853.6 774.4,852.3 774.6,849.5 774.8,858.6 775.0,848.1 775.2,858.1 775.4,853.1 775.6,849.3 775.8,851.0 776.0,857.6 776.2,856.5 776.4,855.3 776.6,853.5 776.8,848.5 776.9,858.3 777.1,850.9 777.3,850.2 777.5,850.3 777.7,850.5 777.9,846.0 778.1,850.1 778.3,848.4 778.5,849.4 778.7,844.2 778.9,859.2 779.1,846.0 779.3,852.2 779.5,852.1 779.7,854.7 779.9,858.3 780.1,852.0 780.3,853.1 780.5,848.0 780.7,856.0 780.9,843.8 781.1,848.5 781.3,850.4 781.5,852.2 781.6,852.3 781.8,853.6 782.0,851.0 782.2,848.5 782.4,849.1 782.6,854.1 782.8,849.1 783.0,851.6 783.2,847.0 783.4,839.8 783.6,844.8 783.8,848.5 784.0,853.8 784.2,852.7 784.4,853.7 784.6,843.5 784.8,849.5 785.0,845.9 785.2,848.6 785.4,845.4 785.6,839.8 785.8,848.4 786.0,846.8 786.2,848.5 786.3,841.3 786.5,849.1 786.7,849.4 786.9,850.3 787.1,850.3 787.3,842.2 787.5,833.2 787.7,848.0 787.9,839.7 788.1,842.5 788.3,848.0 788.5,844.4 788.7,844.0 788.9,845.8 789.1,834.6 789.3,850.6 789.5,840.8 789.7,840.8 789.9,844.5 790.1,841.3 790.3,838.0 790.5,840.9 790.7,839.7 790.9,838.3 791.0,849.7 791.2,834.7 791.4,831.1 791.6,836.5 791.8,836.1 792.0,846.3 792.2,840.6 792.4,843.4 792.6,842.3 792.8,835.5 793.0,842.9 793.2,839.9 793.4,847.3 793.6,839.7 793.8,838.4 794.0,841.7 794.2,841.6 794.4,830.2 794.6,843.3 794.8,842.5 795.0,841.3 795.2,832.5 795.4,828.5 795.6,835.9 795.7,840.2 795.9,838.8 796.1,832.2 796.3,840.5 796.5,830.2 796.7,830.2 796.9,835.8 797.1,833.1 797.3,832.5 797.5,828.9 797.7,839.9 797.9,830.1 798.1,836.7 798.3,838.2 798.5,834.2 798.7,835.4 798.9,838.6 799.1,841.1 799.3,838.0 799.5,827.5 799.7,825.1 799.9,830.6 800.1,828.1 800.3,835.3 800.4,833.2 800.6,831.4 800.8,837.2 801.0,836.6 801.2,831.6 801.4,833.3 801.6,836.3 801.8,829.8 802.0,832.4 802.2,826.6 802.4,830.9 802.6,831.9 802.8,829.9 803.0,831.0 803.2,832.9 803.4,831.5 803.6,826.3 803.8,826.5 804.0,823.5 804.2,836.3 804.4,830.4 804.6,830.3 804.8,827.5 805.0,830.0 805.1,830.0 805.3,824.1 805.5,826.5 805.7,832.2 805.9,821.0 806.1,822.2 806.3,828.9 806.5,822.5 806.7,829.2 806.9,820.7 807.1,826.5 807.3,828.8 807.5,826.7 807.7,828.2 807.9,823.7 808.1,823.6 808.3,824.0 808.5,826.4 808.7,840.0 808.9,823.1 809.1,831.7 809.3,822.0 809.5,817.8 809.7,821.4 809.8,824.2 810.0,823.0 810.2,822.6 810.4,824.2 810.6,824.2 810.8,825.5 811.0,815.8 811.2,821.0 811.4,816.5 811.6,821.7 811.8,820.1 812.0,821.0 812.2,817.9 812.4,816.1 812.6,818.6 812.8,822.5 813.0,822.8 813.2,811.6 813.4,820.2 813.6,820.1 813.8,812.0 814.0,813.5 814.2,815.9 814.4,819.9 814.5,807.3 814.7,816.0 814.9,815.2 815.1,818.3 815.3,823.8 815.5,823.3 815.7,815.2 815.9,815.1 816.1,817.9 816.3,821.9 816.5,823.0 816.7,817.8 816.9,822.8 817.1,812.0 817.3,810.7 817.5,802.9 817.7,811.7 817.9,818.2 818.1,819.3 818.3,831.0 818.5,817.8 818.7,815.8 818.9,810.4 819.1,811.9 819.2,811.9 819.4,813.5 819.6,811.3 819.8,807.6 820.0,818.9 820.2,816.0 820.4,820.2 820.6,806.3 820.8,807.6 821.0,810.0 821.2,818.8 821.4,812.4 821.6,814.1 821.8,812.6 822.0,813.7 822.2,810.3 822.4,814.3 822.6,808.5 822.8,811.2 823.0,813.5 823.2,812.5 823.4,813.9 823.6,808.0 823.8,812.9 823.9,810.1 824.1,813.2 824.3,818.1 824.5,806.9 824.7,815.8 824.9,807.7 825.1,808.8 825.3,818.2 825.5,814.8 825.7,812.7 825.9,813.9 826.1,815.5 826.3,806.5 826.5,810.8 826.7,807.8 826.9,811.4 827.1,807.9 827.3,812.6 827.5,809.1 827.7,806.2 827.9,808.5 828.1,810.7 828.3,813.4 828.5,807.5 828.6,806.5 828.8,809.1 829.0,811.4 829.2,805.1 829.4,796.0 829.6,808.7 829.8,805.6 830.0,805.3 830.2,818.8 830.4,806.1 830.6,809.9 830.8,800.0 831.0,807.4 831.2,809.7 831.4,807.0 831.6,805.0 831.8,808.2 832.0,805.7 832.2,811.6 832.4,806.2 832.6,801.4 832.8,795.7 833.0,801.4 833.2,803.3 833.3,798.8 833.5,799.5 833.7,796.3 833.9,798.8 834.1,804.3 834.3,802.4 834.5,802.6 834.7,801.8 834.9,802.2 835.1,806.6 835.3,812.7 835.5,805.8 835.7,812.0 835.9,802.0 836.1,802.1 836.3,809.9 836.5,798.6 836.7,797.6 836.9,801.1 837.1,793.5 837.3,792.4 837.5,806.7 837.7,796.0 837.9,798.6 838.0,798.6 838.2,796.0 838.4,803.6 838.6,802.9 838.8,803.8 839.0,803.3 839.2,800.1 839.4,806.3 839.6,804.2 839.8,796.4 840.0,799.3 840.2,797.0 840.4,807.6 840.6,802.2 840.8,801.0 841.0,798.0 841.2,800.8 841.4,793.4 841.6,798.0 841.8,797.4 842.0,797.3 842.2,793.8 842.4,799.3 842.6,791.5 842.7,794.5 842.9,795.8 843.1,796.1 843.3,793.7 843.5,791.1 843.7,791.3 843.9,793.8 844.1,791.3 844.3,794.7 844.5,789.1 844.7,795.1 844.9,804.7 845.1,788.2 845.3,793.9 845.5,799.8 845.7,795.0 845.9,798.1 846.1,783.7 846.3,791.2 846.5,800.9 846.7,790.6 846.9,794.9 847.1,783.7 847.3,797.7 847.5,803.3 847.6,792.0 847.8,793.9 848.0,794.0 848.2,802.1 848.4,789.6 848.6,783.5 848.8,800.6 849.0,785.6 849.2,793.8 849.4,779.6 849.6,788.6 849.8,791.5 850.0,785.1 850.2,787.7 850.4,793.0 850.6,786.6 850.8,792.3 851.0,798.3 851.2,779.8 851.4,791.1 851.6,792.2 851.8,787.5 852.0,796.6 852.2,795.5 852.3,791.2 852.5,791.2 852.7,788.2 852.9,783.0 853.1,790.6 853.3,785.8 853.5,785.2 853.7,793.2 853.9,786.8 854.1,792.3 854.3,782.5 854.5,785.4 854.7,787.4 854.9,793.8 855.1,786.7 855.3,790.8 855.5,783.6 855.7,787.5 855.9,790.7 856.1,782.2 856.3,783.1 856.5,789.3 856.7,780.7 856.9,787.7 857.0,787.6 857.2,785.4 857.4,789.6 857.6,788.0 857.8,786.5 858.0,778.1 858.2,778.2 858.4,786.6 858.6,777.4 858.8,785.4 859.0,783.2 859.2,780.7 859.4,783.5 859.6,773.0 859.8,783.5 860.0,790.4 860.2,778.1 860.4,786.4 860.6,785.8 860.8,798.8 861.0,779.2 861.2,780.1 861.4,780.1 861.6,779.1 861.7,775.5 861.9,784.0 862.1,779.1 862.3,787.2 862.5,785.2 862.7,778.3 862.9,781.5 863.1,789.8 863.3,781.5 863.5,784.1 863.7,787.2 863.9,781.0 864.1,785.0 864.3,790.7 864.5,788.4 864.7,774.2 864.9,790.3 865.1,781.7 865.3,779.8 865.5,779.7 865.7,788.8 865.9,784.3 866.1,782.0 866.3,778.8 866.4,785.9 866.6,788.4 866.8,777.8 867.0,777.3 867.2,780.9 867.4,785.7 867.6,780.7 867.8,782.2 868.0,778.6 868.2,788.8 868.4,782.1 868.6,783.5 868.8,788.1 869.0,781.6 869.2,782.5 869.4,784.7 869.6,780.8 869.8,789.6 870.0,783.0 870.2,780.6 870.4,781.3 870.6,777.4 870.8,788.6 871.0,790.1 871.1,781.5 871.3,780.5 871.5,772.3 871.7,779.7 871.9,787.0 872.1,778.7 872.3,786.8 872.5,790.0 872.7,769.9 872.9,781.1 873.1,779.2 873.3,779.9 873.5,773.8 873.7,781.3 873.9,776.7 874.1,787.7 874.3,789.5 874.5,775.7 874.7,775.5 874.9,780.2 875.1,781.6 875.3,781.9 875.5,786.1 875.7,775.2 875.8,779.5 876.0,780.2 876.2,780.8 876.4,777.6 876.6,780.2 876.8,779.0 877.0,788.4 877.2,780.2 877.4,772.0 877.6,785.2 877.8,783.3 878.0,778.3 878.2,778.0 878.4,779.6 878.6,790.6 878.8,780.2 879.0,788.5 879.2,786.7 879.4,780.0 879.6,784.1 879.8,778.7 880.0,767.3 880.2,778.9 880.4,779.2 880.5,787.1 880.7,785.8 880.9,787.9 881.1,785.3 881.3,788.1 881.5,786.0 881.7,783.8 881.9,787.7 882.1,789.7 882.3,789.5 882.5,780.6 882.7,782.5 882.9,777.8 883.1,777.8 883.3,784.6 883.5,779.6 883.7,790.0 883.9,771.8 884.1,777.2 884.3,784.1 884.5,788.8 884.7,781.2 884.9,792.3 885.1,787.0 885.2,779.5 885.4,782.9 885.6,785.7 885.8,778.7 886.0,788.4 886.2,782.0 886.4,785.9 886.6,787.6 886.8,781.3 887.0,788.4 887.2,774.3 887.4,786.5 887.6,774.0 887.8,789.1 888.0,780.9 888.2,789.7 888.4,790.5 888.6,783.2 888.8,780.7 889.0,790.3 889.2,778.3 889.4,788.1 889.6,783.6 889.8,782.4 889.9,781.4 890.1,793.2 890.3,776.6 890.5,781.8 890.7,786.7 890.9,789.6 891.1,793.0 891.3,791.4 891.5,782.1 891.7,786.5 891.9,790.4 892.1,787.6 892.3,777.4 892.5,786.7 892.7,788.0 892.9,778.6 893.1,783.0 893.3,785.1 893.5,788.4 893.7,793.0 893.9,791.2 894.1,787.9 894.3,786.7 894.5,784.0 894.6,783.1 894.8,784.8 895.0,784.9 895.2,790.9 895.4,796.6 895.6,788.8 895.8,790.9 896.0,789.6 896.2,787.8 896.4,792.6 896.6,792.1 896.8,787.3 897.0,786.3 897.2,790.2 897.4,784.7 897.6,788.3 897.8,792.3 898.0,787.2 898.2,778.4 898.4,790.9 898.6,782.1 898.8,781.2 899.0,780.8 899.2,792.1 899.3,778.5 899.5,787.8 899.7,789.8 899.9,789.8 900.1,785.9 900.3,788.7 900.5,789.9 900.7,783.0 900.9,792.8 901.1,794.5 901.3,785.7 901.5,786.3 901.7,784.6 901.9,795.1 902.1,784.9 902.3,787.9 902.5,781.9 902.7,796.5 902.9,789.6 903.1,792.1 903.3,798.6 903.5,794.5 903.7,785.8 903.9,793.6 904.0,795.0 904.2,787.5 904.4,787.0 904.6,787.2 904.8,795.8 905.0,792.5 905.2,787.4 905.4,795.6 905.6,796.2 905.8,788.8 906.0,785.4 906.2,798.5 906.4,805.6 906.6,800.2 906.8,798.3 907.0,794.2 907.2,790.7 907.4,794.5 907.6,797.3 907.8,793.3 908.0,798.8 908.2,794.6 908.4,797.6 908.6,781.8 908.7,790.9 908.9,798.9 909.1,799.8 909.3,797.3 909.5,803.2 909.7,798.9 909.9,799.1 910.1,791.5 910.3,797.9 910.5,799.8 910.7,802.6 910.9,801.9 911.1,796.8 911.3,797.6 911.5,791.4 911.7,799.9 911.9,792.0 912.1,796.0 912.3,797.4 912.5,807.0 912.7,803.8 912.9,794.3 913.1,791.3 913.3,797.1 913.4,794.6 913.6,800.3 913.8,800.3 914.0,801.8 914.2,794.2 914.4,797.4 914.6,800.3 914.8,800.9 915.0,796.8 915.2,798.1 915.4,803.7 915.6,791.8 915.8,798.9 916.0,800.2 916.2,793.5 916.4,795.8 916.6,801.2 916.8,798.4 917.0,806.1 917.2,804.3 917.4,812.0 917.6,795.8 917.8,810.7 918.0,798.7 918.1,806.0 918.3,806.8 918.5,803.3 918.7,801.3 918.9,799.8 919.1,794.6 919.3,801.4 919.5,799.1 919.7,806.2 919.9,800.2 920.1,803.0 920.3,806.1 920.5,804.5 920.7,804.5 920.9,803.5 921.1,802.7 921.3,807.2 921.5,808.4 921.7,801.6 921.9,813.2 922.1,808.4 922.3,798.4 922.5,818.5 922.7,809.3 922.8,803.0 923.0,814.1 923.2,794.5 923.4,818.8 923.6,800.3 923.8,800.0 924.0,803.1 924.2,808.6 924.4,806.1 924.6,812.1 924.8,804.4 925.0,813.6 925.2,809.8 925.4,804.2 925.6,814.1 925.8,810.8 926.0,808.6 926.2,815.8 926.4,804.4 926.6,808.4 926.8,817.2 927.0,810.6 927.2,814.2 927.4,813.8 927.5,810.6 927.7,814.5 927.9,807.0 928.1,814.8 928.3,807.3 928.5,812.2 928.7,808.3 928.9,814.9 929.1,814.9 929.3,818.1 929.5,810.4 929.7,809.0 929.9,803.8 930.1,807.8 930.3,812.7 930.5,815.0 930.7,812.5 930.9,814.6 931.1,808.0 931.3,810.6 931.5,818.9 931.7,818.4 931.9,809.3 932.1,814.3 932.2,817.0 932.4,810.7 932.6,818.1 932.8,817.8 933.0,818.8 933.2,825.8 933.4,813.2 933.6,822.8 933.8,820.1 934.0,821.1 934.2,814.6 934.4,818.4 934.6,818.2 934.8,826.1 935.0,819.1 935.2,825.5 935.4,817.7 935.6,817.6 935.8,819.6 936.0,810.5 936.2,817.5 936.4,817.4 936.6,819.7 936.8,821.4 936.9,816.4 937.1,816.0 937.3,826.9 937.5,816.6 937.7,819.2 937.9,817.4 938.1,819.8 938.3,827.7 938.5,827.6 938.7,814.4 938.9,821.6 939.1,829.3 939.3,821.6 939.5,825.0 939.7,831.8 939.9,833.9 940.1,831.1 940.3,822.9 940.5,824.6 940.7,825.7 940.9,823.5 941.1,822.3 941.3,834.5 941.5,826.7 941.6,829.2 941.8,831.2 942.0,828.4 942.2,826.7 942.4,827.5 942.6,833.0 942.8,828.9 943.0,818.0 943.2,831.8 943.4,834.8 943.6,826.3 943.8,825.1 944.0,825.9 944.2,833.0 944.4,823.9 944.6,831.9 944.8,833.6 945.0,831.5 945.2,829.5 945.4,826.1 945.6,826.7 945.8,829.7 946.0,825.7 946.2,829.6 946.3,826.2 946.5,836.4 946.7,837.4 946.9,827.3 947.1,836.9 947.3,832.3 947.5,831.6 947.7,833.5 947.9,833.5 948.1,825.6 948.3,842.9 948.5,828.2 948.7,822.2 948.9,832.3 949.1,832.6 949.3,829.5 949.5,824.9 949.7,838.2 949.9,832.8 950.1,834.1 950.3,831.1 950.5,833.0 950.7,831.0 950.9,835.8 951.0,833.9 951.2,837.2 951.4,837.3 951.6,835.2 951.8,835.4 952.0,840.0 952.2,828.3 952.4,835.8 952.6,841.3 952.8,830.8 953.0,838.9 953.2,833.7 953.4,836.1 953.6,835.1 953.8,835.6 954.0,838.9 954.2,836.4 954.4,828.0 954.6,846.5 954.8,836.8 955.0,835.3 955.2,841.9 955.4,843.4 955.6,828.4 955.7,839.4 955.9,829.1 956.1,835.8 956.3,837.9 956.5,836.4 956.7,835.9 956.9,833.7 957.1,837.0 957.3,838.4 957.5,838.4 957.7,833.6 957.9,836.0 958.1,843.9 958.3,842.5 958.5,838.5 958.7,842.7 958.9,841.8 959.1,844.5 959.3,841.7 959.5,838.9 959.7,836.6 959.9,841.0 960.1,832.4 960.3,841.7 960.4,828.0 960.6,837.4 960.8,839.7 961.0,844.1 961.2,854.1 961.4,842.9 961.6,841.7 961.8,834.5 962.0,848.6 962.2,834.9 962.4,844.2 962.6,840.2 962.8,854.1 963.0,843.0 963.2,845.2 963.4,841.0 963.6,843.7 963.8,849.0 964.0,840.4 964.2,841.7 964.4,842.2 964.6,840.7 964.8,840.5 965.0,845.3 965.1,851.1 965.3,851.3 965.5,840.1 965.7,842.9 965.9,845.6 966.1,848.0 966.3,846.3 966.5,846.4 966.7,848.1 966.9,849.8 967.1,838.0 967.3,846.3 967.5,849.9 967.7,852.9 967.9,850.7 968.1,844.9 968.3,844.9 968.5,849.1 968.7,848.1 968.9,849.8 969.1,853.2 969.3,843.4 969.5,847.4 969.7,838.9 969.8,852.4 970.0,850.0 970.2,846.0 970.4,850.8 970.6,855.6 970.8,854.0 971.0,849.8 971.2,848.9 971.4,850.9 971.6,846.5 971.8,846.7 972.0,849.6 972.2,851.0 972.4,852.3 972.6,849.1 972.8,847.8 973.0,851.4 973.2,850.0 973.4,853.3 973.6,857.8 973.8,856.3 974.0,849.2 974.2,850.7 974.4,846.1 974.5,852.5 974.7,849.4 974.9,847.6 975.1,849.1 975.3,855.7 975.5,854.1 975.7,853.0 975.9,857.7 976.1,851.8 976.3,849.7 976.5,856.0 976.7,846.1 976.9,855.4 977.1,855.2 977.3,855.5 977.5,857.5 977.7,853.1 977.9,854.8 978.1,848.3 978.3,852.7 978.5,853.1 978.7,856.2 978.9,861.2 979.1,856.0 979.2,859.1 979.4,852.0 979.6,856.1 979.8,849.3 980.0,853.2 980.2,852.9 980.4,855.5 980.6,855.7 980.8,854.0 981.0,853.0 981.2,859.7 981.4,855.0 981.6,846.6 981.8,857.6 982.0,858.3 982.2,860.2 982.4,863.3 982.6,852.9 982.8,857.5 983.0,856.7 983.2,850.6 983.4,848.1 983.6,861.8 983.8,854.1 983.9,855.9 984.1,857.0 984.3,856.7 984.5,858.9 984.7,852.5 984.9,856.5 985.1,857.7 985.3,854.2 985.5,855.7 985.7,857.6 985.9,858.2 986.1,852.7 986.3,857.7 986.5,860.2 986.7,863.4 986.9,861.5 987.1,864.4 987.3,859.9 987.5,859.4 987.7,868.7 987.9,860.6 988.1,858.2 988.3,860.2 988.5,864.8 988.6,856.1 988.8,864.0 989.0,866.2 989.2,865.8 989.4,861.7 989.6,857.9 989.8,857.3 990.0,861.1 990.2,866.8 990.4,864.8 990.6,865.9 990.8,863.1 991.0,869.5 991.2,862.2 991.4,860.3 991.6,863.5 991.8,861.2 992.0,866.8 992.2,869.0 992.4,865.9 992.6,859.0 992.8,859.6 993.0,865.5 993.2,859.1 993.3,865.2 993.5,858.2 993.7,862.3 993.9,866.1 994.1,861.3 994.3,867.6 994.5,868.3 994.7,870.4 994.9,863.9 995.1,865.2 995.3,865.4 995.5,866.8 995.7,859.7 995.9,867.0 996.1,868.3 996.3,860.8 996.5,860.2 996.7,864.5 996.9,872.6 997.1,868.3 997.3,863.7 997.5,866.1 997.7,860.3 997.9,871.7 998.0,863.8 998.2,869.0 998.4,861.5 998.6,867.0 998.8,862.8 999.0,869.4 999.2,872.4 999.4,871.3 999.6,869.5 999.8,871.1 1000.0,862.6 1000.2,862.2 1000.4,866.4 1000.6,871.5 1000.8,868.0 1001.0,870.3 1001.2,862.1 1001.4,866.6 1001.6,866.0 1001.8,869.4 1002.0,875.7 1002.2,871.0 1002.4,872.4 1002.6,866.8 1002.7,867.9 1002.9,871.4 1003.1,869.9 1003.3,862.4 1003.5,872.2 1003.7,872.1 1003.9,869.5 1004.1,871.4 1004.3,870.4 1004.5,866.8 1004.7,862.2 1004.9,875.7 1005.1,869.1 1005.3,868.9 1005.5,869.4 1005.7,869.9 1005.9,870.5 1006.1,865.4 1006.3,871.1 1006.5,869.9 1006.7,869.4 1006.9,869.1 1007.1,870.2 1007.3,865.8 1007.4,869.7 1007.6,869.1 1007.8,870.0 1008.0,873.7 1008.2,873.1 1008.4,874.0 1008.6,869.3 1008.8,872.8 1009.0,874.2 1009.2,869.3 1009.4,868.2 1009.6,877.0 1009.8,863.9 1010.0,870.3 1010.2,870.9 1010.4,866.5 1010.6,870.3 1010.8,872.9 1011.0,862.3 1011.2,874.8 1011.4,871.2 1011.6,867.6 1011.8,875.0 1012.0,871.4 1012.1,869.6 1012.3,862.0 1012.5,874.5 1012.7,871.4 1012.9,868.8 1013.1,871.0 1013.3,875.9 1013.5,869.9 1013.7,871.1 1013.9,869.9 1014.1,867.4 1014.3,867.9 1014.5,870.2 1014.7,870.6 1014.9,876.0 1015.1,872.5 1015.3,871.2 1015.5,873.6 1015.7,871.8 1015.9,875.3 1016.1,866.5 1016.3,864.2 1016.5,873.9 1016.7,870.9 1016.8,873.4 1017.0,867.8 1017.2,871.0 1017.4,872.4 1017.6,873.6 1017.8,872.4 1018.0,876.7 1018.2,870.4 1018.4,875.7 1018.6,871.1 1018.8,872.7 1019.0,869.1 1019.2,873.4 1019.4,869.5 1019.6,876.9 1019.8,871.2 1020.0,874.4 1020.2,872.9 1020.4,873.4 1020.6,870.3 1020.8,881.4 1021.0,872.7 1021.2,879.6 1021.4,869.5 1021.5,881.5 1021.7,877.9 1021.9,880.5 1022.1,868.2 1022.3,879.2 1022.5,874.0 1022.7,876.5 1022.9,881.3 1023.1,875.9 1023.3,872.3 1023.5,875.5 1023.7,871.4 1023.9,876.3 1024.1,875.0 1024.3,876.5 1024.5,873.8 1024.7,868.1 1024.9,873.9 1025.1,874.6 1025.3,877.7 1025.5,878.3 1025.7,870.1 1025.9,879.7 1026.1,879.1 1026.2,876.1 1026.4,877.4 1026.6,868.6 1026.8,884.7 1027.0,874.7 1027.2,873.4 1027.4,880.3 1027.6,878.6 1027.8,874.7 1028.0,870.3 1028.2,879.8 1028.4,882.3 1028.6,873.0 1028.8,871.0 1029.0,877.9 1029.2,884.9 1029.4,871.5 1029.6,877.6 1029.8,872.8 1030.0,877.2 1030.2,878.5 1030.4,878.8 1030.6,871.8 1030.8,872.0 1030.9,885.2 1031.1,880.8 1031.3,870.9 1031.5,878.9 1031.7,882.6 1031.9,877.6 1032.1,878.1 1032.3,878.1 1032.5,879.6 1032.7,879.1 1032.9,879.7 1033.1,876.8 1033.3,881.1 1033.5,879.2 1033.7,878.8 1033.9,873.5 1034.1,877.0 1034.3,878.8 1034.5,876.5 1034.7,877.1 1034.9,874.6 1035.1,876.8 1035.3,872.2 1035.5,873.9 1035.6,879.0 1035.8,880.4 1036.0,875.7 1036.2,877.1 1036.4,879.4 1036.6,884.5 1036.8,885.9 1037.0,878.0 1037.2,876.5 1037.4,876.5 1037.6,884.1 1037.8,875.7 1038.0,881.5 1038.2,878.2 1038.4,878.2 1038.6,882.6 1038.8,881.9 1039.0,887.4 1039.2,883.2 1039.4,886.5 1039.6,878.4 1039.8,879.8 1040.0,876.8 1040.2,878.9 1040.3,882.5 1040.5,879.0 1040.7,881.7 1040.9,878.2 1041.1,879.3 1041.3,884.1 1041.5,880.5 1041.7,880.4 1041.9,881.7 1042.1,877.4 1042.3,874.5 1042.5,882.1 1042.7,882.1 1042.9,889.0 1043.1,881.4 1043.3,882.5 1043.5,888.8 1043.7,880.0 1043.9,879.0 1044.1,883.8 1044.3,882.5 1044.5,884.7 1044.7,878.5 1044.9,886.8 1045.0,882.5 1045.2,874.4 1045.4,881.3 1045.6,879.8 1045.8,882.1 1046.0,885.8 1046.2,881.7 1046.4,880.2 1046.6,885.4 1046.8,880.5 1047.0,877.3 1047.2,878.0 1047.4,887.6 1047.6,885.4 1047.8,887.7 1048.0,878.1 1048.2,879.8 1048.4,879.5 1048.6,885.2 1048.8,886.3 1049.0,881.9 1049.2,881.8 1049.4,885.3 1049.6,881.8 1049.7,880.0 1049.9,881.5 1050.1,886.1 1050.3,890.0 1050.5,883.4 1050.7,881.9 1050.9,883.5 1051.1,884.1 1051.3,885.1 1051.5,880.1 1051.7,882.9 1051.9,882.3 1052.1,886.2 1052.3,885.0 1052.5,882.2 1052.7,886.4 1052.9,887.4 1053.1,884.1 1053.3,878.7 1053.5,882.3 1053.7,877.8 1053.9,883.5 1054.1,884.2 1054.3,888.1 1054.4,885.2 1054.6,878.1 1054.8,882.1 1055.0,880.6 1055.2,880.8 1055.4,883.4 1055.6,884.1 1055.8,883.0 1056.0,881.0 1056.2,881.8 1056.4,881.7 1056.6,883.0 1056.8,886.3 1057.0,884.5 1057.2,887.0 1057.4,880.1 1057.6,891.2 1057.8,884.5 1058.0,875.2 1058.2,885.0 1058.4,887.8 1058.6,883.9 1058.8,879.3 1059.0,884.5 1059.1,881.7 1059.3,883.6 1059.5,885.3 1059.7,872.8 1059.9,883.8 1060.1,886.0 1060.3,885.8 1060.5,882.8 1060.7,882.7 1060.9,881.4 1061.1,883.7 1061.3,889.3 1061.5,882.4 1061.7,885.4 1061.9,885.3 1062.1,889.6 1062.3,886.4 1062.5,887.0 1062.7,884.6 1062.9,889.6 1063.1,884.3 1063.3,884.1 1063.5,888.5 1063.7,886.8 1063.8,887.7 1064.0,881.4 1064.2,893.6 1064.4,885.9 1064.6,890.6 1064.8,886.3 1065.0,881.8 1065.2,887.0 1065.4,884.3 1065.6,887.8 1065.8,878.0 1066.0,881.7 1066.2,881.0 1066.4,889.7 1066.6,888.9 1066.8,881.2 1067.0,885.7 1067.2,886.0 1067.4,883.9 1067.6,889.6 1067.8,882.4 1068.0,885.1 1068.2,883.5 1068.4,887.6 1068.5,883.4 1068.7,887.8 1068.9,881.9 1069.1,881.4 1069.3,882.1 1069.5,883.6 1069.7,883.2 1069.9,895.0 1070.1,882.5 1070.3,886.5 1070.5,885.2 1070.7,886.5 1070.9,890.5 1071.1,887.5 1071.3,883.3 1071.5,880.6 1071.7,887.9 1071.9,888.9 1072.1,880.6 1072.3,888.8 1072.5,878.5 1072.7,885.6 1072.9,888.9 1073.1,882.4 1073.2,879.9 1073.4,890.9 1073.6,880.4 1073.8,886.9 1074.0,880.7 1074.2,887.3 1074.4,891.5 1074.6,884.3 1074.8,882.8 1075.0,878.7 1075.2,880.1 1075.4,883.7 1075.6,887.0 1075.8,888.0 1076.0,887.2 1076.2,889.1 1076.4,887.2 1076.6,895.2 1076.8,885.7 1077.0,886.4 1077.2,877.3 1077.4,883.7 1077.6,888.1 1077.8,884.4 1077.9,890.7 1078.1,888.6 1078.3,893.0 1078.5,881.5 1078.7,884.5 1078.9,890.7 1079.1,886.8 1079.3,883.3 1079.5,884.9 1079.7,885.3 1079.9,889.7 1080.1,888.9 1080.3,886.4 1080.5,883.5 1080.7,889.7 1080.9,890.7 1081.1,882.8 1081.3,890.1 1081.5,883.1 1081.7,886.0 1081.9,883.8 1082.1,880.8 1082.3,884.5 1082.5,884.3 1082.6,890.2 1082.8,889.4 1083.0,884.8 1083.2,881.7 1083.4,882.2 1083.6,879.0 1083.8,886.0 1084.0,886.4 1084.2,883.7 1084.4,887.1 1084.6,887.4 1084.8,890.9 1085.0,883.8 1085.2,891.0 1085.4,885.5 1085.6,892.3 1085.8,883.5 1086.0,890.9 1086.2,884.4 1086.4,892.9 1086.6,888.9 1086.8,883.3 1087.0,890.3 1087.2,887.2 1087.3,889.2 1087.5,895.5 1087.7,886.5 1087.9,886.0 1088.1,891.4 1088.3,885.6 1088.5,890.4 1088.7,891.1 1088.9,887.6 1089.1,890.0 1089.3,879.7 1089.5,893.1 1089.7,885.1 1089.9,884.3 1090.1,894.6 1090.3,893.8 1090.5,885.8 1090.7,889.5 1090.9,886.5 1091.1,883.9 1091.3,889.2 1091.5,891.6 1091.7,897.4 1091.9,887.2 1092.0,891.2 1092.2,886.9 1092.4,887.2 1092.6,892.8 1092.8,882.0 1093.0,884.3 1093.2,885.1 1093.4,892.2 1093.6,889.5 1093.8,890.0 1094.0,889.6 1094.2,892.0 1094.4,886.6 1094.6,887.4 1094.8,886.9 1095.0,890.0 1095.2,883.7 1095.4,887.6 1095.6,897.7 1095.8,890.5 1096.0,888.5 1096.2,885.0 1096.4,889.4 1096.6,889.2 1096.7,890.7 1096.9,886.1 1097.1,890.0 1097.3,890.5 1097.5,891.0 1097.7,886.5 1097.9,890.3 1098.1,894.3 1098.3,886.4 1098.5,891.0 1098.7,887.3 1098.9,887.3 1099.1,884.4 1099.3,885.0 1099.5,890.6 1099.7,889.2 1099.9,893.1 1100.1,882.9 1100.3,887.2 1100.5,883.9 1100.7,889.8 1100.9,895.8 1101.1,883.5 1101.3,888.5 1101.4,888.3 1101.6,888.6 1101.8,886.6 1102.0,887.0 1102.2,894.4 1102.4,885.1 1102.6,890.7 1102.8,890.5 1103.0,883.0 1103.2,885.8 1103.4,890.1 1103.6,895.4 1103.8,888.5 1104.0,887.2 1104.2,889.3 1104.4,893.4 1104.6,891.8 1104.8,893.4 1105.0,888.4 1105.2,886.3 1105.4,885.6 1105.6,891.7 1105.8,888.4 1106.0,887.3 1106.1,891.0 1106.3,889.8 1106.5,882.0 1106.7,888.6 1106.9,886.3 1107.1,890.8 1107.3,889.2 1107.5,895.3 1107.7,889.5 1107.9,885.3 1108.1,882.2 1108.3,885.4 1108.5,887.1 1108.7,889.3 1108.9,891.6 1109.1,890.1 1109.3,887.5 1109.5,892.3 1109.7,886.4 1109.9,893.0 1110.1,895.8 1110.3,893.2 1110.5,895.4 1110.7,894.4 1110.8,885.9 1111.0,890.5 1111.2,889.0 1111.4,885.8 1111.6,885.5 1111.8,891.6 1112.0,885.3 1112.2,888.6 1112.4,889.9 1112.6,888.4 1112.8,894.9 1113.0,892.7 1113.2,890.4 1113.4,888.0 1113.6,891.3 1113.8,890.5 1114.0,886.8 1114.2,885.3 1114.4,887.5 1114.6,885.8 1114.8,891.6 1115.0,891.3 1115.2,889.2 1115.4,891.3 1115.5,892.0 1115.7,884.7 1115.9,891.1 1116.1,893.7 1116.3,888.7 1116.5,884.2 1116.7,890.2 1116.9,886.3 1117.1,892.0 1117.3,892.2 1117.5,892.9 1117.7,891.1 1117.9,884.4 1118.1,894.6 1118.3,885.1 1118.5,894.2 1118.7,891.5 1118.9,887.9 1119.1,888.6 1119.3,889.9 1119.5,896.5 1119.7,889.6 1119.9,894.4 1120.1,882.2 1120.2,891.7 1120.4,890.4 1120.6,894.9 1120.8,892.7 1121.0,895.5 1121.2,887.8 1121.4,892.0 1121.6,889.3 1121.8,893.5 1122.0,892.9 1122.2,886.9 1122.4,894.6 1122.6,897.4 1122.8,890.0 1123.0,895.3 1123.2,892.9 1123.4,888.3 1123.6,894.3 1123.8,888.5 1124.0,893.8 1124.2,886.5 1124.4,887.1 1124.6,893.2 1124.8,892.4 1124.9,894.5 1125.1,891.0 1125.3,887.9 1125.5,896.7 1125.7,888.7 1125.9,896.3 1126.1,894.8 1126.3,898.0 1126.5,884.8 1126.7,891.8 1126.9,891.2 1127.1,894.3 1127.3,888.5 1127.5,899.2 1127.7,892.0 1127.9,884.7 1128.1,893.5 1128.3,892.2 1128.5,890.0 1128.7,895.0 1128.9,892.2 1129.1,889.1 1129.3,891.7 1129.5,891.2 1129.6,893.6 1129.8,891.4 1130.0,892.3 1130.2,887.6 1130.4,890.1 1130.6,893.4 1130.8,900.9 1131.0,890.2 1131.2,890.1 1131.4,895.8 1131.6,899.5 1131.8,896.6 1132.0,889.7 1132.2,896.4 1132.4,894.4 1132.6,892.2 1132.8,888.8 1133.0,893.0 1133.2,893.3 1133.4,894.9 1133.6,887.6 1133.8,889.5 1134.0,893.4 1134.2,897.8 1134.3,895.8 1134.5,891.3 1134.7,895.7 1134.9,890.3 1135.1,892.1 1135.3,892.4 1135.5,891.2 1135.7,891.7 1135.9,896.3 1136.1,894.6 1136.3,885.7 1136.5,897.6 1136.7,895.1 1136.9,890.0 1137.1,894.2 1137.3,896.4 1137.5,898.1 1137.7,891.9 1137.9,890.3 1138.1,889.1 1138.3,893.6 1138.5,890.3 1138.7,897.3 1138.9,893.3 1139.0,896.2 1139.2,893.4 1139.4,891.5 1139.6,890.4 1139.8,897.3 1140.0,889.8 1140.2,895.7 1140.4,897.5 1140.6,894.7 1140.8,899.1 1141.0,894.2 1141.2,893.3 1141.4,894.9 1141.6,892.5 1141.8,895.4 1142.0,894.3 1142.2,899.2 1142.4,894.3 1142.6,897.3 1142.8,896.0 1143.0,894.8 1143.2,893.9 1143.4,900.0 1143.6,899.8 1143.7,895.6 1143.9,893.0 1144.1,893.4 1144.3,891.7 1144.5,890.4 1144.7,893.1 1144.9,894.8 1145.1,898.2 1145.3,897.9 1145.5,896.4 1145.7,894.0 1145.9,894.1 1146.1,894.9 1146.3,895.4 1146.5,892.8 1146.7,894.3 1146.9,894.0 1147.1,894.0 1147.3,896.8 1147.5,898.5 1147.7,893.5 1147.9,893.7 1148.1,895.9 1148.3,896.5 1148.4,887.6 1148.6,897.7 1148.8,895.9 1149.0,894.4 1149.2,899.1 1149.4,894.9 1149.6,889.4 1149.8,892.2 1150.0,893.3 1150.2,893.4 1150.4,895.0 1150.6,892.2 1150.8,895.9 1151.0,896.9 1151.2,895.1 1151.4,892.5 1151.6,894.4 1151.8,893.3 1152.0,902.2 1152.2,891.7 1152.4,887.9 1152.6,891.2 1152.8,896.7 1153.0,898.5 1153.1,894.8 1153.3,899.0 1153.5,893.3 1153.7,897.5 1153.9,892.6 1154.1,891.3 1154.3,902.5 1154.5,894.9 1154.7,898.2 1154.9,900.5 1155.1,897.9 1155.3,896.6 1155.5,892.5 1155.7,901.0 1155.9,892.5 1156.1,889.4 1156.3,894.1 1156.5,894.2 1156.7,896.1 1156.9,899.9 1157.1,894.3 1157.3,894.9 1157.5,893.7 1157.7,887.7 1157.8,893.8 1158.0,894.8 1158.2,891.1 1158.4,900.7 1158.6,900.0 1158.8,897.5 1159.0,898.4 1159.2,894.0 1159.4,897.4 1159.6,890.6 1159.8,891.4 1160.0,893.9 1160.2,897.7 1160.4,894.4 1160.6,893.8 1160.8,900.0 1161.0,895.3 1161.2,894.2 1161.4,895.8 1161.6,891.4 1161.8,892.6 1162.0,899.3 1162.2,896.2 1162.4,899.4 1162.5,894.7 1162.7,899.5 1162.9,893.7 1163.1,895.4 1163.3,893.5 1163.5,897.2 1163.7,901.5 1163.9,891.0 1164.1,897.4 1164.3,892.3 1164.5,895.4 1164.7,894.6 1164.9,890.9 1165.1,895.8 1165.3,892.3 1165.5,901.8 1165.7,894.1 1165.9,897.7 1166.1,897.4 1166.3,897.0 1166.5,895.9 1166.7,891.6 1166.9,903.1 1167.1,896.9 1167.2,899.4 1167.4,893.3 1167.6,898.5 1167.8,895.7 1168.0,898.5 1168.2,895.0 1168.4,893.9 1168.6,898.5 1168.8,897.1 1169.0,901.9 1169.2,896.3 1169.4,894.5 1169.6,899.1 1169.8,893.7 1170.0,904.1 1170.2,903.4 1170.4,901.9 1170.6,899.0 1170.8,897.4 1171.0,897.7 1171.2,897.7 1171.4,895.1 1171.6,899.0 1171.8,901.6 1171.9,901.6 1172.1,890.7 1172.3,905.2 1172.5,898.2 1172.7,892.9 1172.9,896.1 1173.1,900.3 1173.3,897.7 1173.5,894.9 1173.7,893.8 1173.9,900.6 1174.1,895.3 1174.3,896.9 1174.5,894.2 1174.7,893.3 1174.9,898.9 1175.1,902.5 1175.3,896.6 1175.5,892.1 1175.7,895.7 1175.9,897.2 1176.1,890.1 1176.3,901.3 1176.5,895.0 1176.6,899.8 1176.8,897.8 1177.0,897.7 1177.2,893.1 1177.4,901.1 1177.6,899.8 1177.8,903.2 1178.0,896.5 1178.2,899.6 1178.4,896.8 1178.6,901.6 1178.8,899.4 1179.0,894.9 1179.2,898.8 1179.4,896.2 1179.6,896.6 1179.8,899.4 1180.0,903.3 1180.2,895.1 1180.4,897.8 1180.6,895.2 1180.8,904.9 1181.0,903.7 1181.2,905.3 1181.3,901.3 1181.5,895.1 1181.7,896.7 1181.9,898.6 1182.1,898.1 1182.3,896.1 1182.5,899.5 1182.7,897.3 1182.9,898.2 1183.1,905.7 1183.3,899.9 1183.5,894.3 1183.7,900.0 1183.9,899.2 1184.1,900.7 1184.3,900.3 1184.5,895.2 1184.7,899.7 1184.9,902.1 1185.1,908.8 1185.3,900.7 1185.5,905.2 1185.7,904.8 1185.9,896.4 1186.0,896.7 1186.2,905.1 1186.4,896.3 1186.6,897.5 1186.8,901.6 1187.0,896.7 1187.2,904.3 1187.4,903.0 1187.6,903.7 1187.8,902.7 1188.0,896.4 1188.2,903.5 1188.4,902.9 1188.6,902.3 1188.8,898.6 1189.0,900.4 1189.2,896.5 1189.4,901.6 1189.6,903.5 1189.8,901.0 1190.0,899.3 1190.2,902.4 1190.4,898.6 1190.6,893.7 1190.7,901.4 1190.9,899.4 1191.1,895.2 1191.3,901.7 1191.5,902.3 1191.7,903.1 1191.9,898.4 1192.1,898.0 1192.3,900.2 1192.5,899.6 1192.7,895.7 1192.9,897.0 1193.1,904.3 1193.3,899.9 1193.5,899.5 1193.7,897.6 1193.9,900.6 1194.1,902.0 1194.3,901.4 1194.5,905.7 1194.7,900.1 1194.9,901.9 1195.1,898.6 1195.3,903.4 1195.4,901.5 1195.6,903.3 1195.8,903.6 1196.0,898.0 1196.2,901.7 1196.4,898.8 1196.6,903.8 1196.8,900.0 1197.0,905.7 1197.2,901.9 1197.4,902.0 1197.6,898.5 1197.8,899.8 1198.0,901.0 1198.2,897.8 1198.4,899.9 1198.6,898.8 1198.8,898.1 1199.0,900.8 1199.2,901.5 1199.4,899.6 1199.6,901.9 1199.8,899.4 1200.0,897.2 1200.1,898.0 1200.3,901.9 1200.5,904.8 1200.7,900.9 1200.9,901.2 1201.1,897.3 1201.3,902.0 1201.5,901.5 1201.7,898.5 1201.9,902.4 1202.1,901.4 1202.3,895.5 1202.5,896.2 1202.7,899.0 1202.9,900.1 1203.1,904.0 1203.3,899.3 1203.5,900.8 1203.7,900.4 1203.9,902.7 1204.1,901.1 1204.3,901.7 1204.5,900.1 1204.7,896.7 1204.8,900.0 1205.0,906.4 1205.2,904.3 1205.4,906.2 1205.6,903.7 1205.8,899.5 1206.0,900.0 1206.2,903.2 1206.4,900.5 1206.6,903.7 1206.8,905.8 1207.0,905.8 1207.2,904.1 1207.4,896.9 1207.6,905.6 1207.8,897.5 1208.0,897.3 1208.2,902.0 1208.4,901.6 1208.6,903.4 1208.8,901.6 1209.0,899.5 1209.2,901.5 1209.4,898.4 1209.5,897.9 1209.7,900.5 1209.9,900.6 1210.1,901.8 1210.3,900.6 1210.5,905.2 1210.7,900.4 1210.9,901.1 1211.1,904.4 1211.3,895.0 1211.5,904.8 1211.7,904.5 1211.9,900.9 1212.1,907.9 1212.3,904.3 1212.5,906.6 1212.7,904.9 1212.9,902.3 1213.1,900.9 1213.3,898.4 1213.5,899.4 1213.7,898.2 1213.9,900.1 1214.1,903.4 1214.2,898.5 1214.4,903.5 1214.6,903.9 1214.8,897.2 1215.0,899.5 1215.2,901.3 1215.4,899.7 1215.6,899.3 1215.8,906.3 1216.0,902.3 1216.2,905.7 1216.4,901.7 1216.6,904.2 1216.8,897.9 1217.0,900.5 1217.2,904.7 1217.4,902.2 1217.6,905.9 1217.8,902.0 1218.0,900.5 1218.2,901.4 1218.4,908.2 1218.6,903.3 1218.8,900.6 1218.9,901.3 1219.1,898.6 1219.3,906.3 1219.5,900.6 1219.7,904.3 1219.9,901.7 1220.1,901.0 1220.3,900.2 1220.5,904.1 1220.7,901.8 1220.9,906.0 1221.1,906.8 1221.3,900.6 1221.5,902.5 1221.7,907.4 1221.9,905.1 1222.1,902.4 1222.3,897.6 1222.5,899.2 1222.7,900.0 1222.9,908.0 1223.1,902.8 1223.3,901.0 1223.5,901.3 1223.6,901.2 1223.8,903.2 1224.0,897.0 1224.2,897.9 1224.4,902.8 1224.6,905.6 1224.8,896.2 1225.0,904.3 1225.2,898.9 1225.4,896.6 1225.6,905.5 1225.8,901.7 1226.0,903.7 1226.2,901.0 1226.4,901.6 1226.6,896.6 1226.8,900.8 1227.0,902.7 1227.2,899.2 1227.4,903.5 1227.6,903.8 1227.8,895.7 1228.0,905.3 1228.2,904.2 1228.3,902.6 1228.5,906.0 1228.7,909.3 1228.9,899.5 1229.1,905.2 1229.3,904.5 1229.5,903.9 1229.7,905.8 1229.9,906.1 1230.1,902.3 1230.3,895.4 1230.5,900.5 1230.7,900.5 1230.9,907.5 1231.1,902.9 1231.3,906.5 1231.5,900.5 1231.7,903.6 1231.9,902.8 1232.1,903.2 1232.3,904.7 1232.5,907.6 1232.7,901.1 1232.9,907.2 1233.0,906.6 1233.2,903.9 1233.4,905.2 1233.6,902.2 1233.8,899.8 1234.0,902.2 1234.2,902.4 1234.4,902.9 1234.6,900.4 1234.8,908.7 1235.0,901.9 1235.2,905.9 1235.4,906.9 1235.6,903.0 1235.8,904.3 1236.0,901.3 1236.2,899.7 1236.4,910.3 1236.6,903.3 1236.8,897.0 1237.0,900.4 1237.2,898.6 1237.4,902.8 1237.6,907.6 1237.7,906.6 1237.9,900.9 1238.1,900.2 1238.3,905.4 1238.5,904.0 1238.7,902.4 1238.9,908.6 1239.1,904.3 1239.3,898.2 1239.5,896.4 1239.7,903.6 1239.9,897.6 1240.1,904.9 1240.3,905.8 1240.5,910.2 1240.7,900.3 1240.9,904.4 1241.1,896.0 1241.3,902.3 1241.5,902.7 1241.7,908.9 1241.9,898.7 1242.1,904.4 1242.3,903.8 1242.4,910.1 1242.6,900.5 1242.8,900.3 1243.0,905.2 1243.2,903.1 1243.4,902.1 1243.6,900.4 1243.8,903.0 1244.0,898.0 1244.2,904.1 1244.4,905.3 1244.6,904.8 1244.8,911.2 1245.0,905.9 1245.2,900.3 1245.4,902.6 1245.6,906.0 1245.8,902.4 1246.0,909.7 1246.2,904.3 1246.4,901.8 1246.6,901.3 1246.8,905.9 1247.0,900.6 1247.1,897.7 1247.3,904.8 1247.5,901.2 1247.7,908.3 1247.9,909.6 1248.1,901.6 1248.3,903.4 1248.5,902.9 1248.7,905.3 1248.9,904.4 1249.1,901.0 1249.3,898.2 1249.5,904.2 1249.7,908.6 1249.9,899.6 1250.1,901.7 1250.3,901.5 1250.5,903.0 1250.7,896.4 1250.9,903.3 1251.1,902.0 1251.3,909.3 1251.5,905.4 1251.7,905.7 1251.8,903.7 1252.0,902.5 1252.2,905.9 1252.4,898.3 1252.6,906.9 1252.8,905.0 1253.0,902.9 1253.2,907.5 1253.4,901.9 1253.6,901.7 1253.8,904.6 1254.0,897.8 1254.2,903.4 1254.4,902.8 1254.6,906.6 1254.8,908.8 1255.0,905.6 1255.2,904.7 1255.4,905.1 1255.6,901.3 1255.8,911.1 1256.0,907.2 1256.2,909.3 1256.4,899.6 1256.5,905.5 1256.7,905.3 1256.9,907.1 1257.1,901.0 1257.3,905.0 1257.5,903.1 1257.7,910.0 1257.9,900.2 1258.1,902.5 1258.3,902.1 1258.5,900.0 1258.7,904.4 1258.9,904.3 1259.1,901.6 1259.3,902.5 1259.5,904.5 1259.7,903.7 1259.9,905.4 1260.1,901.6 1260.3,900.9 1260.5,903.8 1260.7,898.0 1260.9,908.6 1261.1,904.5 1261.2,898.6 1261.4,905.1 1261.6,908.8 1261.8,899.5 1262.0,902.2 1262.2,907.5 1262.4,901.5 1262.6,907.0 1262.8,908.0 1263.0,904.3 1263.2,905.4 1263.4,907.3 1263.6,905.0 1263.8,907.0 1264.0,903.7 1264.2,904.0 1264.4,901.6 1264.6,905.3 1264.8,908.0 1265.0,908.0 1265.2,904.7 1265.4,899.2 1265.6,901.3 1265.8,905.9 1265.9,901.0 1266.1,907.5 1266.3,900.8 1266.5,905.1 1266.7,901.6 1266.9,902.0 1267.1,904.8 1267.3,903.0 1267.5,907.3 1267.7,904.2 1267.9,900.6 1268.1,891.4 1268.3,901.8 1268.5,903.7 1268.7,907.1 1268.9,900.7 1269.1,909.1 1269.3,906.5 1269.5,902.9 1269.7,907.7 1269.9,899.3 1270.1,900.7 1270.3,905.8 1270.5,905.7 1270.6,908.1 1270.8,908.4 1271.0,902.7 1271.2,902.1 1271.4,903.0 1271.6,903.2 1271.8,905.8 1272.0,903.0 1272.2,908.6 1272.4,904.1 1272.6,899.6 1272.8,900.0 1273.0,905.5 1273.2,905.1 1273.4,899.9 1273.6,898.6 1273.8,908.7 1274.0,905.4 1274.2,903.4 1274.4,900.4 1274.6,906.7 1274.8,902.2 1275.0,905.1 1275.2,896.9 1275.3,902.8 1275.5,904.6 1275.7,905.2 1275.9,900.9 1276.1,902.1 1276.3,907.5 1276.5,903.5 1276.7,908.3 1276.9,906.5 1277.1,908.2 1277.3,908.3 1277.5,906.3 1277.7,907.2 1277.9,902.6 1278.1,901.8 1278.3,905.0 1278.5,907.7 1278.7,901.8 1278.9,921.9 1279.1,910.2 1279.3,902.1 1279.5,902.3 1279.7,901.3 1279.9,905.0 1280.0,908.2 1280.2,905.9 1280.4,902.6 1280.6,906.7 1280.8,906.5 1281.0,908.6 1281.2,907.9 1281.4,901.8 1281.6,903.0 1281.8,907.9 1282.0,907.7 1282.2,906.1 1282.4,902.7 1282.6,908.0 1282.8,904.9 1283.0,911.0 1283.2,908.3 1283.4,903.2 1283.6,901.7 1283.8,908.0 1284.0,906.9 1284.2,902.0 1284.4,905.7 1284.6,906.2 1284.7,902.9 1284.9,903.9 1285.1,901.1 1285.3,902.1 1285.5,906.3 1285.7,904.9 1285.9,904.8 1286.1,908.7 1286.3,907.6 1286.5,924.4 1286.7,909.5 1286.9,901.6 1287.1,903.8 1287.3,905.1 1287.5,903.0 1287.7,903.2 1287.9,901.0 1288.1,905.9 1288.3,905.4 1288.5,905.5 1288.7,899.0 1288.9,901.8 1289.1,907.6 1289.3,905.8 1289.4,906.9 1289.6,904.7 1289.8,904.1 1290.0,897.8 1290.2,910.4 1290.4,901.7 1290.6,903.5 1290.8,907.0 1291.0,905.3 1291.2,906.4 1291.4,904.7 1291.6,901.8 1291.8,909.5 1292.0,900.9 1292.2,906.1 1292.4,900.4 1292.6,903.7 1292.8,901.2 1293.0,903.3 1293.2,901.7 1293.4,904.8 1293.6,907.6 1293.8,903.0 1294.0,902.9 1294.1,898.7 1294.3,911.2 1294.5,905.7 1294.7,901.9 1294.9,908.9 1295.1,905.8 1295.3,898.7 1295.5,900.8 1295.7,907.8 1295.9,900.8 1296.1,901.6 1296.3,902.8 1296.5,904.1 1296.7,904.5 1296.9,907.9 1297.1,906.8 1297.3,903.0 1297.5,904.9 1297.7,899.7 1297.9,906.3 1298.1,912.6 1298.3,906.4 1298.5,904.5 1298.7,904.2 1298.8,905.2 1299.0,907.9 1299.2,900.9 1299.4,907.4 1299.6,903.3 1299.8,906.3 1300.0,909.1 1300.2,901.2 1300.4,913.1 1300.6,908.1 1300.8,904.2 1301.0,906.6 1301.2,903.3 1301.4,905.9 1301.6,906.9 1301.8,899.1 1302.0,906.3 1302.2,906.1 1302.4,908.9 1302.6,907.9 1302.8,903.7 1303.0,904.0 1303.2,905.7 1303.4,907.8 1303.5,903.6 1303.7,910.9 1303.9,906.8 1304.1,906.5 1304.3,908.3 1304.5,905.3 1304.7,907.8 1304.9,908.2 1305.1,900.4 1305.3,903.6 1305.5,902.2 1305.7,905.7 1305.9,903.0 1306.1,903.5 1306.3,902.3 1306.5,898.8 1306.7,906.6 1306.9,905.2 1307.1,906.1 1307.3,916.5 1307.5,910.2 1307.7,906.0 1307.9,904.1 1308.1,907.8 1308.2,902.6 1308.4,902.2 1308.6,907.3 1308.8,901.8 1309.0,900.9 1309.2,904.7 1309.4,909.1 1309.6,901.7 1309.8,906.7 1310.0,907.3 1310.2,905.8 1310.4,907.8 1310.6,903.0 1310.8,903.9 1311.0,902.6 1311.2,904.5 1311.4,908.6 1311.6,906.8 1311.8,903.7 1312.0,907.5 1312.2,897.6 1312.4,907.1 1312.6,908.1 1312.8,902.9 1312.9,904.2 1313.1,906.5 1313.3,907.1 1313.5,905.2 1313.7,904.0 1313.9,904.2 1314.1,907.4 1314.3,905.2 1314.5,904.0 1314.7,904.2 1314.9,915.7 1315.1,909.2 1315.3,908.9 1315.5,907.3 1315.7,906.1 1315.9,903.9 1316.1,904.8 1316.3,907.0 1316.5,906.6 1316.7,901.4 1316.9,908.5 1317.1,905.8 1317.3,902.1 1317.5,905.7 1317.6,912.8 1317.8,905.6 1318.0,907.9 1318.2,907.1 1318.4,903.7 1318.6,905.4 1318.8,907.6 1319.0,904.2 1319.2,905.6 1319.4,906.6 1319.6,906.0 1319.8,906.1 1320.0,907.9 1320.2,908.3 1320.4,906.9 1320.6,909.8 1320.8,910.7 1321.0,903.1 1321.2,907.7 1321.4,907.1 1321.6,907.4 1321.8,907.0 1322.0,907.0 1322.2,906.9 1322.3,909.5 1322.5,904.3 1322.7,909.1 1322.9,904.0 1323.1,912.8 1323.3,910.3 1323.5,904.2 1323.7,907.6 1323.9,909.1 1324.1,906.1 1324.3,910.3 1324.5,907.0 1324.7,913.8 1324.9,908.6 1325.1,909.2 1325.3,905.7 1325.5,904.7 1325.7,909.8 1325.9,902.5 1326.1,909.0 1326.3,913.4 1326.5,914.3 1326.7,902.8 1326.9,907.6 1327.0,909.3 1327.2,909.6 1327.4,910.6 1327.6,903.4 1327.8,907.6 1328.0,902.1 1328.2,908.0 1328.4,914.4 1328.6,904.9 1328.8,908.5 1329.0,908.1 1329.2,902.8 1329.4,908.2 1329.6,904.0 1329.8,907.5 1330.0,909.7 1330.2,906.0 1330.4,909.3 1330.6,903.9 1330.8,904.7 1331.0,907.4 1331.2,905.7 1331.4,905.9 1331.6,908.4 1331.7,904.9 1331.9,908.2 1332.1,905.8 1332.3,910.4 1332.5,907.3 1332.7,906.4 1332.9,909.9 1333.1,908.8 1333.3,909.2 1333.5,905.5 1333.7,909.8 1333.9,906.4 1334.1,903.2 1334.3,906.6 1334.5,912.4 1334.7,907.3 1334.9,904.6 1335.1,908.5 1335.3,904.4 1335.5,905.9 1335.7,906.5 1335.9,908.5 1336.1,909.2 1336.3,908.5 1336.5,907.5 1336.6,906.2 1336.8,906.5 1337.0,908.6 1337.2,907.5 1337.4,906.6 1337.6,912.5 1337.8,910.0 1338.0,910.1 1338.2,908.3 1338.4,908.5 1338.6,908.5 1338.8,910.3 1339.0,905.8 1339.2,906.9 1339.4,912.6 1339.6,907.7 1339.8,911.1 1340.0,902.8 1340.2,909.1 1340.4,908.9 1340.6,907.5 1340.8,908.4 1341.0,908.0 1341.2,903.2 1341.3,907.1 1341.5,905.3 1341.7,904.5 1341.9,910.7 1342.1,902.8 1342.3,905.8 1342.5,905.0 1342.7,910.3 1342.9,905.4 1343.1,906.6 1343.3,909.4 1343.5,901.1 1343.7,906.2 1343.9,908.5 1344.1,907.3 1344.3,905.2 1344.5,904.5 1344.7,906.1 1344.9,904.3 1345.1,903.5 1345.3,911.5 1345.5,909.3 1345.7,910.6 1345.9,907.6 1346.0,903.6 1346.2,906.0 1346.4,910.9 1346.6,908.7 1346.8,904.9 1347.0,909.4 1347.2,908.2 1347.4,907.0 1347.6,913.2 1347.8,905.6 1348.0,906.9 1348.2,906.2 1348.4,910.8 1348.6,910.2 1348.8,909.7 1349.0,907.2 1349.2,907.7 1349.4,907.5 1349.6,902.7 1349.8,904.1 1350.0,910.0 1350.2,909.9 1350.4,902.9 1350.6,908.9 1350.7,903.9 1350.9,903.3 1351.1,909.5 1351.3,908.7 1351.5,907.7 1351.7,910.5 1351.9,910.8 1352.1,909.1 1352.3,905.5 1352.5,909.3 1352.7,908.6 1352.9,909.3 1353.1,912.0 1353.3,903.6 1353.5,914.9 1353.7,909.9 1353.9,906.4 1354.1,912.1 1354.3,906.2 1354.5,904.3 1354.7,910.5 1354.9,907.4 1355.1,911.3 1355.3,906.5 1355.4,907.8 1355.6,907.4 1355.8,904.0 1356.0,906.7 1356.2,904.1 1356.4,906.2 1356.6,911.6 1356.8,907.3 1357.0,906.6 1357.2,912.3 1357.4,904.2 1357.6,907.9 1357.8,907.0 1358.0,910.7 1358.2,907.9 1358.4,907.2 1358.6,909.0 1358.8,907.8 1359.0,914.3 1359.2,904.1 1359.4,911.4 1359.6,914.5 1359.8,910.9 1360.0,910.5 1360.1,906.5 1360.3,910.8 1360.5,907.3 1360.7,910.9 1360.9,901.7 1361.1,906.5 1361.3,902.4 1361.5,911.1 1361.7,906.2 1361.9,910.9 1362.1,906.4 1362.3,906.2 1362.5,912.8 1362.7,911.5 1362.9,911.6 1363.1,912.6 1363.3,910.3 1363.5,911.0 1363.7,912.4 1363.9,907.9 1364.1,906.6 1364.3,912.0 1364.5,909.8 1364.7,908.2 1364.8,908.9 1365.0,910.2 1365.2,905.8 1365.4,905.7 1365.6,906.2 1365.8,908.8 1366.0,902.4 1366.2,903.1 1366.4,909.4 1366.6,908.6 1366.8,904.8 1367.0,910.6 1367.2,907.1 1367.4,908.1 1367.6,910.3 1367.8,908.9 1368.0,912.8 1368.2,909.8 1368.4,914.1 1368.6,901.6 1368.8,903.9 1369.0,904.7 1369.2,907.4 1369.4,905.4 1369.5,904.6 1369.7,905.3 1369.9,905.6 1370.1,910.9 1370.3,907.0 1370.5,909.9 1370.7,911.7 1370.9,911.6 1371.1,907.1 1371.3,905.2 1371.5,912.3 1371.7,903.2 1371.9,904.0 1372.1,909.4 1372.3,909.7 1372.5,908.5 1372.7,905.5 1372.9,909.5 1373.1,911.6 1373.3,907.3 1373.5,914.4 1373.7,907.9 1373.9,905.0 1374.1,907.5 1374.2,906.1 1374.4,906.9 1374.6,906.2 1374.8,907.9 1375.0,910.8 1375.2,909.0 1375.4,908.6 1375.6,904.7 1375.8,903.6 1376.0,907.2 1376.2,910.6 1376.4,910.5 1376.6,908.9 1376.8,904.4 1377.0,907.4 1377.2,908.6 1377.4,910.6 1377.6,905.8 1377.8,907.6 1378.0,908.6 1378.2,908.1 1378.4,903.5 1378.6,908.9 1378.8,903.5 1378.9,904.8 1379.1,908.3 1379.3,905.9 1379.5,908.8 1379.7,910.8 1379.9,909.2 1380.1,911.1 1380.3,907.0 1380.5,908.4 1380.7,906.8 1380.9,906.0 1381.1,917.5 1381.3,907.5 1381.5,913.7 1381.7,908.0 1381.9,911.0 1382.1,908.2 1382.3,904.5 1382.5,913.4 1382.7,907.9 1382.9,908.7 1383.1,914.0 1383.3,906.6 1383.5,908.4 1383.6,910.0 1383.8,910.6 1384.0,899.1 1384.2,909.6 1384.4,913.7 1384.6,911.2 1384.8,909.6 1385.0,909.6 1385.2,908.7 1385.4,911.6 1385.6,906.9 1385.8,909.9 1386.0,912.5 1386.2,910.9 1386.4,909.6 1386.6,906.0 1386.8,907.1 1387.0,909.5 1387.2,908.5 1387.4,907.9 1387.6,902.6 1387.8,910.3 1388.0,907.2 1388.2,906.4 1388.3,911.3 1388.5,908.0 1388.7,908.1 1388.9,909.9 1389.1,906.9 1389.3,905.6 1389.5,905.3 1389.7,909.1 1389.9,908.0 1390.1,901.7 1390.3,911.8 1390.5,907.9 1390.7,906.0 1390.9,908.1 1391.1,906.7 1391.3,908.1 1391.5,906.4 1391.7,904.8 1391.9,909.2 1392.1,908.0 1392.3,908.7 1392.5,909.8 1392.7,908.6 1392.9,911.9 1393.0,906.4 1393.2,903.6 1393.4,903.6 1393.6,904.9 1393.8,911.4 1394.0,904.2 1394.2,910.7 1394.4,908.8 1394.6,903.2 1394.8,911.7 1395.0,906.2 1395.2,907.8 1395.4,909.1 1395.6,911.2 1395.8,907.4 1396.0,910.0 1396.2,905.6 1396.4,905.1 1396.6,912.6 1396.8,910.1 1397.0,909.6 1397.2,912.1 1397.4,911.9 1397.6,908.4 1397.7,909.2 1397.9,913.4 1398.1,910.2 1398.3,907.1 1398.5,912.2 1398.7,911.3 1398.9,904.0 1399.1,904.8 1399.3,913.4 1399.5,912.6 1399.7,907.6 1399.9,912.1 1400.1,909.4 1400.3,910.0 1400.5,907.0 1400.7,916.0 1400.9,915.1 1401.1,912.2 1401.3,905.7 1401.5,909.1 1401.7,913.6 1401.9,907.2 1402.1,906.6 1402.3,909.4 1402.4,909.6 1402.6,907.4 1402.8,905.2 1403.0,908.2 1403.2,907.1 1403.4,908.8 1403.6,909.8 1403.8,911.4 1404.0,908.0 1404.2,909.6 1404.4,909.4 1404.6,906.0 1404.8,907.3 1405.0,906.2 1405.2,913.3 1405.4,907.1 1405.6,910.4 1405.8,911.1 1406.0,911.2 1406.2,905.2 1406.4,906.3 1406.6,910.8 1406.8,912.0 1407.0,908.7 1407.1,910.1 1407.3,903.9 1407.5,913.0 1407.7,914.0 1407.9,922.4 1408.1,923.4 1408.3,908.4 1408.5,906.6 1408.7,902.7 1408.9,909.7 1409.1,910.3 1409.3,913.9 1409.5,908.0 1409.7,906.3 1409.9,909.5 1410.1,905.3 1410.3,908.7 1410.5,904.4 1410.7,907.8 1410.9,911.8 1411.1,910.6 1411.3,913.2 1411.5,913.8 1411.7,908.0 1411.8,906.2 1412.0,903.1 1412.2,908.9 1412.4,909.5 1412.6,922.3 1412.8,905.9 1413.0,907.7 1413.2,910.5 1413.4,906.8 1413.6,907.2 1413.8,914.2 1414.0,906.6 1414.2,908.4 1414.4,909.9 1414.6,910.0 1414.8,903.7 1415.0,904.3 1415.2,903.5 1415.4,912.1 1415.6,910.7 1415.8,906.2 1416.0,912.3 1416.2,910.9 1416.4,914.0 1416.5,903.4 1416.7,905.7 1416.9,907.5 1417.1,908.2 1417.3,910.0 1417.5,910.0 1417.7,907.0 1417.9,910.9 1418.1,905.3 1418.3,910.3 1418.5,911.4 1418.7,905.1 1418.9,909.2 1419.1,907.2 1419.3,910.0 1419.5,915.4 1419.7,907.3 1419.9,912.7 1420.1,905.7 1420.3,913.3 1420.5,914.2 1420.7,908.0 1420.9,907.6 1421.1,908.5 1421.2,923.5 1421.4,906.3 1421.6,913.1 1421.8,910.2 1422.0,911.1 1422.2,910.0 1422.4,906.4 1422.6,910.7 1422.8,907.2 1423.0,906.9 1423.2,913.8 1423.4,912.2 1423.6,910.0 1423.8,910.6 1424.0,908.0 1424.2,914.5 1424.4,906.8 1424.6,906.7 1424.8,909.4 1425.0,912.9 1425.2,908.9 1425.4,910.4 1425.6,907.2 1425.8,909.1 1425.9,906.8 1426.1,910.1 1426.3,904.7 1426.5,915.6 1426.7,911.8 1426.9,907.5 1427.1,913.3 1427.3,906.8 1427.5,912.4 1427.7,908.6 1427.9,911.5 1428.1,910.2 1428.3,908.4 1428.5,909.2 1428.7,910.0 1428.9,902.7 1429.1,908.9 1429.3,911.7 1429.5,906.2 1429.7,906.5 1429.9,905.4 1430.1,903.7 1430.3,911.6 1430.5,905.9 1430.6,905.6 1430.8,908.9 1431.0,908.2 1431.2,917.6 1431.4,910.6 1431.6,903.8 1431.8,914.1 1432.0,910.5 1432.2,908.1 1432.4,907.3 1432.6,904.2 1432.8,914.0 1433.0,908.8 1433.2,906.5 1433.4,912.7 1433.6,909.1 1433.8,903.5 1434.0,905.1 1434.2,907.4 1434.4,916.5 1434.6,909.3 1434.8,924.0 1435.0,909.8 1435.2,909.1 1435.3,900.0 1435.5,909.6 1435.7,911.8 1435.9,908.3 1436.1,909.9 1436.3,909.9 1436.5,909.2 1436.7,906.7 1436.9,908.3 1437.1,912.4 1437.3,909.4 1437.5,907.6 1437.7,910.3 1437.9,905.7 1438.1,906.7 1438.3,911.8 1438.5,908.1 1438.7,903.2 1438.9,904.5 1439.1,909.1 1439.3,906.4 1439.5,923.5 1439.7,913.2 1439.9,907.4 1440.0,908.3 1440.2,907.5 1440.4,909.1 1440.6,908.1 1440.8,910.5 1441.0,907.6 1441.2,906.6 1441.4,909.2 1441.6,906.6 1441.8,914.1 1442.0,911.3 1442.2,904.8 1442.4,903.9 1442.6,908.3 1442.8,909.3 1443.0,912.7 1443.2,908.0 1443.4,906.8 1443.6,913.3 1443.8,907.4 1444.0,907.6 1444.2,907.7 1444.4,912.3 1444.6,907.5 1444.7,913.4 1444.9,904.7 1445.1,908.6 1445.3,912.4 1445.5,905.1 1445.7,905.7 1445.9,910.9 1446.1,902.7 1446.3,911.9 1446.5,908.1 1446.7,905.6 1446.9,915.6 1447.1,906.1 1447.3,909.2 1447.5,909.1 1447.7,912.2 1447.9,908.1 1448.1,912.3 1448.3,911.8 1448.5,910.3 1448.7,912.6 1448.9,904.5 1449.1,912.9 1449.3,911.2 1449.4,910.0 1449.6,909.0 1449.8,906.8 1450.0,906.7 1450.2,909.9 1450.4,910.2 1450.6,909.0 1450.8,906.7 1451.0,907.1 1451.2,910.6 1451.4,915.0 1451.6,902.9 1451.8,906.3 1452.0,908.3 1452.2,908.1 1452.4,910.6 1452.6,912.0 1452.8,910.0 1453.0,909.7 1453.2,910.9 1453.4,913.3 1453.6,910.0 1453.8,907.4 1454.0,910.5 1454.1,909.0 1454.3,915.1 1454.5,909.7 1454.7,909.4 1454.9,912.6 1455.1,914.1 1455.3,907.9 1455.5,911.4 1455.7,907.7 1455.9,910.3 1456.1,907.3 1456.3,910.1 1456.5,913.5 1456.7,909.4 1456.9,910.1 1457.1,907.2 1457.3,910.4 1457.5,910.2 1457.7,906.6 1457.9,905.7 1458.1,906.9 1458.3,906.1 1458.5,907.8 1458.7,906.9 1458.8,906.6 1459.0,908.0 1459.2,908.9 1459.4,908.7 1459.6,902.2 1459.8,909.1 1460.0,909.8 1460.2,910.2 1460.4,909.2 1460.6,908.4 1460.8,912.4 1461.0,914.9 1461.2,908.3 1461.4,913.8 1461.6,908.4 1461.8,908.7 1462.0,905.8 1462.2,904.3 1462.4,908.1 1462.6,910.7 1462.8,912.5 1463.0,911.4 1463.2,909.0 1463.4,915.1 1463.5,908.9 1463.7,909.2 1463.9,907.3 1464.1,910.1 1464.3,908.9 1464.5,911.3 1464.7,910.5 1464.9,914.3 1465.1,908.8 1465.3,904.7 1465.5,908.7 1465.7,908.1 1465.9,912.0 1466.1,905.0 1466.3,911.4 1466.5,906.9 1466.7,908.9 1466.9,911.9 1467.1,906.2 1467.3,909.1 1467.5,908.7 1467.7,907.9 1467.9,909.2 1468.1,910.3 1468.2,907.8 1468.4,910.4 1468.6,909.0 1468.8,911.1 1469.0,921.9 1469.2,911.1 1469.4,910.6 1469.6,909.2 1469.8,905.8 1470.0,914.1 1470.2,908.8 1470.4,915.6 1470.6,912.2 1470.8,910.7 1471.0,915.7 1471.2,914.6 1471.4,908.8 1471.6,909.0 1471.8,909.5 1472.0,911.5 1472.2,903.0 1472.4,909.7 1472.6,911.7 1472.8,904.4 1472.9,907.5 1473.1,910.3 1473.3,905.8 1473.5,908.8 1473.7,907.4 1473.9,908.6 1474.1,912.2 1474.3,906.4 1474.5,908.8 1474.7,912.1 1474.9,911.4 1475.1,906.5 1475.3,910.3 1475.5,909.1 1475.7,922.9 1475.9,908.9 1476.1,913.6 1476.3,907.4 1476.5,906.5 1476.7,906.8 1476.9,904.6 1477.1,908.2 1477.3,907.0 1477.5,904.7 1477.6,910.1 1477.8,904.3 1478.0,904.3 1478.2,907.0 1478.4,904.0 1478.6,906.8 1478.8,911.8 1479.0,906.0 1479.2,908.3 1479.4,908.1 1479.6,908.8 1479.8,905.4 1480.0,907.7 1480.2,911.3 1480.4,907.9 1480.6,907.2 1480.8,924.0 1481.0,910.5 1481.2,910.4 1481.4,911.0 1481.6,908.3 1481.8,906.4 1482.0,903.8 1482.2,905.8 1482.3,906.3 1482.5,906.0 1482.7,905.4 1482.9,910.4 1483.1,907.3 1483.3,908.4 1483.5,909.7 1483.7,910.6 1483.9,910.8 1484.1,910.1 1484.3,912.9 1484.5,907.8 1484.7,909.4 1484.9,909.0 1485.1,908.3 1485.3,907.2 1485.5,924.2 1485.7,909.6 1485.9,913.9 1486.1,921.7 1486.3,914.9 1486.5,904.9 1486.7,914.6 1486.9,908.0 1487.0,905.1 1487.2,910.6 1487.4,904.6 1487.6,904.0 1487.8,906.6 1488.0,902.5 1488.2,907.5 1488.4,911.4 1488.6,907.8 1488.8,910.6 1489.0,913.1 1489.2,913.0 1489.4,902.7 1489.6,910.9 1489.8,909.4 1490.0,911.2 1490.2,908.9 1490.4,910.0 1490.6,910.5 1490.8,912.8 1491.0,913.4 1491.2,911.5 1491.4,908.5 1491.6,903.3 1491.7,906.3 1491.9,904.1 1492.1,907.9 1492.3,909.6 1492.5,913.1 1492.7,909.3 1492.9,915.5 1493.1,910.2 1493.3,904.6 1493.5,908.4 1493.7,906.1 1493.9,910.4 1494.1,913.3 1494.3,910.7 1494.5,910.5 1494.7,905.8 1494.9,903.6 1495.1,911.4 1495.3,910.3 1495.5,909.7 1495.7,910.3 1495.9,912.9 1496.1,909.0 1496.3,908.3 1496.4,908.2 1496.6,912.8 1496.8,909.6 1497.0,914.3 1497.2,906.7 1497.4,912.3 1497.6,910.1 1497.8,910.6 1498.0,911.0 1498.2,912.4 1498.4,914.4 1498.6,904.3 1498.8,908.6 1499.0,908.6 1499.2,924.1 1499.4,909.6 1499.6,907.7 1499.8,909.3 1500.0,905.9 1500.2,907.9 1500.4,908.4 1500.6,910.1 1500.8,908.5 1501.0,906.0 1501.1,915.3 1501.3,909.7 1501.5,910.5 1501.7,910.2 1501.9,915.0 1502.1,907.2 1502.3,911.8 1502.5,910.0 1502.7,910.8 1502.9,914.1 1503.1,910.6 1503.3,914.6 1503.5,912.1 1503.7,910.2 1503.9,909.4 1504.1,909.2 1504.3,909.7 1504.5,903.2 1504.7,908.1 1504.9,912.9 1505.1,911.1 1505.3,911.2 1505.5,909.9 1505.7,911.1 1505.8,911.8 1506.0,904.6 1506.2,909.2 1506.4,910.3 1506.6,910.1 1506.8,910.0 1507.0,905.4 1507.2,908.0 1507.4,906.1 1507.6,918.3 1507.8,908.4 1508.0,906.3 1508.2,903.7 1508.4,909.3 1508.6,914.3 1508.8,907.7 1509.0,911.1 1509.2,914.5 1509.4,911.2 1509.6,906.3 1509.8,905.9 1510.0,907.3 1510.2,912.4 1510.4,902.2 1510.5,912.7 1510.7,909.6 1510.9,913.5 1511.1,905.6 1511.3,908.1 1511.5,906.8 1511.7,909.1 1511.9,909.6 1512.1,908.9 1512.3,914.8 1512.5,906.5 1512.7,906.8 1512.9,910.5 1513.1,909.4 1513.3,908.5 1513.5,904.9 1513.7,908.1 1513.9,909.3 1514.1,910.8 1514.3,913.7 1514.5,911.1 1514.7,909.2 1514.9,910.1 1515.1,909.2 1515.2,907.2 1515.4,908.1 1515.6,908.6 1515.8,907.5 1516.0,922.9 1516.2,909.5 1516.4,908.0 1516.6,922.8 1516.8,905.8 1517.0,913.1 1517.2,907.0 1517.4,909.4 1517.6,906.2 1517.8,909.3 1518.0,912.1 1518.2,906.3 1518.4,908.9 1518.6,909.1 1518.8,909.2 1519.0,906.5 1519.2,907.0 1519.4,908.7 1519.6,913.8 1519.8,910.6 1519.9,909.1 1520.1,904.2 1520.3,908.3 1520.5,909.7 1520.7,906.0 1520.9,909.7 1521.1,909.5 1521.3,908.9 1521.5,913.7 1521.7,906.7 1521.9,908.2 1522.1,910.2 1522.3,912.7 1522.5,908.8 1522.7,905.4 1522.9,911.2 1523.1,912.5 1523.3,908.2 1523.5,914.0 1523.7,915.8 1523.9,910.7 1524.1,911.4 1524.3,910.2 1524.5,911.0 1524.6,908.5 1524.8,910.0 1525.0,911.1 1525.2,910.7 1525.4,907.6 1525.6,922.4 1525.8,906.8 1526.0,907.4 1526.2,918.9 1526.4,912.3 1526.6,910.3 1526.8,923.4 1527.0,914.1 1527.2,905.3 1527.4,908.6 1527.6,911.2 1527.8,909.0 1528.0,910.4 1528.2,911.6 1528.4,908.0 1528.6,910.7 1528.8,913.5 1529.0,911.2 1529.2,909.8 1529.3,912.5 1529.5,905.8 1529.7,912.6 1529.9,904.4 1530.1,906.9 1530.3,912.1 1530.5,909.1 1530.7,906.0 1530.9,910.0 1531.1,912.9 1531.3,909.1 1531.5,903.7 1531.7,913.7 1531.9,907.8 1532.1,909.4 1532.3,909.8 1532.5,910.6 1532.7,910.3 1532.9,922.9 1533.1,907.7 1533.3,912.3 1533.5,905.0 1533.7,913.2 1533.9,907.5 1534.0,908.9 1534.2,906.0 1534.4,908.4 1534.6,906.4 1534.8,909.5 1535.0,906.6 1535.2,908.4 1535.4,903.3 1535.6,911.4 1535.8,906.0 1536.0,908.1 1536.2,908.9 1536.4,911.1 1536.6,908.2 1536.8,913.7 1537.0,913.4 1537.2,907.4 1537.4,913.9 1537.6,905.3 1537.8,910.2 1538.0,908.7 1538.2,909.2 1538.4,908.2 1538.6,910.2 1538.7,910.5 1538.9,909.8 1539.1,906.4 1539.3,906.2 1539.5,905.8 1539.7,908.4 1539.9,910.0 1540.1,914.3 1540.3,907.6 1540.5,907.0 1540.7,910.6 1540.9,907.1 1541.1,905.8 1541.3,909.2 1541.5,906.4 1541.7,908.6 1541.9,914.4 1542.1,910.8 1542.3,910.6 1542.5,907.9 1542.7,911.9 1542.9,910.7 1543.1,912.2 1543.3,909.6 1543.4,909.3 1543.6,906.7 1543.8,907.2 1544.0,909.0 1544.2,908.8 1544.4,909.2 1544.6,909.2 1544.8,905.0 1545.0,916.6 1545.2,910.0 1545.4,908.6 1545.6,906.2 1545.8,912.6 1546.0,908.5 1546.2,907.0 1546.4,910.8 1546.6,914.9 1546.8,910.5 1547.0,912.9 1547.2,907.6 1547.4,911.9 1547.6,904.4 1547.8,909.1 1548.0,911.8 1548.1,910.9 1548.3,912.6 1548.5,908.4 1548.7,905.2 1548.9,910.1 1549.1,906.9 1549.3,912.2 1549.5,908.6 1549.7,902.9 1549.9,913.5 1550.1,906.0 1550.3,906.1 1550.5,914.9 1550.7,913.6 1550.9,912.3 1551.1,906.7 1551.3,910.7 1551.5,910.0 1551.7,907.5 1551.9,909.2 1552.1,908.9 1552.3,910.4 1552.5,906.3 1552.7,911.7 1552.8,904.7 1553.0,910.5 1553.2,911.8 1553.4,907.7 1553.6,908.2 1553.8,915.2 1554.0,908.9 1554.2,913.4 1554.4,911.9 1554.6,907.3 1554.8,912.0 1555.0,908.5 1555.2,910.6 1555.4,904.0 1555.6,909.8 1555.8,912.9 1556.0,912.7 1556.2,912.1 1556.4,909.2 1556.6,909.6 1556.8,906.8 1557.0,909.1 1557.2,909.2 1557.4,908.6 1557.5,909.9 1557.7,908.7 1557.9,922.6 1558.1,924.3 1558.3,911.1 1558.5,914.6 1558.7,911.9 1558.9,908.8 1559.1,916.7 1559.3,910.9 1559.5,908.3 1559.7,911.2 1559.9,912.8 1560.1,904.6 1560.3,905.6 1560.5,910.3 1560.7,905.8 1560.9,905.9 1561.1,912.8 1561.3,901.9 1561.5,912.3 1561.7,910.4 1561.9,912.7 1562.1,909.4 1562.2,913.4 1562.4,909.6 1562.6,906.5 1562.8,909.0 1563.0,910.4 1563.2,905.2 1563.4,912.2 1563.6,906.9 1563.8,910.5 1564.0,909.0 1564.2,909.6 1564.4,909.3 1564.6,909.8 1564.8,911.9 1565.0,911.3 1565.2,908.4 1565.4,910.0 1565.6,913.0 1565.8,911.7 1566.0,911.7 1566.2,909.8 1566.4,909.2 1566.6,909.4 1566.8,911.6 1566.9,909.6 1567.1,913.6 1567.3,917.9 1567.5,909.9 1567.7,914.4 1567.9,912.4 1568.1,913.2 1568.3,907.9 1568.5,913.2 1568.7,908.9 1568.9,911.1 1569.1,913.3 1569.3,914.2 1569.5,908.4 1569.7,908.6 1569.9,907.5 1570.1,904.5 1570.3,909.0 1570.5,909.0 1570.7,910.1 1570.9,909.5 1571.1,910.8 1571.3,912.3 1571.5,904.1 1571.6,915.1 1571.8,909.1 1572.0,908.5 1572.2,909.4 1572.4,912.5 1572.6,910.3 1572.8,922.0 1573.0,912.9 1573.2,909.9 1573.4,911.0 1573.6,911.4 1573.8,923.2 1574.0,912.9 1574.2,908.6 1574.4,911.6 1574.6,908.6 1574.8,909.6 1575.0,909.2 1575.2,912.6 1575.4,912.1 1575.6,912.3 1575.8,909.4 1576.0,907.7 1576.2,906.8 1576.3,911.3 1576.5,909.6 1576.7,914.5 1576.9,916.2 1577.1,912.3 1577.3,911.8 1577.5,914.3 1577.7,915.0 1577.9,908.4 1578.1,912.2 1578.3,914.7 1578.5,903.3 1578.7,909.4 1578.9,910.8 1579.1,908.0 1579.3,912.1 1579.5,905.4 1579.7,914.3 1579.9,913.6 1580.1,910.3 1580.3,912.1 1580.5,905.9 1580.7,914.5 1580.9,912.0 1581.0,909.3 1581.2,908.3 1581.4,907.1 1581.6,909.0 1581.8,903.7 1582.0,911.3 1582.2,909.5 1582.4,907.5 1582.6,910.9 1582.8,910.8 1583.0,911.3 1583.2,911.8 1583.4,913.2 1583.6,911.6 1583.8,914.4 1584.0,908.9 1584.2,914.5 1584.4,904.1 1584.6,905.2 1584.8,906.9 1585.0,910.6 1585.2,911.7 1585.4,906.5 1585.6,909.5 1585.7,908.4 1585.9,912.1 1586.1,907.0 1586.3,912.3 1586.5,909.7 1586.7,915.0 1586.9,911.9 1587.1,908.6 1587.3,911.3 1587.5,911.3 1587.7,907.8 1587.9,910.3 1588.1,906.5 1588.3,916.9 1588.5,908.4 1588.7,908.6 1588.9,914.4 1589.1,913.7 1589.3,907.6 1589.5,913.1 1589.7,911.9 1589.9,908.4 1590.1,911.0 1590.3,908.7 1590.4,912.5 1590.6,909.2 1590.8,907.0 1591.0,909.1 1591.2,916.3 1591.4,908.2 1591.6,909.9 1591.8,912.6 1592.0,906.1 1592.2,915.0 1592.4,904.7 1592.6,911.9 1592.8,905.6 1593.0,910.2 1593.2,913.9 1593.4,909.8 1593.6,909.1 1593.8,908.5 1594.0,907.1 1594.2,912.6 1594.4,908.7 1594.6,908.0 1594.8,910.9 1595.0,912.7 1595.1,912.8 1595.3,908.0 1595.5,907.8 1595.7,912.4 1595.9,913.9 1596.1,906.6 1596.3,914.5 1596.5,909.6 1596.7,912.4 1596.9,915.1 1597.1,909.7 1597.3,910.6 1597.5,906.0 1597.7,903.6 1597.9,910.6 1598.1,907.2 1598.3,907.1 1598.5,911.6 1598.7,912.6 1598.9,905.5 1599.1,911.1 1599.3,910.2 1599.5,910.9 1599.7,910.5 1599.8,911.8 1600.0,908.0 1600.2,906.5 1600.4,911.2 1600.6,914.0 1600.8,910.0 1601.0,914.3 1601.2,911.9 1601.4,906.6 1601.6,903.5 1601.8,909.0 1602.0,913.1 1602.2,907.9 1602.4,916.5 1602.6,912.1 1602.8,905.8 1603.0,908.0 1603.2,914.0 1603.4,914.8 1603.6,907.7 1603.8,910.3 1604.0,911.8 1604.2,909.0 1604.4,911.8 1604.5,915.6 1604.7,907.8 1604.9,912.0 1605.1,913.0 1605.3,913.9 1605.5,909.4 1605.7,912.4 1605.9,908.4 1606.1,910.9 1606.3,907.1 1606.5,911.2 1606.7,912.0 1606.9,915.7 1607.1,913.2 1607.3,908.1 1607.5,901.5 1607.7,913.7 1607.9,913.1 1608.1,909.2 1608.3,908.8 1608.5,912.1 1608.7,909.9 1608.9,914.7 1609.1,911.0 1609.2,907.6 1609.4,905.5 1609.6,910.6 1609.8,910.9 1610.0,908.9 1610.2,907.0 1610.4,908.8 1610.6,912.3 1610.8,909.1 1611.0,907.4 1611.2,912.2 1611.4,913.9 1611.6,908.7 1611.8,909.1 1612.0,907.4 1612.2,909.9 1612.4,912.0 1612.6,911.4 1612.8,913.1 1613.0,912.8 1613.2,911.7 1613.4,911.5 1613.6,907.0 1613.8,913.6 1613.9,910.3 1614.1,922.9 1614.3,905.9 1614.5,909.4 1614.7,911.2 1614.9,907.8 1615.1,910.0 1615.3,911.5 1615.5,905.8 1615.7,908.1 1615.9,905.2 1616.1,906.9 1616.3,907.9 1616.5,909.8 1616.7,913.2 1616.9,908.1 1617.1,909.9 1617.3,908.2 1617.5,910.2 1617.7,912.1 1617.9,913.0 1618.1,908.2 1618.3,906.5 1618.5,910.9 1618.6,908.8 1618.8,906.2 1619.0,912.5 1619.2,911.1 1619.4,913.3 1619.6,906.8 1619.8,909.4 1620.0,911.4 1620.2,914.8 1620.4,910.6 1620.6,907.3 1620.8,911.0 1621.0,911.3 1621.2,908.3 1621.4,913.6 1621.6,910.0 1621.8,908.4 1622.0,912.3 1622.2,912.5 1622.4,909.4 1622.6,910.4 1622.8,910.8 1623.0,909.5 1623.2,909.5 1623.3,912.7 1623.5,912.0 1623.7,908.9 1623.9,907.0 1624.1,906.3 1624.3,912.5 1624.5,907.0 1624.7,908.0 1624.9,910.2 1625.1,908.7 1625.3,907.8 1625.5,905.1 1625.7,913.1 1625.9,908.4 1626.1,910.5 1626.3,910.7 1626.5,906.9 1626.7,907.8 1626.9,913.0 1627.1,921.6 1627.3,909.5 1627.5,914.1 1627.7,907.7 1627.9,910.3 1628.0,909.7 1628.2,909.2 1628.4,905.0 1628.6,910.0 1628.8,911.1 1629.0,905.2 1629.2,911.5 1629.4,911.6 1629.6,914.0 1629.8,907.1 1630.0,909.4 1630.2,908.8 1630.4,909.7 1630.6,910.5 1630.8,912.3 1631.0,912.3 1631.2,908.9 1631.4,909.8 1631.6,905.5 1631.8,912.3 1632.0,911.5 1632.2,913.0 1632.4,906.2 1632.6,913.6 1632.7,908.0 1632.9,906.1 1633.1,910.5 1633.3,908.1 1633.5,916.1 1633.7,911.2 1633.9,914.8 1634.1,909.6 1634.3,910.1 1634.5,912.3 1634.7,907.5 1634.9,909.1 1635.1,911.6 1635.3,911.6 1635.5,914.3 1635.7,910.7 1635.9,904.2 1636.1,912.1 1636.3,908.9 1636.5,911.7 1636.7,907.9 1636.9,908.9 1637.1,910.8 1637.3,915.2 1637.4,911.6 1637.6,906.8 1637.8,910.8 1638.0,908.4 1638.2,911.5 1638.4,915.4 1638.6,908.9 1638.8,909.2 1639.0,911.8 1639.2,911.2 1639.4,909.3 1639.6,911.8 1639.8,909.2 1640.0,910.7 1640.2,916.8 1640.4,910.5 1640.6,911.8 1640.8,912.5 1641.0,909.0 1641.2,911.5 1641.4,908.6 1641.6,907.1 1641.8,909.7 1642.0,914.5 1642.1,912.2 1642.3,907.6 1642.5,910.9 1642.7,912.4 1642.9,910.4 1643.1,908.7 1643.3,909.4 1643.5,908.3 1643.7,912.5 1643.9,910.9 1644.1,910.8 1644.3,910.2 1644.5,916.0 1644.7,910.8 1644.9,913.9 1645.1,906.2 1645.3,905.8 1645.5,905.4 1645.7,907.9 1645.9,923.8 1646.1,907.4 1646.3,910.7 1646.5,908.4 1646.7,912.7 1646.8,911.8 1647.0,908.8 1647.2,905.2 1647.4,910.2 1647.6,903.8 1647.8,902.4 1648.0,913.7 1648.2,910.2 1648.4,912.8 1648.6,910.5 1648.8,911.6 1649.0,910.3 1649.2,907.4 1649.4,907.5 1649.6,909.4 1649.8,910.1 1650.0,909.8 1650.2,909.8 1650.4,908.5 1650.6,910.1 1650.8,908.7 1651.0,913.8 1651.2,907.9 1651.4,905.2 1651.5,909.6 1651.7,914.1 1651.9,906.3 1652.1,911.1 1652.3,918.6 1652.5,910.8 1652.7,908.4 1652.9,909.1 1653.1,906.7 1653.3,908.4 1653.5,909.8 1653.7,915.7 1653.9,913.3 1654.1,909.6 1654.3,908.2 1654.5,913.0 1654.7,911.9 1654.9,908.8 1655.1,915.5 1655.3,915.6 1655.5,910.8 1655.7,909.4 1655.9,911.5 1656.1,916.6 1656.2,910.1 1656.4,913.9 1656.6,908.3 1656.8,910.4 1657.0,923.7 1657.2,908.3 1657.4,911.6 1657.6,907.8 1657.8,906.6 1658.0,909.0 1658.2,906.4 1658.4,911.9 1658.6,907.6 1658.8,909.4 1659.0,912.9 1659.2,910.4 1659.4,911.6 1659.6,911.7 1659.8,909.9 1660.0,924.0 1660.2,911.0 1660.4,909.8 1660.6,914.3 1660.8,909.9 1660.9,906.9 1661.1,907.9 1661.3,908.8 1661.5,911.6 1661.7,912.9 1661.9,910.4 1662.1,913.9 1662.3,913.6 1662.5,907.5 1662.7,912.7 1662.9,905.1 1663.1,914.2 1663.3,908.9 1663.5,913.5 1663.7,909.7 1663.9,913.1 1664.1,922.0 1664.3,910.6 1664.5,911.4 1664.7,908.7 1664.9,905.9 1665.1,911.8 1665.3,907.7 1665.5,909.9 1665.6,910.3 1665.8,904.0 1666.0,916.3 1666.2,912.1 1666.4,915.3 1666.6,911.1 1666.8,910.8 1667.0,899.4 1667.2,909.2 1667.4,905.1 1667.6,906.5 1667.8,911.4 1668.0,908.8 1668.2,905.5 1668.4,909.7 1668.6,909.6 1668.8,908.8 1669.0,914.4 1669.2,912.5 1669.4,909.2 1669.6,908.6 1669.8,912.8 1670.0,911.1 1670.2,910.5 1670.3,910.6 1670.5,908.2 1670.7,909.9 1670.9,909.7 1671.1,914.2 1671.3,913.2 1671.5,909.3 1671.7,914.7 1671.9,909.4 1672.1,912.1 1672.3,912.5 1672.5,908.4 1672.7,912.1 1672.9,912.6 1673.1,912.1 1673.3,910.0 1673.5,902.4 1673.7,916.2 1673.9,910.3 1674.1,910.9 1674.3,907.5 1674.5,911.2 1674.7,917.2 1674.9,906.5 1675.0,913.3 1675.2,910.4 1675.4,914.1 1675.6,913.3 1675.8,911.6 1676.0,907.8 1676.2,907.8 1676.4,911.9 1676.6,908.8 1676.8,911.3 1677.0,909.9 1677.2,909.8 1677.4,908.5 1677.6,912.0 1677.8,910.6 1678.0,909.6 1678.2,910.0 1678.4,912.5 1678.6,905.4 1678.8,911.5 1679.0,908.1 1679.2,909.7 1679.4,906.8 1679.6,916.4 1679.7,904.4 1679.9,910.8 1680.1,913.7 1680.3,909.9 1680.5,903.9 1680.7,908.8 1680.9,913.7 1681.1,911.6 1681.3,906.5 1681.5,914.2 1681.7,910.8 1681.9,911.1 1682.1,904.1 1682.3,911.1 1682.5,906.5 1682.7,912.2 1682.9,912.5 1683.1,907.4 1683.3,908.5 1683.5,915.1 1683.7,908.5 1683.9,908.4 1684.1,912.0 1684.3,909.6 1684.4,909.5 1684.6,911.6 1684.8,911.9 1685.0,912.2 1685.2,911.0 1685.4,914.0 1685.6,910.4 1685.8,922.0 1686.0,910.1 1686.2,910.5 1686.4,913.2 1686.6,907.9 1686.8,904.8 1687.0,906.5 1687.2,914.1 1687.4,906.7 1687.6,909.7 1687.8,910.4 1688.0,912.0 1688.2,910.3 1688.4,906.4 1688.6,908.7 1688.8,911.4 1689.0,912.2 1689.1,911.5 1689.3,908.6 1689.5,905.0 1689.7,913.3 1689.9,910.3 1690.1,911.4 1690.3,912.4 1690.5,909.2 1690.7,908.7 1690.9,914.3 1691.1,913.2 1691.3,906.9 1691.5,909.4 1691.7,908.8 1691.9,911.7 1692.1,911.4 1692.3,909.0 1692.5,911.7 1692.7,913.4 1692.9,910.3 1693.1,907.7 1693.3,913.2 1693.5,907.3 1693.7,908.3 1693.8,912.7 1694.0,910.3 1694.2,910.4 1694.4,908.5 1694.6,908.4 1694.8,914.0 1695.0,914.1 1695.2,907.4 1695.4,910.0 1695.6,909.1 1695.8,909.3 1696.0,906.0 1696.2,913.7 1696.4,907.2 1696.6,912.6 1696.8,908.2 1697.0,906.5 1697.2,914.2 1697.4,909.2 1697.6,911.1 1697.8,911.1 1698.0,910.2 1698.2,913.3 1698.4,913.0 1698.5,908.4 1698.7,907.9 1698.9,911.9 1699.1,914.4 1699.3,903.8 1699.5,907.2 1699.7,909.3 1699.9,913.2 1700.1,911.9 1700.3,909.6 1700.5,913.0 1700.7,905.8 1700.9,909.9 1701.1,909.2 1701.3,913.2 1701.5,912.8 1701.7,912.5 1701.9,909.5 1702.1,911.0 1702.3,911.1 1702.5,909.4 1702.7,909.7 1702.9,906.1 1703.1,910.9 1703.2,913.1 1703.4,910.3 1703.6,906.2 1703.8,911.9 1704.0,910.2 1704.2,911.3 1704.4,909.2 1704.6,909.6 1704.8,912.6 1705.0,910.9 1705.2,907.7 1705.4,907.2 1705.6,907.7 1705.8,907.9 1706.0,911.2 1706.2,911.3 1706.4,907.7 1706.6,913.6 1706.8,910.5 1707.0,915.5 1707.2,911.4 1707.4,912.3 1707.6,913.7 1707.8,908.7 1707.9,912.4 1708.1,911.3 1708.3,911.0 1708.5,912.4 1708.7,906.3 1708.9,911.7 1709.1,909.8 1709.3,914.0 1709.5,911.6 1709.7,911.2 1709.9,911.2 1710.1,911.9 1710.3,909.9 1710.5,906.0 1710.7,910.7 1710.9,910.7 1711.1,911.4 1711.3,903.2 1711.5,905.8 1711.7,921.6 1711.9,908.3 1712.1,912.3 1712.3,910.7 1712.5,909.7 1712.6,910.0 1712.8,912.7 1713.0,912.5 1713.2,908.9 1713.4,909.4 1713.6,916.2 1713.8,910.0 1714.0,906.8 1714.2,912.1 1714.4,909.6 1714.6,914.4 1714.8,908.0 1715.0,913.4 1715.2,913.8 1715.4,911.2 1715.6,903.7 1715.8,912.0 1716.0,913.8 1716.2,909.0 1716.4,909.7 1716.6,905.7 1716.8,913.8 1717.0,914.7 1717.2,911.2 1717.3,909.3 1717.5,909.3 1717.7,907.3 1717.9,914.5 1718.1,912.6 1718.3,910.7 1718.5,908.0 1718.7,909.0 1718.9,911.5 1719.1,913.2 1719.3,907.8 1719.5,907.7 1719.7,902.7 1719.9,910.8 1720.1,905.8 1720.3,913.7 1720.5,911.8 1720.7,912.2 1720.9,911.6 1721.1,912.7 1721.3,911.8 1721.5,910.5 1721.7,911.6 1721.9,908.5 1722.0,910.5 1722.2,910.3 1722.4,906.2 1722.6,909.4 1722.8,909.9 1723.0,910.4 1723.2,910.1 1723.4,908.7 1723.6,912.5 1723.8,907.1 1724.0,905.9 1724.2,907.1 1724.4,911.7 1724.6,914.7 1724.8,911.5 1725.0,909.9 1725.2,908.0 1725.4,910.8 1725.6,911.2 1725.8,906.1 1726.0,912.2 1726.2,907.3 1726.4,907.8 1726.6,914.0 1726.7,909.5 1726.9,911.9" fill="none" stroke="#000000" stroke-width="1.5" stroke-linejoin="round" />
<line x1="356" y1="917.5" x2="1727" y2="917.5" stroke="#00ff00" stroke-width="2.4"/>
<line x1="497.9" y1="917.6" x2="1727" y2="917.6" stroke="#0000ff" stroke-width="1.8"/>
<polyline points="497.9,915.1 518.7,912.8 539.6,909.7 560.4,906.5 581.2,904.5 602.1,904.4 622.9,906.4 643.7,909.5 664.6,912.6 685.4,915.0 706.3,916.5 727.1,917.2 747.9,917.5 768.8,917.6 789.6,917.6 810.4,917.6 831.3,917.6 852.1,917.6 872.9,917.6 893.8,917.6 914.6,917.6 935.5,917.6 956.3,917.6 977.1,917.6 998.0,917.6 1018.8,917.6 1039.6,917.6 1060.5,917.6 1081.3,917.6 1102.2,917.6 1123.0,917.6 1143.8,917.6 1164.7,917.6 1185.5,917.6 1206.3,917.6 1227.2,917.6 1248.0,917.6 1268.8,917.6 1289.7,917.6 1310.5,917.6 1331.4,917.6 1352.2,917.6 1373.0,917.6 1393.9,917.6 1414.7,917.6 1435.5,917.6 1456.4,917.6 1477.2,917.6 1498.1,917.6 1518.9,917.6 1539.7,917.6 1560.6,917.6 1581.4,917.6 1602.2,917.6 1623.1,917.6 1643.9,917.6 1664.7,917.6 1685.6,917.6 1706.4,917.6" fill="none" stroke="#0000ff" stroke-width="1.8" stroke-linejoin="round" />
<polyline points="497.9,917.6 518.7,917.6 539.6,917.6 560.4,917.6 581.2,917.6 602.1,917.6 622.9,917.6 643.7,917.6 664.6,917.6 685.4,917.6 706.3,917.6 727.1,917.6 747.9,917.2 768.8,914.4 789.6,899.5 810.4,849.0 831.3,746.0 852.1,633.4 872.9,606.2 893.8,691.8 914.6,809.2 935.5,883.2 956.3,910.4 977.1,916.6 998.0,917.5 1018.8,917.6 1039.6,917.6 1060.5,917.6 1081.3,917.6 1102.2,917.6 1123.0,917.6 1143.8,917.6 1164.7,917.6 1185.5,917.6 1206.3,917.6 1227.2,917.6 1248.0,917.6 1268.8,917.6 1289.7,917.6 1310.5,917.6 1331.4,917.6 1352.2,917.6 1373.0,917.6 1393.9,917.6 1414.7,917.6 1435.5,917.6 1456.4,917.6 1477.2,917.6 1498.1,917.6 1518.9,917.6 1539.7,917.6 1560.6,917.6 1581.4,917.6 1602.2,917.6 1623.1,917.6 1643.9,917.6 1664.7,917.6 1685.6,917.6 1706.4,917.6" fill="none" stroke="#0000ff" stroke-width="1.8" stroke-linejoin="round" />
<polyline points="497.9,915.8 518.7,914.8 539.6,913.4 560.4,911.4 581.2,908.5 602.1,904.5 622.9,899.0 643.7,891.7 664.6,882.0 685.4,869.5 706.3,853.6 727.1,833.8 747.9,809.7 768.8,780.8 789.6,747.0 810.4,708.1 831.3,664.5 852.1,616.6 872.9,565.4 893.8,512.1 914.6,458.0 935.5,405.1 956.3,355.1 977.1,310.1 998.0,271.9 1018.8,242.2 1039.6,222.3 1060.5,213.3 1081.3,215.5 1102.2,228.8 1123.0,252.6 1143.8,285.7 1164.7,326.8 1185.5,374.0 1206.3,425.3 1227.2,478.9 1248.0,532.9 1268.8,585.6 1289.7,635.6 1310.5,681.9 1331.4,723.7 1352.2,760.7 1373.0,792.6 1393.9,819.6 1414.7,842.0 1435.5,860.2 1456.4,874.7 1477.2,886.1 1498.1,894.8 1518.9,901.4 1539.7,906.2 1560.6,909.7 1581.4,912.3 1602.2,914.0 1623.1,915.3 1643.9,916.1 1664.7,916.6 1685.6,917.0 1706.4,917.2" fill="none" stroke="#0000ff" stroke-width="1.8" stroke-linejoin="round" />
<polyline points="356.1,917.4 375.8,917.2 401.6,916.7 427.4,915.4 453.2,913.1 478.9,909.4 504.7,904.1 530.5,897.9 556.2,891.7 582.0,887.0 607.8,884.5 633.6,883.9 659.3,883.7 685.1,881.9 710.9,876.3 736.6,866.2 762.4,851.8 788.2,835.1 814.0,818.7 839.7,805.5 865.5,798.1 891.3,798.0 917.0,805.2 942.8,818.5 968.6,835.7 994.4,854.0 1020.1,871.3 1045.9,886.0 1071.7,897.3 1097.5,905.4 1123.2,910.7 1149.0,914.0 1174.8,915.8 1200.5,916.8 1226.3,917.2 1252.1,917.4 1277.9,917.5 1303.6,917.6 1329.4,917.6 1355.2,917.6 1380.9,917.6 1406.7,917.6 1432.5,917.6 1458.3,917.6 1484.0,917.6 1509.8,917.6 1535.6,917.6 1561.3,917.6 1587.1,917.6 1612.9,917.6 1638.7,917.6 1664.4,917.6 1690.2,917.6 1716.0,917.6 1726.9,917.6" fill="none" stroke="#ff0000" stroke-width="1.6" stroke-linejoin="round" />
<polyline points="356.1,917.4 375.8,917.2 401.6,916.7 427.4,915.4 453.2,913.1 478.9,909.4 504.7,904.3 530.5,898.2 556.2,892.5 582.0,888.7 607.8,888.0 633.6,890.6 659.3,895.6 685.1,901.7 710.9,907.4 736.6,911.7 762.4,914.6 788.2,916.2 814.0,917.0 839.7,917.4 865.5,917.5 891.3,917.6 917.0,917.6 942.8,917.6 968.6,917.6 994.4,917.6 1020.1,917.6 1045.9,917.6 1071.7,917.6 1097.5,917.6 1123.2,917.6 1149.0,917.6 1174.8,917.6 1200.5,917.6 1226.3,917.6 1252.1,917.6 1277.9,917.6 1303.6,917.6 1329.4,917.6 1355.2,917.6 1380.9,917.6 1406.7,917.6 1432.5,917.6 1458.3,917.6 1484.0,917.6 1509.8,917.6 1535.6,917.6 1561.3,917.6 1587.1,917.6 1612.9,917.6 1638.7,917.6 1664.4,917.6 1690.2,917.6 1716.0,917.6 1726.9,917.6" fill="none" stroke="#00ff00" stroke-width="2.2" stroke-linejoin="round" />
<polyline points="356.1,917.6 375.8,917.6 401.6,917.6 427.4,917.6 453.2,917.6 478.9,917.5 504.7,917.5 530.5,917.2 556.2,916.8 582.0,915.9 607.8,914.1 633.6,910.9 659.3,905.7 685.1,897.8 710.9,886.6 736.6,872.0 762.4,854.8 788.2,836.5 814.0,819.3 839.7,805.7 865.5,798.2 891.3,798.0 917.0,805.2 942.8,818.5 968.6,835.7 994.4,854.0 1020.1,871.3 1045.9,886.0 1071.7,897.3 1097.5,905.4 1123.2,910.7 1149.0,914.0 1174.8,915.8 1200.5,916.8 1226.3,917.2 1252.1,917.4 1277.9,917.5 1303.6,917.6 1329.4,917.6 1355.2,917.6 1380.9,917.6 1406.7,917.6 1432.5,917.6 1458.3,917.6 1484.0,917.6 1509.8,917.6 1535.6,917.6 1561.3,917.6 1587.1,917.6 1612.9,917.6 1638.7,917.6 1664.4,917.6 1690.2,917.6 1716.0,917.6 1726.9,917.6" fill="none" stroke="#00ff00" stroke-width="2.2" stroke-linejoin="round" />
</g>
<g stroke="#000" stroke-width="4" stroke-linecap="round"><line x1="356" y1="33" x2="356" y2="967" /><line x1="356" y1="967" x2="1727" y2="967" /></g>
<g font-family="Liberation Sans, Arial, sans-serif" font-size="77" fill="#000" letter-spacing="1.8">
<text x="331.9" y="151.8" text-anchor="end">1600</text>
<text x="331.9" y="347.2" text-anchor="end">1200</text>
<text x="331.9" y="545.2" text-anchor="end">800</text>
<text x="331.9" y="741.7" text-anchor="end">400</text>
<text x="331.9" y="938.0" text-anchor="end">0</text>
<text x="483.9" y="1044" >600</text>
<text x="717.6" y="1044" >660</text>
<text x="953.2" y="1044" >720</text>
<text x="1187.3" y="1044" >780</text>
<text x="1423.8" y="1044" >840</text>
<text x="1657.9" y="1044" >900</text>
<text y="1165.4" font-size="76" letter-spacing="2.75"><tspan x="735">Wavelength</tspan><tspan x="1157"> (nm)</tspan></text>
<text transform="translate(72.9,704.2) rotate(-90)" font-size="75.3" letter-spacing="0">PL intensity</text>
<text x="575.9" y="827">632</text>
<text x="803.5" y="206.5">680</text>
<text x="993.5" y="122.4">732</text>
</g>
</svg>
</body></html>
